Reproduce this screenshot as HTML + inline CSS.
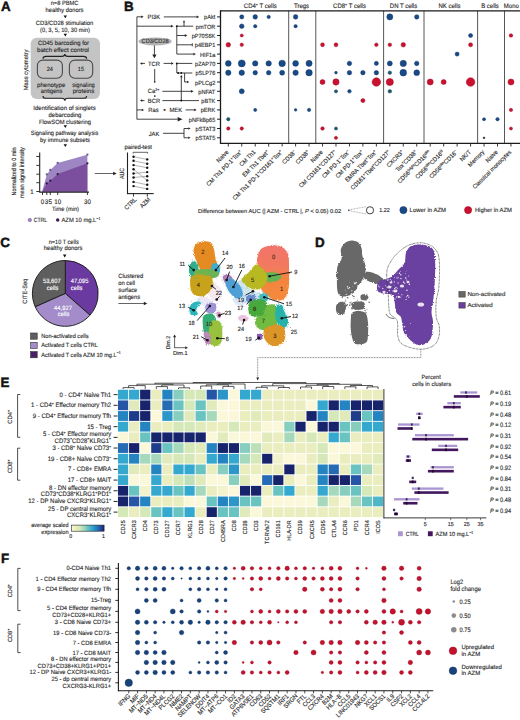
<!DOCTYPE html>
<html><head><meta charset="utf-8"><style>
html,body{margin:0;padding:0;background:#fff;width:520px;height:720px;overflow:hidden}
svg{display:block}
text{font-family:"Liberation Sans", sans-serif;text-rendering:geometricPrecision}
</style></head><body>
<svg width="520" height="720" viewBox="0 0 520 720">
<rect width="520" height="720" fill="#fff"/>
<text x="0.90" y="11.30" font-size="13.40" text-anchor="start" fill="#111" stroke="#111" stroke-width="0.45" font-weight="bold" >A</text>
<text x="64.50" y="5.30" font-size="6.21" text-anchor="middle" fill="#2a2a2a" stroke="#2a2a2a" stroke-width="0.13" textLength="27.70" lengthAdjust="spacingAndGlyphs" >n=8 PBMC</text>
<text x="64.50" y="11.80" font-size="6.21" text-anchor="middle" fill="#2a2a2a" stroke="#2a2a2a" stroke-width="0.13" textLength="38.00" lengthAdjust="spacingAndGlyphs" >healthy donors</text>
<polygon points="63.60,15.60 67.00,15.60 65.30,18.30" fill="#111"/>
<text x="64.50" y="25.00" font-size="6.21" text-anchor="middle" fill="#2a2a2a" stroke="#2a2a2a" stroke-width="0.13" textLength="57.50" lengthAdjust="spacingAndGlyphs" >CD3/CD28 stimulation</text>
<text x="65.00" y="31.60" font-size="6.21" text-anchor="middle" fill="#2a2a2a" stroke="#2a2a2a" stroke-width="0.13" textLength="50.00" lengthAdjust="spacingAndGlyphs" >(0, 3, 5, 10, 30 min)</text>
<polygon points="63.60,33.70 67.00,33.70 65.30,36.40" fill="#111"/>
<rect x="30.70" y="37.70" width="69.30" height="61.30" fill="#c4c4c4" stroke="none" stroke-width="0" rx="6"/>
<text x="63.50" y="44.60" font-size="6.21" text-anchor="middle" fill="#2a2a2a" stroke="#2a2a2a" stroke-width="0.13" textLength="51.00" lengthAdjust="spacingAndGlyphs" >CD45 barcoding for</text>
<text x="63.00" y="51.70" font-size="6.21" text-anchor="middle" fill="#2a2a2a" stroke="#2a2a2a" stroke-width="0.13" textLength="52.00" lengthAdjust="spacingAndGlyphs" >batch effect control</text>
<path d="M43.00,58.70 Q43.00,56.40 46.00,56.40 L61.80,56.40 Q64.80,56.40 64.80,54.10 Q64.80,56.40 67.80,56.40 L83.60,56.40 Q86.60,56.40 86.60,58.70" fill="none" stroke="#222" stroke-width="1.1" />
<rect x="37.40" y="60.10" width="25.00" height="18.20" fill="none" stroke="#4a4a4a" stroke-width="1.1" rx="5.5"/>
<rect x="69.40" y="60.10" width="23.30" height="18.10" fill="none" stroke="#4a4a4a" stroke-width="1.1" rx="5.5"/>
<text x="49.80" y="71.20" font-size="5.99" text-anchor="middle" fill="#2a2a2a" stroke="#2a2a2a" stroke-width="0.13" transform="translate(49.80 71.20) scale(0.9346 1) translate(-49.80 -71.20)" >24</text>
<text x="81.00" y="71.20" font-size="5.99" text-anchor="middle" fill="#2a2a2a" stroke="#2a2a2a" stroke-width="0.13" transform="translate(81.00 71.20) scale(0.9346 1) translate(-81.00 -71.20)" >15</text>
<text x="51.20" y="87.00" font-size="6.21" text-anchor="middle" fill="#2a2a2a" stroke="#2a2a2a" stroke-width="0.13" textLength="28.30" lengthAdjust="spacingAndGlyphs" >phenotype</text>
<text x="51.60" y="92.80" font-size="6.21" text-anchor="middle" fill="#2a2a2a" stroke="#2a2a2a" stroke-width="0.13" textLength="21.60" lengthAdjust="spacingAndGlyphs" >antigens</text>
<text x="83.50" y="87.00" font-size="6.21" text-anchor="middle" fill="#2a2a2a" stroke="#2a2a2a" stroke-width="0.13" textLength="22.50" lengthAdjust="spacingAndGlyphs" >signaling</text>
<text x="83.50" y="92.80" font-size="6.21" text-anchor="middle" fill="#2a2a2a" stroke="#2a2a2a" stroke-width="0.13" textLength="21.60" lengthAdjust="spacingAndGlyphs" >proteins</text>
<path d="M43.00,95.90 Q43.00,98.30 46.00,98.30 L61.80,98.30 Q64.80,98.30 64.80,100.70 Q64.80,98.30 67.80,98.30 L83.60,98.30 Q86.60,98.30 86.60,95.90" fill="none" stroke="#222" stroke-width="1.1" />
<text x="28.40" y="70.00" font-size="6.21" text-anchor="middle" fill="#2a2a2a" stroke="#2a2a2a" stroke-width="0.13" textLength="40.70" lengthAdjust="spacingAndGlyphs" transform="rotate(-90 28.40 70.00)" >Mass cytometry</text>
<text x="64.50" y="109.90" font-size="6.21" text-anchor="middle" fill="#2a2a2a" stroke="#2a2a2a" stroke-width="0.13" textLength="62.30" lengthAdjust="spacingAndGlyphs" >Identification of singlets</text>
<text x="65.00" y="117.30" font-size="6.21" text-anchor="middle" fill="#2a2a2a" stroke="#2a2a2a" stroke-width="0.13" textLength="32.90" lengthAdjust="spacingAndGlyphs" >debarcoding</text>
<text x="65.00" y="124.00" font-size="6.21" text-anchor="middle" fill="#2a2a2a" stroke="#2a2a2a" stroke-width="0.13" textLength="52.00" lengthAdjust="spacingAndGlyphs" >FlowSOM clustering</text>
<polygon points="63.60,125.30 67.00,125.30 65.30,128.00" fill="#111"/>
<text x="64.50" y="134.90" font-size="6.21" text-anchor="middle" fill="#2a2a2a" stroke="#2a2a2a" stroke-width="0.13" textLength="67.50" lengthAdjust="spacingAndGlyphs" >Signaling pathway analysis</text>
<text x="65.00" y="141.80" font-size="6.21" text-anchor="middle" fill="#2a2a2a" stroke="#2a2a2a" stroke-width="0.13" textLength="50.00" lengthAdjust="spacingAndGlyphs" >by immune subsets</text>
<polygon points="63.60,144.30 67.00,144.30 65.30,147.00" fill="#111"/>
<polygon points="42.2,191.5 46.8,174.4 50.3,170.0 57.7,163.0 87.4,154.7 87.4,191.8 42.2,191.8" fill="#9e85c4"/>
<polygon points="42.2,191.5 46.8,183.4 50.3,180.7 57.7,174.1 87.4,163.3 87.4,191.8 42.2,191.8" fill="#7b4f9e"/>
<circle cx="46.80" cy="174.40" r="1.15" fill="#6f5a8e" stroke="none" stroke-width="0"/>
<circle cx="50.30" cy="170.00" r="1.15" fill="#6f5a8e" stroke="none" stroke-width="0"/>
<circle cx="57.70" cy="163.00" r="1.15" fill="#6f5a8e" stroke="none" stroke-width="0"/>
<circle cx="87.40" cy="154.70" r="1.15" fill="#6f5a8e" stroke="none" stroke-width="0"/>
<circle cx="46.80" cy="183.40" r="1.15" fill="#34163f" stroke="none" stroke-width="0"/>
<circle cx="50.30" cy="180.70" r="1.15" fill="#34163f" stroke="none" stroke-width="0"/>
<circle cx="57.70" cy="174.10" r="1.15" fill="#34163f" stroke="none" stroke-width="0"/>
<circle cx="87.40" cy="163.30" r="1.15" fill="#34163f" stroke="none" stroke-width="0"/>
<line x1="39.70" y1="152.40" x2="39.70" y2="192.60" stroke="#222" stroke-width="1.1" />
<line x1="39.50" y1="192.10" x2="89.00" y2="192.10" stroke="#222" stroke-width="1.1" />
<line x1="36.30" y1="156.50" x2="39.70" y2="156.50" stroke="#222" stroke-width="0.9" />
<line x1="36.30" y1="165.40" x2="39.70" y2="165.40" stroke="#222" stroke-width="0.9" />
<line x1="36.30" y1="174.20" x2="39.70" y2="174.20" stroke="#222" stroke-width="0.9" />
<line x1="36.30" y1="182.70" x2="39.70" y2="182.70" stroke="#222" stroke-width="0.9" />
<line x1="36.30" y1="191.50" x2="39.70" y2="191.50" stroke="#222" stroke-width="0.9" />
<line x1="42.50" y1="192.00" x2="42.50" y2="195.00" stroke="#222" stroke-width="0.9" />
<line x1="46.80" y1="192.00" x2="46.80" y2="195.00" stroke="#222" stroke-width="0.9" />
<line x1="50.30" y1="192.00" x2="50.30" y2="195.00" stroke="#222" stroke-width="0.9" />
<line x1="57.70" y1="192.00" x2="57.70" y2="195.00" stroke="#222" stroke-width="0.9" />
<line x1="87.40" y1="192.00" x2="87.40" y2="195.00" stroke="#222" stroke-width="0.9" />
<text x="33.60" y="193.60" font-size="6.42" text-anchor="end" fill="#2a2a2a" stroke="#2a2a2a" stroke-width="0.13" transform="translate(33.60 193.60) scale(0.9346 1) translate(-33.60 -193.60)" >1</text>
<text x="42.50" y="203.90" font-size="6.63" text-anchor="middle" fill="#2a2a2a" stroke="#2a2a2a" stroke-width="0.13" transform="translate(42.50 203.90) scale(0.9346 1) translate(-42.50 -203.90)" >0</text>
<text x="46.50" y="203.90" font-size="6.63" text-anchor="middle" fill="#2a2a2a" stroke="#2a2a2a" stroke-width="0.13" transform="translate(46.50 203.90) scale(0.9346 1) translate(-46.50 -203.90)" >3</text>
<text x="50.30" y="203.90" font-size="6.63" text-anchor="middle" fill="#2a2a2a" stroke="#2a2a2a" stroke-width="0.13" transform="translate(50.30 203.90) scale(0.9346 1) translate(-50.30 -203.90)" >5</text>
<text x="57.70" y="203.90" font-size="6.63" text-anchor="middle" fill="#2a2a2a" stroke="#2a2a2a" stroke-width="0.13" transform="translate(57.70 203.90) scale(0.9346 1) translate(-57.70 -203.90)" >10</text>
<text x="87.40" y="203.90" font-size="6.63" text-anchor="middle" fill="#2a2a2a" stroke="#2a2a2a" stroke-width="0.13" transform="translate(87.40 203.90) scale(0.9346 1) translate(-87.40 -203.90)" >30</text>
<text x="65.50" y="211.30" font-size="6.21" text-anchor="middle" fill="#2a2a2a" stroke="#2a2a2a" stroke-width="0.13" textLength="27.00" lengthAdjust="spacingAndGlyphs" >Time (min)</text>
<text x="15.80" y="171.50" font-size="6.21" text-anchor="middle" fill="#2a2a2a" stroke="#2a2a2a" stroke-width="0.13" textLength="48.00" lengthAdjust="spacingAndGlyphs" transform="rotate(-90 15.80 171.50)" >Normalized to 0 min</text>
<text x="24.20" y="172.60" font-size="6.21" text-anchor="middle" fill="#2a2a2a" stroke="#2a2a2a" stroke-width="0.13" textLength="50.70" lengthAdjust="spacingAndGlyphs" transform="rotate(-90 24.20 172.60)" >mean signal intensity</text>
<circle cx="29.80" cy="220.00" r="1.70" fill="#a48cc8" stroke="#6e5a90" stroke-width="0.6"/>
<text x="33.70" y="222.10" font-size="6.21" text-anchor="start" fill="#2a2a2a" stroke="#2a2a2a" stroke-width="0.13" textLength="13.40" lengthAdjust="spacingAndGlyphs" >CTRL</text>
<circle cx="57.70" cy="220.00" r="1.70" fill="#3a1a4e" stroke="none" stroke-width="0"/>
<text x="61.50" y="222.10" font-size="6.21" text-anchor="start" fill="#2a2a2a" stroke="#2a2a2a" stroke-width="0.13" transform="translate(61.50 222.10) scale(0.9346 1) translate(-61.50 -222.10)" >AZM 10 mg.L<tspan font-size="3.85" dy="-2.35">−1</tspan></text>
<line x1="94.80" y1="173.50" x2="113.30" y2="173.50" stroke="#222" stroke-width="0.7" />
<polygon points="113.10,171.68 116.70,173.50 113.10,175.32" fill="#222"/>
<text x="124.30" y="173.50" font-size="6.21" text-anchor="middle" fill="#2a2a2a" stroke="#2a2a2a" stroke-width="0.13" textLength="11.00" lengthAdjust="spacingAndGlyphs" transform="rotate(-90 124.30 173.50)" >AUC</text>
<text x="138.20" y="148.80" font-size="6.21" text-anchor="middle" fill="#2a2a2a" stroke="#2a2a2a" stroke-width="0.13" textLength="27.60" lengthAdjust="spacingAndGlyphs" >paired-test</text>
<path d="M133.1,153.6 L133.1,152.3 L147.6,152.3 L147.6,153.6" fill="none" stroke="#222" stroke-width="0.7" />
<line x1="127.50" y1="152.50" x2="127.50" y2="194.10" stroke="#222" stroke-width="1.1" />
<line x1="127.00" y1="193.60" x2="153.70" y2="193.60" stroke="#222" stroke-width="1.1" />
<line x1="133.50" y1="193.60" x2="133.50" y2="196.60" stroke="#222" stroke-width="0.9" />
<line x1="147.30" y1="193.60" x2="147.30" y2="196.60" stroke="#222" stroke-width="0.9" />
<line x1="133.55" y1="156.70" x2="147.20" y2="159.40" stroke="#777" stroke-width="0.55" />
<line x1="133.55" y1="160.80" x2="147.20" y2="163.70" stroke="#777" stroke-width="0.55" />
<line x1="133.55" y1="165.10" x2="147.20" y2="167.80" stroke="#777" stroke-width="0.55" />
<line x1="133.55" y1="169.30" x2="147.20" y2="180.40" stroke="#777" stroke-width="0.55" />
<line x1="133.55" y1="173.50" x2="147.20" y2="172.10" stroke="#777" stroke-width="0.55" />
<line x1="133.55" y1="177.50" x2="147.20" y2="176.30" stroke="#777" stroke-width="0.55" />
<line x1="133.55" y1="181.90" x2="147.20" y2="184.80" stroke="#777" stroke-width="0.55" />
<line x1="133.55" y1="186.10" x2="147.20" y2="188.90" stroke="#777" stroke-width="0.55" />
<circle cx="133.55" cy="156.70" r="1.20" fill="#111" stroke="none" stroke-width="0"/>
<circle cx="147.20" cy="159.40" r="1.20" fill="#111" stroke="none" stroke-width="0"/>
<circle cx="133.55" cy="160.80" r="1.20" fill="#111" stroke="none" stroke-width="0"/>
<circle cx="147.20" cy="163.70" r="1.20" fill="#111" stroke="none" stroke-width="0"/>
<circle cx="133.55" cy="165.10" r="1.20" fill="#111" stroke="none" stroke-width="0"/>
<circle cx="147.20" cy="167.80" r="1.20" fill="#111" stroke="none" stroke-width="0"/>
<circle cx="133.55" cy="169.30" r="1.20" fill="#111" stroke="none" stroke-width="0"/>
<circle cx="147.20" cy="172.10" r="1.20" fill="#111" stroke="none" stroke-width="0"/>
<circle cx="133.55" cy="173.50" r="1.20" fill="#111" stroke="none" stroke-width="0"/>
<circle cx="147.20" cy="176.30" r="1.20" fill="#111" stroke="none" stroke-width="0"/>
<circle cx="133.55" cy="177.50" r="1.20" fill="#111" stroke="none" stroke-width="0"/>
<circle cx="147.20" cy="180.40" r="1.20" fill="#111" stroke="none" stroke-width="0"/>
<circle cx="133.55" cy="181.90" r="1.20" fill="#111" stroke="none" stroke-width="0"/>
<circle cx="147.20" cy="184.80" r="1.20" fill="#111" stroke="none" stroke-width="0"/>
<circle cx="133.55" cy="186.10" r="1.20" fill="#111" stroke="none" stroke-width="0"/>
<circle cx="147.20" cy="188.90" r="1.20" fill="#111" stroke="none" stroke-width="0"/>
<text x="137.00" y="200.00" font-size="6.21" text-anchor="end" fill="#2a2a2a" stroke="#2a2a2a" stroke-width="0.13" textLength="14.50" lengthAdjust="spacingAndGlyphs" transform="rotate(-45 137.00 200.00)" >CTRL</text>
<text x="150.80" y="200.00" font-size="6.21" text-anchor="end" fill="#2a2a2a" stroke="#2a2a2a" stroke-width="0.13" textLength="12.00" lengthAdjust="spacingAndGlyphs" transform="rotate(-45 150.80 200.00)" >AZM</text>
<text x="123.90" y="11.30" font-size="13.40" text-anchor="start" fill="#111" stroke="#111" stroke-width="0.45" font-weight="bold" >B</text>
<line x1="217.00" y1="16.90" x2="220.50" y2="16.90" stroke="#222" stroke-width="1.0" />
<text x="215.30" y="19.40" font-size="5.99" text-anchor="end" fill="#2a2a2a" stroke="#2a2a2a" stroke-width="0.13" transform="translate(215.30 19.40) scale(0.9346 1) translate(-215.30 -19.40)" >pAkt</text>
<line x1="217.00" y1="26.20" x2="220.50" y2="26.20" stroke="#222" stroke-width="1.0" />
<text x="215.30" y="28.70" font-size="5.99" text-anchor="end" fill="#2a2a2a" stroke="#2a2a2a" stroke-width="0.13" transform="translate(215.30 28.70) scale(0.9346 1) translate(-215.30 -28.70)" >pmTOR</text>
<line x1="217.00" y1="35.50" x2="220.50" y2="35.50" stroke="#222" stroke-width="1.0" />
<text x="215.30" y="38.00" font-size="5.99" text-anchor="end" fill="#2a2a2a" stroke="#2a2a2a" stroke-width="0.13" transform="translate(215.30 38.00) scale(0.9346 1) translate(-215.30 -38.00)" >pP70S6K</text>
<line x1="217.00" y1="44.80" x2="220.50" y2="44.80" stroke="#222" stroke-width="1.0" />
<text x="215.30" y="47.30" font-size="5.99" text-anchor="end" fill="#2a2a2a" stroke="#2a2a2a" stroke-width="0.13" transform="translate(215.30 47.30) scale(0.9346 1) translate(-215.30 -47.30)" >p4EBP1</text>
<line x1="217.00" y1="54.10" x2="220.50" y2="54.10" stroke="#222" stroke-width="1.0" />
<text x="215.30" y="56.60" font-size="5.99" text-anchor="end" fill="#2a2a2a" stroke="#2a2a2a" stroke-width="0.13" transform="translate(215.30 56.60) scale(0.9346 1) translate(-215.30 -56.60)" >HIF1a</text>
<line x1="217.00" y1="63.40" x2="220.50" y2="63.40" stroke="#222" stroke-width="1.0" />
<text x="215.30" y="65.90" font-size="5.99" text-anchor="end" fill="#2a2a2a" stroke="#2a2a2a" stroke-width="0.13" transform="translate(215.30 65.90) scale(0.9346 1) translate(-215.30 -65.90)" >pZAP70</text>
<line x1="217.00" y1="72.70" x2="220.50" y2="72.70" stroke="#222" stroke-width="1.0" />
<text x="215.30" y="75.20" font-size="5.99" text-anchor="end" fill="#2a2a2a" stroke="#2a2a2a" stroke-width="0.13" transform="translate(215.30 75.20) scale(0.9346 1) translate(-215.30 -75.20)" >pSLP76</text>
<line x1="217.00" y1="82.00" x2="220.50" y2="82.00" stroke="#222" stroke-width="1.0" />
<text x="215.30" y="84.50" font-size="5.99" text-anchor="end" fill="#2a2a2a" stroke="#2a2a2a" stroke-width="0.13" transform="translate(215.30 84.50) scale(0.9346 1) translate(-215.30 -84.50)" >pPLCg2</text>
<line x1="217.00" y1="91.30" x2="220.50" y2="91.30" stroke="#222" stroke-width="1.0" />
<text x="215.30" y="93.80" font-size="5.99" text-anchor="end" fill="#2a2a2a" stroke="#2a2a2a" stroke-width="0.13" transform="translate(215.30 93.80) scale(0.9346 1) translate(-215.30 -93.80)" >pNFAT</text>
<line x1="217.00" y1="100.60" x2="220.50" y2="100.60" stroke="#222" stroke-width="1.0" />
<text x="215.30" y="103.10" font-size="5.99" text-anchor="end" fill="#2a2a2a" stroke="#2a2a2a" stroke-width="0.13" transform="translate(215.30 103.10) scale(0.9346 1) translate(-215.30 -103.10)" >pBTK</text>
<line x1="217.00" y1="109.90" x2="220.50" y2="109.90" stroke="#222" stroke-width="1.0" />
<text x="215.30" y="112.40" font-size="5.99" text-anchor="end" fill="#2a2a2a" stroke="#2a2a2a" stroke-width="0.13" transform="translate(215.30 112.40) scale(0.9346 1) translate(-215.30 -112.40)" >pERK</text>
<line x1="217.00" y1="119.20" x2="220.50" y2="119.20" stroke="#222" stroke-width="1.0" />
<text x="215.30" y="121.70" font-size="5.99" text-anchor="end" fill="#2a2a2a" stroke="#2a2a2a" stroke-width="0.13" transform="translate(215.30 121.70) scale(0.9346 1) translate(-215.30 -121.70)" >pNFkBp65</text>
<line x1="217.00" y1="128.50" x2="220.50" y2="128.50" stroke="#222" stroke-width="1.0" />
<text x="215.30" y="131.00" font-size="5.99" text-anchor="end" fill="#2a2a2a" stroke="#2a2a2a" stroke-width="0.13" transform="translate(215.30 131.00) scale(0.9346 1) translate(-215.30 -131.00)" >pSTAT3</text>
<line x1="217.00" y1="137.80" x2="220.50" y2="137.80" stroke="#222" stroke-width="1.0" />
<text x="215.30" y="140.30" font-size="5.99" text-anchor="end" fill="#2a2a2a" stroke="#2a2a2a" stroke-width="0.13" transform="translate(215.30 140.30) scale(0.9346 1) translate(-215.30 -140.30)" >pSTAT5</text>
<line x1="288.70" y1="10.80" x2="288.70" y2="143.30" stroke="#444" stroke-width="0.9" />
<line x1="315.80" y1="10.80" x2="315.80" y2="143.30" stroke="#444" stroke-width="0.9" />
<line x1="383.60" y1="10.80" x2="383.60" y2="143.30" stroke="#444" stroke-width="0.9" />
<line x1="424.00" y1="10.80" x2="424.00" y2="143.30" stroke="#444" stroke-width="0.9" />
<line x1="477.60" y1="10.80" x2="477.60" y2="143.30" stroke="#444" stroke-width="0.9" />
<line x1="504.50" y1="10.80" x2="504.50" y2="143.30" stroke="#444" stroke-width="0.9" />
<line x1="220.50" y1="10.80" x2="521.00" y2="10.80" stroke="#1a1a1a" stroke-width="1.3" />
<line x1="220.50" y1="10.15" x2="220.50" y2="143.95" stroke="#1a1a1a" stroke-width="1.3" />
<line x1="220.50" y1="143.30" x2="521.00" y2="143.30" stroke="#1a1a1a" stroke-width="1.3" />
<line x1="228.30" y1="143.30" x2="228.30" y2="146.50" stroke="#222" stroke-width="0.9" />
<line x1="241.76" y1="143.30" x2="241.76" y2="146.50" stroke="#222" stroke-width="0.9" />
<line x1="255.22" y1="143.30" x2="255.22" y2="146.50" stroke="#222" stroke-width="0.9" />
<line x1="268.68" y1="143.30" x2="268.68" y2="146.50" stroke="#222" stroke-width="0.9" />
<line x1="282.14" y1="143.30" x2="282.14" y2="146.50" stroke="#222" stroke-width="0.9" />
<line x1="295.60" y1="143.30" x2="295.60" y2="146.50" stroke="#222" stroke-width="0.9" />
<line x1="309.06" y1="143.30" x2="309.06" y2="146.50" stroke="#222" stroke-width="0.9" />
<line x1="322.52" y1="143.30" x2="322.52" y2="146.50" stroke="#222" stroke-width="0.9" />
<line x1="335.98" y1="143.30" x2="335.98" y2="146.50" stroke="#222" stroke-width="0.9" />
<line x1="349.44" y1="143.30" x2="349.44" y2="146.50" stroke="#222" stroke-width="0.9" />
<line x1="362.90" y1="143.30" x2="362.90" y2="146.50" stroke="#222" stroke-width="0.9" />
<line x1="376.36" y1="143.30" x2="376.36" y2="146.50" stroke="#222" stroke-width="0.9" />
<line x1="389.82" y1="143.30" x2="389.82" y2="146.50" stroke="#222" stroke-width="0.9" />
<line x1="403.28" y1="143.30" x2="403.28" y2="146.50" stroke="#222" stroke-width="0.9" />
<line x1="416.74" y1="143.30" x2="416.74" y2="146.50" stroke="#222" stroke-width="0.9" />
<line x1="430.20" y1="143.30" x2="430.20" y2="146.50" stroke="#222" stroke-width="0.9" />
<line x1="443.66" y1="143.30" x2="443.66" y2="146.50" stroke="#222" stroke-width="0.9" />
<line x1="457.12" y1="143.30" x2="457.12" y2="146.50" stroke="#222" stroke-width="0.9" />
<line x1="470.58" y1="143.30" x2="470.58" y2="146.50" stroke="#222" stroke-width="0.9" />
<line x1="484.04" y1="143.30" x2="484.04" y2="146.50" stroke="#222" stroke-width="0.9" />
<line x1="497.50" y1="143.30" x2="497.50" y2="146.50" stroke="#222" stroke-width="0.9" />
<line x1="510.96" y1="143.30" x2="510.96" y2="146.50" stroke="#222" stroke-width="0.9" />
<text x="260.30" y="8.30" font-size="6.42" text-anchor="middle" fill="#2a2a2a" stroke="#2a2a2a" stroke-width="0.13" transform="translate(260.30 8.30) scale(0.9346 1) translate(-260.30 -8.30)" >CD4<tspan font-size="3.85" dy="-2.14">+</tspan><tspan dy="2.14"> T cells</tspan></text>
<text x="301.50" y="8.30" font-size="6.42" text-anchor="middle" fill="#2a2a2a" stroke="#2a2a2a" stroke-width="0.13" transform="translate(301.50 8.30) scale(0.9346 1) translate(-301.50 -8.30)" >Tregs</text>
<text x="349.50" y="8.30" font-size="6.42" text-anchor="middle" fill="#2a2a2a" stroke="#2a2a2a" stroke-width="0.13" transform="translate(349.50 8.30) scale(0.9346 1) translate(-349.50 -8.30)" >CD8<tspan font-size="3.85" dy="-2.14">+</tspan><tspan dy="2.14"> T cells</tspan></text>
<text x="403.50" y="8.30" font-size="6.42" text-anchor="middle" fill="#2a2a2a" stroke="#2a2a2a" stroke-width="0.13" transform="translate(403.50 8.30) scale(0.9346 1) translate(-403.50 -8.30)" >DN T cells</text>
<text x="449.50" y="8.30" font-size="6.42" text-anchor="middle" fill="#2a2a2a" stroke="#2a2a2a" stroke-width="0.13" transform="translate(449.50 8.30) scale(0.9346 1) translate(-449.50 -8.30)" >NK cells</text>
<text x="490.00" y="8.30" font-size="6.42" text-anchor="middle" fill="#2a2a2a" stroke="#2a2a2a" stroke-width="0.13" transform="translate(490.00 8.30) scale(0.9346 1) translate(-490.00 -8.30)" >B cells</text>
<text x="511.35" y="8.30" font-size="6.42" text-anchor="middle" fill="#2a2a2a" stroke="#2a2a2a" stroke-width="0.13" transform="translate(511.35 8.30) scale(0.9346 1) translate(-511.35 -8.30)" >Mono</text>
<circle cx="241.76" cy="16.90" r="2.10" fill="#194a88" stroke="#0d335f" stroke-width="0.45"/>
<circle cx="255.22" cy="16.90" r="2.30" fill="#194a88" stroke="#0d335f" stroke-width="0.45"/>
<circle cx="268.68" cy="16.90" r="1.70" fill="#194a88" stroke="#0d335f" stroke-width="0.45"/>
<circle cx="295.60" cy="16.90" r="2.30" fill="#194a88" stroke="#0d335f" stroke-width="0.45"/>
<circle cx="241.76" cy="26.20" r="2.30" fill="#194a88" stroke="#0d335f" stroke-width="0.45"/>
<circle cx="255.22" cy="26.20" r="1.70" fill="#194a88" stroke="#0d335f" stroke-width="0.45"/>
<circle cx="295.60" cy="26.20" r="1.70" fill="#194a88" stroke="#0d335f" stroke-width="0.45"/>
<circle cx="241.76" cy="35.50" r="1.55" fill="#cc1030" stroke="#980a20" stroke-width="0.45"/>
<circle cx="228.30" cy="44.80" r="2.30" fill="#cc1030" stroke="#980a20" stroke-width="0.45"/>
<circle cx="241.76" cy="44.80" r="1.70" fill="#cc1030" stroke="#980a20" stroke-width="0.45"/>
<circle cx="228.30" cy="63.40" r="2.90" fill="#194a88" stroke="#0d335f" stroke-width="0.45"/>
<circle cx="241.76" cy="63.40" r="3.50" fill="#194a88" stroke="#0d335f" stroke-width="0.45"/>
<circle cx="255.22" cy="63.40" r="2.70" fill="#194a88" stroke="#0d335f" stroke-width="0.45"/>
<circle cx="268.68" cy="63.40" r="2.70" fill="#194a88" stroke="#0d335f" stroke-width="0.45"/>
<circle cx="282.14" cy="63.40" r="3.25" fill="#194a88" stroke="#0d335f" stroke-width="0.45"/>
<circle cx="295.60" cy="63.40" r="2.90" fill="#194a88" stroke="#0d335f" stroke-width="0.45"/>
<circle cx="309.06" cy="63.40" r="3.05" fill="#194a88" stroke="#0d335f" stroke-width="0.45"/>
<circle cx="228.30" cy="72.70" r="2.70" fill="#194a88" stroke="#0d335f" stroke-width="0.45"/>
<circle cx="241.76" cy="72.70" r="2.75" fill="#194a88" stroke="#0d335f" stroke-width="0.45"/>
<circle cx="255.22" cy="72.70" r="2.30" fill="#194a88" stroke="#0d335f" stroke-width="0.45"/>
<circle cx="268.68" cy="72.70" r="2.30" fill="#194a88" stroke="#0d335f" stroke-width="0.45"/>
<circle cx="282.14" cy="72.70" r="2.50" fill="#194a88" stroke="#0d335f" stroke-width="0.45"/>
<circle cx="295.60" cy="72.70" r="2.70" fill="#194a88" stroke="#0d335f" stroke-width="0.45"/>
<circle cx="309.06" cy="72.70" r="3.25" fill="#194a88" stroke="#0d335f" stroke-width="0.45"/>
<circle cx="241.76" cy="91.30" r="2.50" fill="#194a88" stroke="#0d335f" stroke-width="0.45"/>
<circle cx="255.22" cy="109.90" r="1.55" fill="#194a88" stroke="#0d335f" stroke-width="0.45"/>
<circle cx="295.60" cy="109.90" r="1.30" fill="#194a88" stroke="#0d335f" stroke-width="0.45"/>
<circle cx="309.06" cy="109.90" r="1.70" fill="#194a88" stroke="#0d335f" stroke-width="0.45"/>
<circle cx="228.30" cy="119.20" r="1.70" fill="#1d5a72" stroke="#123e50" stroke-width="0.45"/>
<circle cx="228.30" cy="128.50" r="1.70" fill="#cc1030" stroke="#980a20" stroke-width="0.45"/>
<circle cx="241.76" cy="128.50" r="1.70" fill="#cc1030" stroke="#980a20" stroke-width="0.45"/>
<circle cx="389.82" cy="16.90" r="3.05" fill="#194a88" stroke="#0d335f" stroke-width="0.45"/>
<circle cx="416.74" cy="16.90" r="2.25" fill="#194a88" stroke="#0d335f" stroke-width="0.45"/>
<circle cx="322.52" cy="44.80" r="1.95" fill="#cc1030" stroke="#980a20" stroke-width="0.45"/>
<circle cx="335.98" cy="44.80" r="1.95" fill="#cc1030" stroke="#980a20" stroke-width="0.45"/>
<circle cx="376.36" cy="44.80" r="1.80" fill="#cc1030" stroke="#980a20" stroke-width="0.45"/>
<circle cx="389.82" cy="44.80" r="1.80" fill="#cc1030" stroke="#980a20" stroke-width="0.45"/>
<circle cx="403.28" cy="44.80" r="2.25" fill="#cc1030" stroke="#980a20" stroke-width="0.45"/>
<circle cx="349.44" cy="63.40" r="2.25" fill="#194a88" stroke="#0d335f" stroke-width="0.45"/>
<circle cx="376.36" cy="63.40" r="2.05" fill="#194a88" stroke="#0d335f" stroke-width="0.45"/>
<circle cx="389.82" cy="63.40" r="2.50" fill="#194a88" stroke="#0d335f" stroke-width="0.45"/>
<circle cx="403.28" cy="63.40" r="3.15" fill="#194a88" stroke="#0d335f" stroke-width="0.45"/>
<circle cx="416.74" cy="63.40" r="2.25" fill="#194a88" stroke="#0d335f" stroke-width="0.45"/>
<circle cx="335.98" cy="72.70" r="1.35" fill="#194a88" stroke="#0d335f" stroke-width="0.45"/>
<circle cx="349.44" cy="72.70" r="2.25" fill="#194a88" stroke="#0d335f" stroke-width="0.45"/>
<circle cx="362.90" cy="72.70" r="2.25" fill="#194a88" stroke="#0d335f" stroke-width="0.45"/>
<circle cx="376.36" cy="72.70" r="2.25" fill="#194a88" stroke="#0d335f" stroke-width="0.45"/>
<circle cx="389.82" cy="72.70" r="1.80" fill="#1d5a72" stroke="#123e50" stroke-width="0.45"/>
<circle cx="403.28" cy="72.70" r="3.35" fill="#194a88" stroke="#0d335f" stroke-width="0.45"/>
<circle cx="416.74" cy="72.70" r="2.90" fill="#194a88" stroke="#0d335f" stroke-width="0.45"/>
<circle cx="322.52" cy="82.00" r="2.50" fill="#cc1030" stroke="#980a20" stroke-width="0.45"/>
<circle cx="335.98" cy="82.00" r="3.15" fill="#cc1030" stroke="#980a20" stroke-width="0.45"/>
<circle cx="376.36" cy="82.00" r="4.25" fill="#cc1030" stroke="#980a20" stroke-width="0.45"/>
<circle cx="389.82" cy="82.00" r="3.60" fill="#cc1030" stroke="#980a20" stroke-width="0.45"/>
<circle cx="335.98" cy="91.30" r="1.60" fill="#1d5a72" stroke="#123e50" stroke-width="0.45"/>
<circle cx="349.44" cy="91.30" r="1.80" fill="#194a88" stroke="#0d335f" stroke-width="0.45"/>
<circle cx="389.82" cy="91.30" r="1.80" fill="#1d5a72" stroke="#123e50" stroke-width="0.45"/>
<circle cx="362.90" cy="100.60" r="2.05" fill="#cc1030" stroke="#980a20" stroke-width="0.45"/>
<circle cx="322.52" cy="128.50" r="1.80" fill="#cc1030" stroke="#980a20" stroke-width="0.45"/>
<circle cx="335.98" cy="128.50" r="1.60" fill="#1d5a72" stroke="#123e50" stroke-width="0.45"/>
<circle cx="335.98" cy="137.80" r="1.60" fill="#cc1030" stroke="#980a20" stroke-width="0.45"/>
<circle cx="470.58" cy="35.50" r="2.05" fill="#194a88" stroke="#0d335f" stroke-width="0.45"/>
<circle cx="470.58" cy="44.80" r="2.05" fill="#cc1030" stroke="#980a20" stroke-width="0.45"/>
<circle cx="457.12" cy="54.10" r="2.05" fill="#194a88" stroke="#0d335f" stroke-width="0.45"/>
<circle cx="510.96" cy="35.50" r="1.80" fill="#cc1030" stroke="#980a20" stroke-width="0.45"/>
<circle cx="430.20" cy="82.00" r="3.05" fill="#cc1030" stroke="#980a20" stroke-width="0.45"/>
<circle cx="443.66" cy="82.00" r="2.50" fill="#cc1030" stroke="#980a20" stroke-width="0.45"/>
<circle cx="470.58" cy="82.00" r="4.30" fill="#cc1030" stroke="#980a20" stroke-width="0.45"/>
<circle cx="510.96" cy="82.00" r="3.05" fill="#cc1030" stroke="#980a20" stroke-width="0.45"/>
<circle cx="510.96" cy="109.90" r="1.70" fill="#cc1030" stroke="#980a20" stroke-width="0.45"/>
<circle cx="484.04" cy="119.20" r="1.55" fill="#194a88" stroke="#0d335f" stroke-width="0.45"/>
<circle cx="497.50" cy="119.20" r="1.70" fill="#194a88" stroke="#0d335f" stroke-width="0.45"/>
<circle cx="510.96" cy="128.50" r="1.55" fill="#cc1030" stroke="#980a20" stroke-width="0.45"/>
<circle cx="484.04" cy="137.80" r="0.90" fill="#222" stroke="#111" stroke-width="0.45"/>
<line x1="136.90" y1="16.80" x2="136.90" y2="119.30" stroke="#222" stroke-width="0.85" />
<line x1="136.90" y1="16.80" x2="141.40" y2="16.80" stroke="#222" stroke-width="0.85" />
<polygon points="141.20,15.40 143.60,16.80 141.20,18.20" fill="#222"/>
<text x="153.90" y="18.90" font-size="6.21" text-anchor="middle" fill="#2a2a2a" stroke="#2a2a2a" stroke-width="0.13" transform="translate(153.90 18.90) scale(0.9346 1) translate(-153.90 -18.90)" >PI3K</text>
<line x1="163.80" y1="16.90" x2="196.76" y2="16.90" stroke="#222" stroke-width="0.85" />
<polygon points="196.56,15.50 199.20,16.90 196.56,18.30" fill="#222"/>
<line x1="136.90" y1="26.20" x2="171.16" y2="26.20" stroke="#222" stroke-width="0.85" />
<polygon points="170.96,24.80 173.60,26.20 170.96,27.60" fill="#222"/>
<circle cx="176.80" cy="26.20" r="1.00" fill="#111" stroke="none" stroke-width="0"/>
<line x1="176.80" y1="26.20" x2="193.20" y2="26.20" stroke="#222" stroke-width="0.85" />
<line x1="184.00" y1="22.02" x2="184.00" y2="26.20" stroke="#222" stroke-width="0.85" />
<polygon points="182.88,22.22 184.00,20.30 185.12,22.22" fill="#222"/>
<line x1="176.80" y1="26.20" x2="176.80" y2="54.10" stroke="#222" stroke-width="0.85" />
<line x1="176.80" y1="35.50" x2="185.00" y2="35.50" stroke="#222" stroke-width="0.85" />
<polygon points="184.80,34.10 187.20,35.50 184.80,36.90" fill="#222"/>
<line x1="176.80" y1="44.80" x2="192.30" y2="44.80" stroke="#222" stroke-width="0.85" />
<line x1="192.30" y1="43.20" x2="192.30" y2="46.40" stroke="#222" stroke-width="0.8" />
<line x1="176.80" y1="54.10" x2="193.60" y2="54.10" stroke="#222" stroke-width="0.85" />
<polygon points="193.40,52.70 195.80,54.10 193.40,55.50" fill="#222"/>
<ellipse cx="155.1" cy="41.4" rx="16.6" ry="4.0" fill="#b4b4b4"/>
<text x="155.10" y="43.40" font-size="6.21" text-anchor="middle" fill="#333" stroke="#333" stroke-width="0.13" textLength="27.00" lengthAdjust="spacingAndGlyphs" >CD3/CD28</text>
<line x1="154.40" y1="45.40" x2="154.40" y2="54.80" stroke="#222" stroke-width="0.85" />
<polygon points="152.30,54.60 154.40,58.20 156.50,54.60" fill="#222"/>
<text x="154.00" y="66.10" font-size="6.21" text-anchor="middle" fill="#2a2a2a" stroke="#2a2a2a" stroke-width="0.13" transform="translate(154.00 66.10) scale(0.9346 1) translate(-154.00 -66.10)" >TCR</text>
<line x1="141.96" y1="63.40" x2="145.00" y2="63.40" stroke="#222" stroke-width="0.85" />
<polygon points="142.16,62.14 140.00,63.40 142.16,64.66" fill="#222"/>
<line x1="163.60" y1="63.40" x2="171.40" y2="63.40" stroke="#222" stroke-width="0.85" />
<polygon points="171.20,62.00 173.60,63.40 171.20,64.80" fill="#222"/>
<circle cx="176.80" cy="63.40" r="1.00" fill="#111" stroke="none" stroke-width="0"/>
<line x1="176.80" y1="63.40" x2="192.30" y2="63.40" stroke="#222" stroke-width="0.85" />
<line x1="176.80" y1="63.40" x2="176.80" y2="73.00" stroke="#222" stroke-width="0.85" />
<line x1="176.80" y1="73.00" x2="192.30" y2="73.00" stroke="#222" stroke-width="0.85" />
<circle cx="178.20" cy="73.00" r="0.90" fill="#111" stroke="none" stroke-width="0"/>
<circle cx="181.30" cy="73.00" r="0.90" fill="#111" stroke="none" stroke-width="0"/>
<line x1="184.60" y1="73.00" x2="184.60" y2="82.00" stroke="#222" stroke-width="0.85" />
<line x1="184.60" y1="82.00" x2="187.24" y2="82.00" stroke="#222" stroke-width="0.85" />
<polygon points="187.04,80.74 189.20,82.00 187.04,83.26" fill="#222"/>
<line x1="154.70" y1="69.00" x2="154.70" y2="82.00" stroke="#222" stroke-width="0.85" />
<circle cx="154.70" cy="82.00" r="0.80" fill="#111" stroke="none" stroke-width="0"/>
<text x="153.60" y="93.20" font-size="6.21" text-anchor="middle" fill="#2a2a2a" stroke="#2a2a2a" stroke-width="0.13" transform="translate(153.60 93.20) scale(0.9346 1) translate(-153.60 -93.20)" >Ca<tspan font-size="3.85" dy="-2.35">2+</tspan></text>
<line x1="162.40" y1="91.30" x2="191.16" y2="91.30" stroke="#222" stroke-width="0.85" />
<polygon points="190.96,89.90 193.60,91.30 190.96,92.70" fill="#222"/>
<circle cx="154.80" cy="96.00" r="0.85" fill="#111" stroke="none" stroke-width="0"/>
<text x="154.00" y="103.20" font-size="6.21" text-anchor="middle" fill="#2a2a2a" stroke="#2a2a2a" stroke-width="0.13" transform="translate(154.00 103.20) scale(0.9346 1) translate(-154.00 -103.20)" >BCR</text>
<line x1="141.96" y1="100.60" x2="144.50" y2="100.60" stroke="#222" stroke-width="0.85" />
<polygon points="142.16,99.34 140.00,100.60 142.16,101.86" fill="#222"/>
<line x1="162.40" y1="100.60" x2="199.00" y2="100.60" stroke="#222" stroke-width="0.85" />
<circle cx="181.30" cy="100.60" r="1.00" fill="#111" stroke="none" stroke-width="0"/>
<line x1="181.30" y1="77.06" x2="181.30" y2="100.60" stroke="#222" stroke-width="0.85" />
<polygon points="180.04,77.26 181.30,75.10 182.56,77.26" fill="#222"/>
<line x1="136.90" y1="109.90" x2="142.04" y2="109.90" stroke="#222" stroke-width="0.85" />
<polygon points="141.84,108.64 144.00,109.90 141.84,111.16" fill="#222"/>
<text x="153.40" y="112.00" font-size="6.21" text-anchor="middle" fill="#2a2a2a" stroke="#2a2a2a" stroke-width="0.13" transform="translate(153.40 112.00) scale(0.9346 1) translate(-153.40 -112.00)" >Ras</text>
<line x1="164.72" y1="109.90" x2="166.00" y2="109.90" stroke="#222" stroke-width="0.85" />
<polygon points="164.92,108.78 163.00,109.90 164.92,111.02" fill="#222"/>
<text x="175.80" y="112.00" font-size="6.21" text-anchor="middle" fill="#2a2a2a" stroke="#2a2a2a" stroke-width="0.13" transform="translate(175.80 112.00) scale(0.9346 1) translate(-175.80 -112.00)" >MEK</text>
<line x1="185.60" y1="109.90" x2="194.40" y2="109.90" stroke="#222" stroke-width="0.85" />
<polygon points="194.20,108.50 196.60,109.90 194.20,111.30" fill="#222"/>
<line x1="136.90" y1="119.20" x2="177.90" y2="119.20" stroke="#222" stroke-width="0.85" />
<polygon points="177.70,116.96 182.50,119.20 177.70,121.44" fill="#222"/>
<text x="154.00" y="135.60" font-size="6.21" text-anchor="middle" fill="#2a2a2a" stroke="#2a2a2a" stroke-width="0.13" transform="translate(154.00 135.60) scale(0.9346 1) translate(-154.00 -135.60)" >JAK</text>
<line x1="163.00" y1="133.30" x2="184.00" y2="133.30" stroke="#222" stroke-width="0.85" />
<line x1="184.00" y1="128.50" x2="184.00" y2="137.80" stroke="#222" stroke-width="0.85" />
<line x1="184.00" y1="128.50" x2="188.54" y2="128.50" stroke="#222" stroke-width="0.85" />
<polygon points="188.34,127.24 190.50,128.50 188.34,129.76" fill="#222"/>
<line x1="184.00" y1="137.80" x2="188.54" y2="137.80" stroke="#222" stroke-width="0.85" />
<polygon points="188.34,136.54 190.50,137.80 188.34,139.06" fill="#222"/>
<text x="229.10" y="152.60" font-size="6.10" text-anchor="end" fill="#2a2a2a" stroke="#2a2a2a" stroke-width="0.13" transform="rotate(-45 229.10 152.60) translate(229.10 152.60) scale(0.9346 1) translate(-229.10 -152.60)" >Naive</text>
<text x="242.56" y="152.60" font-size="6.10" text-anchor="end" fill="#2a2a2a" stroke="#2a2a2a" stroke-width="0.13" transform="rotate(-45 242.56 152.60) translate(242.56 152.60) scale(0.9346 1) translate(-242.56 -152.60)" >CM Th1 PD-1<tspan font-size="3.85" dy="-2.14">+</tspan><tspan dy="2.14">Tox<tspan font-size="3.85" dy="-2.14">+</tspan><tspan dy="2.14"></tspan></tspan></text>
<text x="256.02" y="152.60" font-size="6.10" text-anchor="end" fill="#2a2a2a" stroke="#2a2a2a" stroke-width="0.13" transform="rotate(-45 256.02 152.60) translate(256.02 152.60) scale(0.9346 1) translate(-256.02 -152.60)" >CM Th1</text>
<text x="269.48" y="152.60" font-size="6.10" text-anchor="end" fill="#2a2a2a" stroke="#2a2a2a" stroke-width="0.13" transform="rotate(-45 269.48 152.60) translate(269.48 152.60) scale(0.9346 1) translate(-269.48 -152.60)" >EM Th1 Tbet<tspan font-size="3.85" dy="-2.14">+</tspan><tspan dy="2.14"></tspan></text>
<text x="282.94" y="152.60" font-size="6.10" text-anchor="end" fill="#2a2a2a" stroke="#2a2a2a" stroke-width="0.13" transform="rotate(-45 282.94 152.60) translate(282.94 152.60) scale(0.9346 1) translate(-282.94 -152.60)" >CM Th1 PD-1<tspan font-size="3.85" dy="-2.14">+</tspan><tspan dy="2.14">CD161<tspan font-size="3.85" dy="-2.14">+</tspan><tspan dy="2.14">Tox<tspan font-size="3.85" dy="-2.14">+</tspan><tspan dy="2.14"></tspan></tspan></tspan></text>
<text x="296.40" y="152.60" font-size="6.10" text-anchor="end" fill="#2a2a2a" stroke="#2a2a2a" stroke-width="0.13" transform="rotate(-45 296.40 152.60) translate(296.40 152.60) scale(0.9346 1) translate(-296.40 -152.60)" >CD38<tspan font-size="3.85" dy="-2.14">−</tspan><tspan dy="2.14"></tspan></text>
<text x="309.86" y="152.60" font-size="6.10" text-anchor="end" fill="#2a2a2a" stroke="#2a2a2a" stroke-width="0.13" transform="rotate(-45 309.86 152.60) translate(309.86 152.60) scale(0.9346 1) translate(-309.86 -152.60)" >CD38<tspan font-size="3.85" dy="-2.14">+</tspan><tspan dy="2.14"></tspan></text>
<text x="323.32" y="152.60" font-size="6.10" text-anchor="end" fill="#2a2a2a" stroke="#2a2a2a" stroke-width="0.13" transform="rotate(-45 323.32 152.60) translate(323.32 152.60) scale(0.9346 1) translate(-323.32 -152.60)" >Naive</text>
<text x="336.78" y="152.60" font-size="6.10" text-anchor="end" fill="#2a2a2a" stroke="#2a2a2a" stroke-width="0.13" transform="rotate(-45 336.78 152.60) translate(336.78 152.60) scale(0.9346 1) translate(-336.78 -152.60)" >CM CD161<tspan font-size="3.85" dy="-2.14">+</tspan><tspan dy="2.14">CD127<tspan font-size="3.85" dy="-2.14">+</tspan><tspan dy="2.14"></tspan></tspan></text>
<text x="350.24" y="152.60" font-size="6.10" text-anchor="end" fill="#2a2a2a" stroke="#2a2a2a" stroke-width="0.13" transform="rotate(-45 350.24 152.60) translate(350.24 152.60) scale(0.9346 1) translate(-350.24 -152.60)" >CM PD-1<tspan font-size="3.85" dy="-2.14">−</tspan><tspan dy="2.14">Tox<tspan font-size="3.85" dy="-2.14">−</tspan><tspan dy="2.14"></tspan></tspan></text>
<text x="363.70" y="152.60" font-size="6.10" text-anchor="end" fill="#2a2a2a" stroke="#2a2a2a" stroke-width="0.13" transform="rotate(-45 363.70 152.60) translate(363.70 152.60) scale(0.9346 1) translate(-363.70 -152.60)" >CM PD-1<tspan font-size="3.85" dy="-2.14">+</tspan><tspan dy="2.14">Tox<tspan font-size="3.85" dy="-2.14">+</tspan><tspan dy="2.14"></tspan></tspan></text>
<text x="377.16" y="152.60" font-size="6.10" text-anchor="end" fill="#2a2a2a" stroke="#2a2a2a" stroke-width="0.13" transform="rotate(-45 377.16 152.60) translate(377.16 152.60) scale(0.9346 1) translate(-377.16 -152.60)" >EMRA Tbet<tspan font-size="3.85" dy="-2.14">+</tspan><tspan dy="2.14">Tox<tspan font-size="3.85" dy="-2.14">+</tspan><tspan dy="2.14"></tspan></tspan></text>
<text x="390.62" y="152.60" font-size="6.10" text-anchor="end" fill="#2a2a2a" stroke="#2a2a2a" stroke-width="0.13" transform="rotate(-45 390.62 152.60) translate(390.62 152.60) scale(0.9346 1) translate(-390.62 -152.60)" >CD161<tspan font-size="3.85" dy="-2.14">+</tspan><tspan dy="2.14">Tbet<tspan font-size="3.85" dy="-2.14">+</tspan><tspan dy="2.14">CD127<tspan font-size="3.85" dy="-2.14">+</tspan><tspan dy="2.14"></tspan></tspan></tspan></text>
<text x="404.08" y="152.60" font-size="6.10" text-anchor="end" fill="#2a2a2a" stroke="#2a2a2a" stroke-width="0.13" transform="rotate(-45 404.08 152.60) translate(404.08 152.60) scale(0.9346 1) translate(-404.08 -152.60)" >CXCR3<tspan font-size="3.85" dy="-2.14">+</tspan><tspan dy="2.14"></tspan></text>
<text x="417.54" y="152.60" font-size="6.10" text-anchor="end" fill="#2a2a2a" stroke="#2a2a2a" stroke-width="0.13" transform="rotate(-45 417.54 152.60) translate(417.54 152.60) scale(0.9346 1) translate(-417.54 -152.60)" >Tox<tspan font-size="3.85" dy="-2.14">+</tspan><tspan dy="2.14">CD38<tspan font-size="3.85" dy="-2.14">+</tspan><tspan dy="2.14"></tspan></tspan></text>
<text x="431.00" y="152.60" font-size="6.10" text-anchor="end" fill="#2a2a2a" stroke="#2a2a2a" stroke-width="0.13" transform="rotate(-45 431.00 152.60) translate(431.00 152.60) scale(0.9346 1) translate(-431.00 -152.60)" >CD56<tspan font-size="3.85" dy="-2.14">bright</tspan><tspan dy="2.14">CD16<tspan font-size="3.85" dy="-2.14">dim</tspan><tspan dy="2.14"></tspan></tspan></text>
<text x="444.46" y="152.60" font-size="6.10" text-anchor="end" fill="#2a2a2a" stroke="#2a2a2a" stroke-width="0.13" transform="rotate(-45 444.46 152.60) translate(444.46 152.60) scale(0.9346 1) translate(-444.46 -152.60)" >CD56<tspan font-size="3.85" dy="-2.14">dim</tspan><tspan dy="2.14">CD16<tspan font-size="3.85" dy="-2.14">hi</tspan><tspan dy="2.14"></tspan></tspan></text>
<text x="457.92" y="152.60" font-size="6.10" text-anchor="end" fill="#2a2a2a" stroke="#2a2a2a" stroke-width="0.13" transform="rotate(-45 457.92 152.60) translate(457.92 152.60) scale(0.9346 1) translate(-457.92 -152.60)" >CD56<tspan font-size="3.85" dy="-2.14">dim</tspan><tspan dy="2.14">CD16<tspan font-size="3.85" dy="-2.14">−</tspan><tspan dy="2.14"></tspan></tspan></text>
<text x="471.38" y="152.60" font-size="6.10" text-anchor="end" fill="#2a2a2a" stroke="#2a2a2a" stroke-width="0.13" transform="rotate(-45 471.38 152.60) translate(471.38 152.60) scale(0.9346 1) translate(-471.38 -152.60)" >NK/T</text>
<text x="484.84" y="152.60" font-size="6.10" text-anchor="end" fill="#2a2a2a" stroke="#2a2a2a" stroke-width="0.13" transform="rotate(-45 484.84 152.60) translate(484.84 152.60) scale(0.9346 1) translate(-484.84 -152.60)" >Memory</text>
<text x="498.30" y="152.60" font-size="6.10" text-anchor="end" fill="#2a2a2a" stroke="#2a2a2a" stroke-width="0.13" transform="rotate(-45 498.30 152.60) translate(498.30 152.60) scale(0.9346 1) translate(-498.30 -152.60)" >Naive</text>
<text x="511.76" y="152.60" font-size="6.10" text-anchor="end" fill="#2a2a2a" stroke="#2a2a2a" stroke-width="0.13" transform="rotate(-45 511.76 152.60) translate(511.76 152.60) scale(0.9346 1) translate(-511.76 -152.60)" >Classical monocytes</text>
<text x="198.00" y="213.00" font-size="5.78" text-anchor="start" fill="#2a2a2a" stroke="#2a2a2a" stroke-width="0.13" textLength="143.20" lengthAdjust="spacingAndGlyphs" >Difference between AUC (| AZM - CTRL |, <tspan font-style="italic">P</tspan> &lt; 0.05) 0.02</text>
<circle cx="348.80" cy="210.30" r="0.70" fill="#222" stroke="none" stroke-width="0"/>
<path d="M349.5,209.8 L366.5,206.6 M349.5,210.8 L366.5,214.0" fill="none" stroke="#444" stroke-width="0.5" stroke-dasharray="0.8,0.8"/>
<circle cx="370.00" cy="210.30" r="3.60" fill="none" stroke="#111" stroke-width="0.8"/>
<text x="379.30" y="212.30" font-size="5.78" text-anchor="start" fill="#2a2a2a" stroke="#2a2a2a" stroke-width="0.13" transform="translate(379.30 212.30) scale(0.9346 1) translate(-379.30 -212.30)" >1.22</text>
<circle cx="403.40" cy="210.10" r="3.60" fill="#194a88" stroke="#0d335f" stroke-width="0.5"/>
<text x="409.60" y="212.30" font-size="5.99" text-anchor="start" fill="#2a2a2a" stroke="#2a2a2a" stroke-width="0.13" textLength="36.40" lengthAdjust="spacingAndGlyphs" >Lower in AZM</text>
<circle cx="468.10" cy="210.10" r="3.60" fill="#cc1030" stroke="#980a20" stroke-width="0.5"/>
<text x="474.90" y="212.30" font-size="5.99" text-anchor="start" fill="#2a2a2a" stroke="#2a2a2a" stroke-width="0.13" textLength="37.10" lengthAdjust="spacingAndGlyphs" >Higher in AZM</text>
<text x="0.30" y="246.70" font-size="13.40" text-anchor="start" fill="#111" stroke="#111" stroke-width="0.45" font-weight="bold" >C</text>
<text x="63.70" y="244.40" font-size="6.21" text-anchor="middle" fill="#2a2a2a" stroke="#2a2a2a" stroke-width="0.13" textLength="30.00" lengthAdjust="spacingAndGlyphs" >n=10 T cells</text>
<text x="63.10" y="250.20" font-size="6.21" text-anchor="middle" fill="#2a2a2a" stroke="#2a2a2a" stroke-width="0.13" textLength="38.80" lengthAdjust="spacingAndGlyphs" >healthy donors</text>
<polygon points="63.00,254.40 66.40,254.40 64.70,257.60" fill="#111"/>
<path d="M65.3,293.4 L65.30,260.50 A32.9,32.9 0 0 1 89.98,315.16 Z" fill="#6b3aa0" stroke="#1e1e1e" stroke-width="0.95"/>
<path d="M65.3,293.4 L89.98,315.16 A32.9,32.9 0 0 1 35.20,306.68 Z" fill="#a48ccb" stroke="#1e1e1e" stroke-width="0.95"/>
<path d="M65.3,293.4 L35.20,306.68 A32.9,32.9 0 0 1 65.30,260.50 Z" fill="#5e5e5e" stroke="#1e1e1e" stroke-width="0.95"/>
<text x="51.80" y="283.40" font-size="6.21" text-anchor="middle" fill="#fff" stroke="#fff" stroke-width="0.13" transform="translate(51.80 283.40) scale(0.9346 1) translate(-51.80 -283.40)" >53,607</text>
<text x="52.60" y="289.60" font-size="6.21" text-anchor="middle" fill="#fff" stroke="#fff" stroke-width="0.13" transform="translate(52.60 289.60) scale(0.9346 1) translate(-52.60 -289.60)" >cells</text>
<text x="79.60" y="283.40" font-size="6.21" text-anchor="middle" fill="#fff" stroke="#fff" stroke-width="0.13" transform="translate(79.60 283.40) scale(0.9346 1) translate(-79.60 -283.40)" >47,095</text>
<text x="76.60" y="289.60" font-size="6.21" text-anchor="middle" fill="#fff" stroke="#fff" stroke-width="0.13" transform="translate(76.60 289.60) scale(0.9346 1) translate(-76.60 -289.60)" >cells</text>
<text x="63.00" y="310.00" font-size="6.21" text-anchor="middle" fill="#fff" stroke="#fff" stroke-width="0.13" transform="translate(63.00 310.00) scale(0.9346 1) translate(-63.00 -310.00)" >44,927</text>
<text x="63.60" y="316.20" font-size="6.21" text-anchor="middle" fill="#fff" stroke="#fff" stroke-width="0.13" transform="translate(63.60 316.20) scale(0.9346 1) translate(-63.60 -316.20)" >cells</text>
<text x="27.10" y="291.20" font-size="6.21" text-anchor="middle" fill="#2a2a2a" stroke="#2a2a2a" stroke-width="0.13" textLength="25.00" lengthAdjust="spacingAndGlyphs" transform="rotate(-90 27.10 291.20)" >CITE-Seq</text>
<rect x="30.60" y="333.00" width="6.60" height="6.20" fill="#5e5e5e" stroke="#333" stroke-width="0.6" rx="0"/>
<text x="41.30" y="338.00" font-size="5.99" text-anchor="start" fill="#2a2a2a" stroke="#2a2a2a" stroke-width="0.13" transform="translate(41.30 338.00) scale(0.9346 1) translate(-41.30 -338.00)" >Non-activated cells</text>
<rect x="30.60" y="342.30" width="6.60" height="6.20" fill="#a48ccb" stroke="#333" stroke-width="0.6" rx="0"/>
<text x="41.30" y="347.30" font-size="5.99" text-anchor="start" fill="#2a2a2a" stroke="#2a2a2a" stroke-width="0.13" transform="translate(41.30 347.30) scale(0.9346 1) translate(-41.30 -347.30)" >Activated T cells CTRL</text>
<rect x="30.60" y="351.60" width="6.60" height="6.20" fill="#4a1f66" stroke="#333" stroke-width="0.6" rx="0"/>
<text x="41.30" y="356.60" font-size="5.99" text-anchor="start" fill="#2a2a2a" stroke="#2a2a2a" stroke-width="0.13" transform="translate(41.30 356.60) scale(0.9346 1) translate(-41.30 -356.60)" >Activated T cells AZM 10 mg.L<tspan font-size="3.85" dy="-2.35">−1</tspan></text>
<text x="118.30" y="278.20" font-size="6.21" text-anchor="start" fill="#2a2a2a" stroke="#2a2a2a" stroke-width="0.13" transform="translate(118.30 278.20) scale(0.9346 1) translate(-118.30 -278.20)" >Clustered</text>
<text x="118.30" y="285.10" font-size="6.21" text-anchor="start" fill="#2a2a2a" stroke="#2a2a2a" stroke-width="0.13" transform="translate(118.30 285.10) scale(0.9346 1) translate(-118.30 -285.10)" >on cell</text>
<text x="118.30" y="292.00" font-size="6.21" text-anchor="start" fill="#2a2a2a" stroke="#2a2a2a" stroke-width="0.13" transform="translate(118.30 292.00) scale(0.9346 1) translate(-118.30 -292.00)" >surface</text>
<text x="118.30" y="298.90" font-size="6.21" text-anchor="start" fill="#2a2a2a" stroke="#2a2a2a" stroke-width="0.13" transform="translate(118.30 298.90) scale(0.9346 1) translate(-118.30 -298.90)" >antigens</text>
<line x1="118.30" y1="303.50" x2="144.04" y2="303.50" stroke="#222" stroke-width="0.7" />
<polygon points="143.84,301.82 147.20,303.50 143.84,305.18" fill="#222"/>
<defs><filter id="fz" x="-10%" y="-10%" width="120%" height="120%"><feTurbulence type="fractalNoise" baseFrequency="0.9" numOctaves="2" seed="4" result="n"/><feDisplacementMap in="SourceGraphic" in2="n" scale="2.6" xChannelSelector="R" yChannelSelector="G"/></filter></defs>
<g filter="url(#fz)">
<path d="M236.00,283.00 C237.00,280.33 241.67,279.00 244.00,280.00 C246.33,281.00 247.83,287.00 250.00,289.00 C252.17,291.00 255.00,290.83 257.00,292.00 C259.00,293.17 261.83,294.67 262.00,296.00 C262.17,297.33 260.00,298.67 258.00,300.00 C256.00,301.33 252.33,303.83 250.00,304.00 C247.67,304.17 246.00,302.33 244.00,301.00 C242.00,299.67 239.33,299.00 238.00,296.00 C236.67,293.00 235.00,285.67 236.00,283.00 Z" fill="#cfe6ee" />
<path d="M238.50,316.50 C239.25,315.75 241.33,314.83 243.00,315.00 C244.67,315.17 247.83,316.50 248.50,317.50 C249.17,318.50 248.08,320.33 247.00,321.00 C245.92,321.67 243.42,321.75 242.00,321.50 C240.58,321.25 239.08,320.33 238.50,319.50 C237.92,318.67 237.75,317.25 238.50,316.50 Z" fill="#e9c3dc" />
<path d="M209.00,283.00 C210.00,281.33 212.17,281.17 214.00,282.00 C215.83,282.83 218.67,285.67 220.00,288.00 C221.33,290.33 222.33,293.83 222.00,296.00 C221.67,298.17 219.67,300.33 218.00,301.00 C216.33,301.67 213.67,301.50 212.00,300.00 C210.33,298.50 208.50,294.83 208.00,292.00 C207.50,289.17 208.00,284.67 209.00,283.00 Z" fill="#f1e4ee" opacity="0.8"/>
<path d="M198.00,297.00 C199.17,295.83 203.67,296.17 206.00,297.00 C208.33,297.83 212.00,300.50 212.00,302.00 C212.00,303.50 208.17,305.67 206.00,306.00 C203.83,306.33 200.33,305.50 199.00,304.00 C197.67,302.50 196.83,298.17 198.00,297.00 Z" fill="#e6e2f2" opacity="0.8"/>
<path d="M232.50,298.00 C233.17,296.83 237.75,296.50 240.00,297.00 C242.25,297.50 245.50,299.67 246.00,301.00 C246.50,302.33 244.67,304.50 243.00,305.00 C241.33,305.50 237.75,305.17 236.00,304.00 C234.25,302.83 231.83,299.17 232.50,298.00 Z" fill="#d8e6f5" opacity="0.9"/>
<defs><linearGradient id="g01" x1="0" x2="0" y1="0" y2="1"><stop offset="0" stop-color="#f2736b"/><stop offset="0.4" stop-color="#f27a5e"/><stop offset="0.6" stop-color="#f3843f"/><stop offset="1" stop-color="#f48a3a"/></linearGradient></defs>
<path d="M193.70,249.00 C194.08,247.08 195.07,245.05 196.50,243.80 C197.93,242.55 200.18,241.80 202.30,241.50 C204.42,241.20 207.47,241.43 209.20,242.00 C210.93,242.57 211.83,243.27 212.70,244.90 C213.57,246.53 213.92,249.48 214.40,251.80 C214.88,254.12 215.12,256.68 215.60,258.80 C216.08,260.92 217.22,262.78 217.30,264.50 C217.38,266.22 217.07,268.02 216.10,269.10 C215.13,270.18 213.80,270.68 211.50,271.00 C209.20,271.32 204.42,271.70 202.30,271.00 C200.18,270.30 199.77,268.45 198.80,266.80 C197.83,265.15 197.27,263.02 196.50,261.10 C195.73,259.18 194.67,257.32 194.20,255.30 C193.73,253.28 193.32,250.92 193.70,249.00 Z" fill="#e68a22" />
<path d="M189.40,266.00 C189.95,264.08 191.32,262.08 192.50,261.50 C193.68,260.92 195.50,261.42 196.50,262.50 C197.50,263.58 198.33,265.75 198.50,268.00 C198.67,270.25 198.67,274.42 197.50,276.00 C196.33,277.58 192.88,278.00 191.50,277.50 C190.12,277.00 189.55,274.92 189.20,273.00 C188.85,271.08 188.85,267.92 189.40,266.00 Z" fill="#2eae8c" />
<path d="M212.00,265.50 C212.83,264.25 214.75,262.83 216.00,263.00 C217.25,263.17 218.87,265.00 219.50,266.50 C220.13,268.00 220.22,270.33 219.80,272.00 C219.38,273.67 218.22,275.83 217.00,276.50 C215.78,277.17 213.50,277.00 212.50,276.00 C211.50,275.00 211.08,272.25 211.00,270.50 C210.92,268.75 211.17,266.75 212.00,265.50 Z" fill="#3aaed2" />
<path d="M195.00,270.50 C196.67,269.08 202.00,269.08 205.00,269.00 C208.00,268.92 210.67,269.33 213.00,270.00 C215.33,270.67 218.50,271.75 219.00,273.00 C219.50,274.25 218.33,276.58 216.00,277.50 C213.67,278.42 208.50,278.50 205.00,278.50 C201.50,278.50 196.67,278.83 195.00,277.50 C193.33,276.17 193.33,271.92 195.00,270.50 Z" fill="#6cb452" />
<path d="M190.80,277.20 C191.85,275.47 194.20,275.28 196.50,274.90 C198.80,274.52 202.10,274.52 204.60,274.90 C207.10,275.28 210.15,275.67 211.50,277.20 C212.85,278.73 212.98,281.78 212.70,284.10 C212.42,286.42 211.15,289.17 209.80,291.10 C208.45,293.03 206.82,294.93 204.60,295.70 C202.38,296.47 198.62,296.28 196.50,295.70 C194.38,295.12 192.95,293.93 191.90,292.20 C190.85,290.47 190.38,287.80 190.20,285.30 C190.02,282.80 189.75,278.93 190.80,277.20 Z" fill="#c9a21c" />
<path d="M223.00,276.00 C223.75,275.08 226.42,274.17 228.00,274.50 C229.58,274.83 232.00,276.58 232.50,278.00 C233.00,279.42 232.08,282.08 231.00,283.00 C229.92,283.92 227.25,284.00 226.00,283.50 C224.75,283.00 224.00,281.25 223.50,280.00 C223.00,278.75 222.25,276.92 223.00,276.00 Z" fill="#b07fb4" />
<path d="M225.50,281.00 C226.08,279.42 228.67,278.33 230.50,278.50 C232.33,278.67 234.67,280.33 236.50,282.00 C238.33,283.67 240.50,286.17 241.50,288.50 C242.50,290.83 243.25,294.33 242.50,296.00 C241.75,297.67 238.92,298.83 237.00,298.50 C235.08,298.17 232.67,295.75 231.00,294.00 C229.33,292.25 227.92,290.17 227.00,288.00 C226.08,285.83 224.92,282.58 225.50,281.00 Z" fill="#4d9fd6" />
<path d="M189.60,307.30 C190.08,305.57 191.57,303.67 193.10,302.70 C194.63,301.73 197.47,301.32 198.80,301.50 C200.13,301.68 201.28,303.03 201.10,303.80 C200.92,304.57 198.47,304.93 197.70,306.10 C196.93,307.27 196.50,309.45 196.50,310.80 C196.50,312.15 198.08,313.43 197.70,314.20 C197.32,314.97 195.45,315.58 194.20,315.40 C192.95,315.22 190.97,314.45 190.20,313.10 C189.43,311.75 189.12,309.03 189.60,307.30 Z" fill="#2cb5bf" />
<path d="M205.80,305.00 C206.55,303.97 208.47,303.05 210.00,302.80 C211.53,302.55 213.95,302.63 215.00,303.50 C216.05,304.37 216.47,306.42 216.30,308.00 C216.13,309.58 215.38,312.17 214.00,313.00 C212.62,313.83 209.42,313.67 208.00,313.00 C206.58,312.33 205.87,310.33 205.50,309.00 C205.13,307.67 205.05,306.03 205.80,305.00 Z" fill="#9f92d6" />
<path d="M203.30,316.50 C204.17,314.47 206.30,314.13 208.00,313.80 C209.70,313.47 212.17,313.47 213.50,314.50 C214.83,315.53 215.67,317.42 216.00,320.00 C216.33,322.58 216.33,327.33 215.50,330.00 C214.67,332.67 212.75,335.17 211.00,336.00 C209.25,336.83 206.37,336.67 205.00,335.00 C203.63,333.33 203.08,329.08 202.80,326.00 C202.52,322.92 202.43,318.53 203.30,316.50 Z" fill="#36ae76" />
<path d="M210.50,323.00 C211.67,320.08 213.83,320.58 215.50,320.50 C217.17,320.42 219.38,320.92 220.50,322.50 C221.62,324.08 221.98,327.08 222.20,330.00 C222.42,332.92 222.50,337.43 221.80,340.00 C221.10,342.57 219.72,344.53 218.00,345.40 C216.28,346.27 213.08,346.43 211.50,345.20 C209.92,343.97 208.67,341.70 208.50,338.00 C208.33,334.30 209.33,325.92 210.50,323.00 Z" fill="#98c23e" />
<path d="M204.00,333.00 C204.50,331.67 206.42,331.50 207.50,332.00 C208.58,332.50 210.02,334.17 210.50,336.00 C210.98,337.83 210.98,341.58 210.40,343.00 C209.82,344.42 207.98,345.00 207.00,344.50 C206.02,344.00 205.00,341.92 204.50,340.00 C204.00,338.08 203.50,334.33 204.00,333.00 Z" fill="#c389bf" />
<path d="M216.30,313.00 C216.55,311.97 218.22,311.42 219.00,311.50 C219.78,311.58 220.75,312.50 221.00,313.50 C221.25,314.50 221.08,316.80 220.50,317.50 C219.92,318.20 218.20,318.45 217.50,317.70 C216.80,316.95 216.05,314.03 216.30,313.00 Z" fill="#d79ac4" />
<path d="M259.30,251.50 C260.37,249.48 261.38,248.52 263.40,247.50 C265.42,246.48 268.52,245.57 271.40,245.40 C274.28,245.23 278.20,245.57 280.70,246.50 C283.20,247.43 285.07,249.20 286.40,251.00 C287.73,252.80 288.27,254.13 288.70,257.30 C289.13,260.47 288.97,265.20 289.00,270.00 C289.03,274.80 289.33,281.87 288.90,286.10 C288.47,290.33 287.58,293.08 286.40,295.40 C285.22,297.72 283.72,299.23 281.80,300.00 C279.88,300.77 277.20,300.58 274.90,300.00 C272.60,299.42 270.12,298.03 268.00,296.50 C265.88,294.97 263.55,292.92 262.20,290.80 C260.85,288.68 260.18,286.60 259.90,283.80 C259.62,281.00 260.77,276.88 260.50,274.00 C260.23,271.12 258.88,268.90 258.30,266.50 C257.72,264.10 256.83,262.10 257.00,259.60 C257.17,257.10 258.23,253.52 259.30,251.50 Z" fill="url(#g01)" />
<path d="M261.50,276.00 C261.67,274.50 264.58,273.03 267.00,272.50 C269.42,271.97 273.58,272.05 276.00,272.80 C278.42,273.55 281.50,275.63 281.50,277.00 C281.50,278.37 278.58,280.25 276.00,281.00 C273.42,281.75 268.42,282.33 266.00,281.50 C263.58,280.67 261.33,277.50 261.50,276.00 Z" fill="#62b455" />
<path d="M241.50,280.00 C241.33,277.33 246.58,274.58 249.00,272.00 C251.42,269.42 253.83,265.08 256.00,264.50 C258.17,263.92 260.17,266.67 262.00,268.50 C263.83,270.33 266.42,272.92 267.00,275.50 C267.58,278.08 266.92,281.72 265.50,284.00 C264.08,286.28 261.08,288.53 258.50,289.20 C255.92,289.87 252.83,289.53 250.00,288.00 C247.17,286.47 241.67,282.67 241.50,280.00 Z" fill="#b8b822" />
<path d="M246.50,296.50 C247.30,295.52 249.53,294.68 251.00,294.60 C252.47,294.52 254.63,294.93 255.30,296.00 C255.97,297.07 255.88,299.88 255.00,301.00 C254.12,302.12 251.47,302.78 250.00,302.70 C248.53,302.62 246.78,301.53 246.20,300.50 C245.62,299.47 245.70,297.48 246.50,296.50 Z" fill="#6a8ccc" />
<path d="M259.90,294.50 C260.65,293.62 262.65,292.95 264.00,293.20 C265.35,293.45 267.42,294.78 268.00,296.00 C268.58,297.22 268.50,299.58 267.50,300.50 C266.50,301.42 263.33,301.83 262.00,301.50 C260.67,301.17 259.85,299.67 259.50,298.50 C259.15,297.33 259.15,295.38 259.90,294.50 Z" fill="#45b9bc" />
<path d="M248.40,305.00 C248.98,302.70 250.88,301.37 253.00,300.40 C255.12,299.43 258.80,298.82 261.10,299.20 C263.40,299.58 266.03,300.38 266.80,302.70 C267.57,305.02 266.65,310.80 265.70,313.10 C264.75,315.40 263.03,315.93 261.10,316.50 C259.17,317.07 256.03,316.88 254.10,316.50 C252.17,316.12 250.45,316.12 249.50,314.20 C248.55,312.28 247.82,307.30 248.40,305.00 Z" fill="#46a83a" />
<path d="M265.70,306.50 C267.23,304.85 270.68,303.98 272.60,304.50 C274.52,305.02 276.43,306.25 277.20,309.60 C277.97,312.95 277.97,321.33 277.20,324.60 C276.43,327.87 274.33,328.23 272.60,329.20 C270.87,330.17 268.92,330.40 266.80,330.40 C264.68,330.40 261.82,330.17 259.90,329.20 C257.98,328.23 255.87,326.52 255.30,324.60 C254.73,322.68 255.15,319.40 256.50,317.70 C257.85,316.00 261.87,316.27 263.40,314.40 C264.93,312.53 264.17,308.15 265.70,306.50 Z" fill="#6fbb43" />
<path d="M276.00,306.10 C276.97,303.80 280.45,304.22 281.80,305.00 C283.15,305.78 283.13,308.68 284.10,310.80 C285.07,312.92 287.02,315.40 287.60,317.70 C288.18,320.00 288.18,322.87 287.60,324.60 C287.02,326.33 285.45,327.90 284.10,328.10 C282.75,328.30 280.85,327.35 279.50,325.80 C278.15,324.25 276.58,322.08 276.00,318.80 C275.42,315.52 275.03,308.40 276.00,306.10 Z" fill="#26b2ab" />
<path d="M265.70,328.10 C267.62,326.57 272.02,324.80 274.90,324.60 C277.78,324.40 281.27,325.37 283.00,326.90 C284.73,328.43 285.12,331.48 285.30,333.80 C285.48,336.12 285.25,338.87 284.10,340.80 C282.95,342.73 280.52,344.63 278.40,345.40 C276.28,346.17 273.52,346.17 271.40,345.40 C269.28,344.63 267.03,342.73 265.70,340.80 C264.37,338.87 263.40,335.92 263.40,333.80 C263.40,331.68 263.78,329.63 265.70,328.10 Z" fill="#dc9526" />
<path d="M257.00,335.00 C257.33,333.95 259.08,333.33 260.00,333.50 C260.92,333.67 262.25,334.98 262.50,336.00 C262.75,337.02 262.25,338.97 261.50,339.60 C260.75,340.23 258.75,340.57 258.00,339.80 C257.25,339.03 256.67,336.05 257.00,335.00 Z" fill="#8b5cb6" />
</g>
<circle cx="217.75" cy="270.19" r="0.48" fill="#e68a22" opacity="0.55"/>
<circle cx="217.89" cy="267.97" r="0.31" fill="#e68a22" opacity="0.55"/>
<circle cx="214.79" cy="271.47" r="0.31" fill="#e68a22" opacity="0.55"/>
<circle cx="217.32" cy="266.22" r="0.49" fill="#e68a22" opacity="0.55"/>
<circle cx="196.03" cy="264.22" r="0.37" fill="#e68a22" opacity="0.55"/>
<circle cx="217.71" cy="268.74" r="0.30" fill="#e68a22" opacity="0.55"/>
<circle cx="195.74" cy="244.33" r="0.26" fill="#e68a22" opacity="0.55"/>
<circle cx="212.13" cy="241.82" r="0.35" fill="#e68a22" opacity="0.55"/>
<circle cx="203.54" cy="272.48" r="0.44" fill="#e68a22" opacity="0.55"/>
<circle cx="217.70" cy="264.81" r="0.45" fill="#e68a22" opacity="0.55"/>
<circle cx="219.42" cy="265.97" r="0.50" fill="#e68a22" opacity="0.55"/>
<circle cx="196.89" cy="266.91" r="0.40" fill="#e68a22" opacity="0.55"/>
<circle cx="192.17" cy="247.50" r="0.37" fill="#e68a22" opacity="0.55"/>
<circle cx="193.62" cy="253.35" r="0.26" fill="#e68a22" opacity="0.55"/>
<circle cx="202.12" cy="271.76" r="0.52" fill="#e68a22" opacity="0.55"/>
<circle cx="218.30" cy="267.50" r="0.38" fill="#e68a22" opacity="0.55"/>
<circle cx="205.70" cy="273.09" r="0.33" fill="#e68a22" opacity="0.55"/>
<circle cx="198.14" cy="242.79" r="0.37" fill="#e68a22" opacity="0.55"/>
<circle cx="196.22" cy="241.88" r="0.25" fill="#e68a22" opacity="0.55"/>
<circle cx="216.82" cy="268.69" r="0.42" fill="#e68a22" opacity="0.55"/>
<circle cx="218.55" cy="268.61" r="0.48" fill="#e68a22" opacity="0.55"/>
<circle cx="217.19" cy="262.74" r="0.38" fill="#e68a22" opacity="0.55"/>
<circle cx="192.18" cy="259.23" r="0.54" fill="#2eae8c" opacity="0.55"/>
<circle cx="196.32" cy="278.70" r="0.31" fill="#2eae8c" opacity="0.55"/>
<circle cx="198.35" cy="277.42" r="0.42" fill="#2eae8c" opacity="0.55"/>
<circle cx="192.35" cy="260.77" r="0.33" fill="#2eae8c" opacity="0.55"/>
<circle cx="187.13" cy="268.48" r="0.37" fill="#2eae8c" opacity="0.55"/>
<circle cx="188.48" cy="264.48" r="0.32" fill="#2eae8c" opacity="0.55"/>
<circle cx="195.68" cy="278.24" r="0.29" fill="#2eae8c" opacity="0.55"/>
<circle cx="194.81" cy="278.33" r="0.51" fill="#2eae8c" opacity="0.55"/>
<circle cx="195.21" cy="261.13" r="0.32" fill="#2eae8c" opacity="0.55"/>
<circle cx="196.24" cy="277.07" r="0.47" fill="#2eae8c" opacity="0.55"/>
<circle cx="197.22" cy="278.61" r="0.51" fill="#2eae8c" opacity="0.55"/>
<circle cx="197.21" cy="276.48" r="0.28" fill="#2eae8c" opacity="0.55"/>
<circle cx="191.54" cy="278.27" r="0.46" fill="#2eae8c" opacity="0.55"/>
<circle cx="198.89" cy="263.00" r="0.40" fill="#2eae8c" opacity="0.55"/>
<circle cx="197.18" cy="278.08" r="0.27" fill="#2eae8c" opacity="0.55"/>
<circle cx="194.62" cy="260.19" r="0.43" fill="#2eae8c" opacity="0.55"/>
<circle cx="188.83" cy="262.80" r="0.31" fill="#2eae8c" opacity="0.55"/>
<circle cx="188.68" cy="264.86" r="0.32" fill="#2eae8c" opacity="0.55"/>
<circle cx="189.17" cy="264.36" r="0.42" fill="#2eae8c" opacity="0.55"/>
<circle cx="192.81" cy="260.98" r="0.39" fill="#2eae8c" opacity="0.55"/>
<circle cx="199.34" cy="265.00" r="0.43" fill="#2eae8c" opacity="0.55"/>
<circle cx="195.29" cy="259.70" r="0.39" fill="#2eae8c" opacity="0.55"/>
<circle cx="222.22" cy="270.56" r="0.26" fill="#3aaed2" opacity="0.55"/>
<circle cx="212.17" cy="275.99" r="0.34" fill="#3aaed2" opacity="0.55"/>
<circle cx="219.86" cy="266.19" r="0.41" fill="#3aaed2" opacity="0.55"/>
<circle cx="211.31" cy="277.94" r="0.47" fill="#3aaed2" opacity="0.55"/>
<circle cx="220.28" cy="263.90" r="0.36" fill="#3aaed2" opacity="0.55"/>
<circle cx="211.44" cy="273.72" r="0.51" fill="#3aaed2" opacity="0.55"/>
<circle cx="209.59" cy="270.46" r="0.25" fill="#3aaed2" opacity="0.55"/>
<circle cx="210.84" cy="275.12" r="0.43" fill="#3aaed2" opacity="0.55"/>
<circle cx="212.06" cy="264.80" r="0.33" fill="#3aaed2" opacity="0.55"/>
<circle cx="218.25" cy="276.37" r="0.47" fill="#3aaed2" opacity="0.55"/>
<circle cx="214.84" cy="277.63" r="0.41" fill="#3aaed2" opacity="0.55"/>
<circle cx="213.52" cy="276.48" r="0.43" fill="#3aaed2" opacity="0.55"/>
<circle cx="221.99" cy="273.19" r="0.28" fill="#3aaed2" opacity="0.55"/>
<circle cx="209.62" cy="266.07" r="0.33" fill="#3aaed2" opacity="0.55"/>
<circle cx="213.26" cy="263.99" r="0.43" fill="#3aaed2" opacity="0.55"/>
<circle cx="216.55" cy="278.78" r="0.45" fill="#3aaed2" opacity="0.55"/>
<circle cx="218.90" cy="274.94" r="0.37" fill="#3aaed2" opacity="0.55"/>
<circle cx="220.68" cy="266.94" r="0.49" fill="#3aaed2" opacity="0.55"/>
<circle cx="219.89" cy="265.22" r="0.42" fill="#3aaed2" opacity="0.55"/>
<circle cx="220.09" cy="267.36" r="0.36" fill="#3aaed2" opacity="0.55"/>
<circle cx="210.59" cy="270.33" r="0.54" fill="#3aaed2" opacity="0.55"/>
<circle cx="209.84" cy="269.55" r="0.33" fill="#3aaed2" opacity="0.55"/>
<circle cx="213.66" cy="282.74" r="0.41" fill="#c9a21c" opacity="0.55"/>
<circle cx="207.14" cy="296.36" r="0.44" fill="#c9a21c" opacity="0.55"/>
<circle cx="209.71" cy="291.67" r="0.51" fill="#c9a21c" opacity="0.55"/>
<circle cx="194.13" cy="274.86" r="0.36" fill="#c9a21c" opacity="0.55"/>
<circle cx="189.60" cy="285.16" r="0.39" fill="#c9a21c" opacity="0.55"/>
<circle cx="194.71" cy="274.65" r="0.48" fill="#c9a21c" opacity="0.55"/>
<circle cx="196.17" cy="274.42" r="0.28" fill="#c9a21c" opacity="0.55"/>
<circle cx="188.71" cy="288.26" r="0.54" fill="#c9a21c" opacity="0.55"/>
<circle cx="212.95" cy="277.88" r="0.30" fill="#c9a21c" opacity="0.55"/>
<circle cx="194.30" cy="274.16" r="0.26" fill="#c9a21c" opacity="0.55"/>
<circle cx="212.80" cy="278.57" r="0.46" fill="#c9a21c" opacity="0.55"/>
<circle cx="188.64" cy="289.70" r="0.30" fill="#c9a21c" opacity="0.55"/>
<circle cx="213.65" cy="276.46" r="0.47" fill="#c9a21c" opacity="0.55"/>
<circle cx="208.17" cy="275.34" r="0.52" fill="#c9a21c" opacity="0.55"/>
<circle cx="191.85" cy="275.16" r="0.51" fill="#c9a21c" opacity="0.55"/>
<circle cx="208.49" cy="294.66" r="0.31" fill="#c9a21c" opacity="0.55"/>
<circle cx="197.61" cy="272.61" r="0.54" fill="#c9a21c" opacity="0.55"/>
<circle cx="213.17" cy="288.46" r="0.35" fill="#c9a21c" opacity="0.55"/>
<circle cx="192.45" cy="276.05" r="0.38" fill="#c9a21c" opacity="0.55"/>
<circle cx="190.34" cy="289.68" r="0.53" fill="#c9a21c" opacity="0.55"/>
<circle cx="212.91" cy="282.71" r="0.49" fill="#c9a21c" opacity="0.55"/>
<circle cx="209.49" cy="274.69" r="0.52" fill="#c9a21c" opacity="0.55"/>
<circle cx="231.15" cy="284.27" r="0.47" fill="#b07fb4" opacity="0.55"/>
<circle cx="220.91" cy="276.21" r="0.40" fill="#b07fb4" opacity="0.55"/>
<circle cx="222.65" cy="279.76" r="0.41" fill="#b07fb4" opacity="0.55"/>
<circle cx="232.52" cy="283.12" r="0.30" fill="#b07fb4" opacity="0.55"/>
<circle cx="222.42" cy="281.14" r="0.34" fill="#b07fb4" opacity="0.55"/>
<circle cx="225.65" cy="285.71" r="0.43" fill="#b07fb4" opacity="0.55"/>
<circle cx="233.20" cy="283.82" r="0.41" fill="#b07fb4" opacity="0.55"/>
<circle cx="223.88" cy="282.64" r="0.28" fill="#b07fb4" opacity="0.55"/>
<circle cx="225.91" cy="274.75" r="0.54" fill="#b07fb4" opacity="0.55"/>
<circle cx="222.22" cy="280.75" r="0.55" fill="#b07fb4" opacity="0.55"/>
<circle cx="224.64" cy="273.56" r="0.27" fill="#b07fb4" opacity="0.55"/>
<circle cx="223.23" cy="283.68" r="0.49" fill="#b07fb4" opacity="0.55"/>
<circle cx="230.35" cy="284.33" r="0.29" fill="#b07fb4" opacity="0.55"/>
<circle cx="226.02" cy="285.86" r="0.53" fill="#b07fb4" opacity="0.55"/>
<circle cx="224.80" cy="283.01" r="0.44" fill="#b07fb4" opacity="0.55"/>
<circle cx="234.39" cy="278.43" r="0.26" fill="#b07fb4" opacity="0.55"/>
<circle cx="228.80" cy="274.73" r="0.34" fill="#b07fb4" opacity="0.55"/>
<circle cx="221.62" cy="278.33" r="0.28" fill="#b07fb4" opacity="0.55"/>
<circle cx="221.08" cy="276.90" r="0.44" fill="#b07fb4" opacity="0.55"/>
<circle cx="221.88" cy="279.23" r="0.38" fill="#b07fb4" opacity="0.55"/>
<circle cx="228.10" cy="285.50" r="0.43" fill="#b07fb4" opacity="0.55"/>
<circle cx="224.69" cy="284.35" r="0.44" fill="#b07fb4" opacity="0.55"/>
<circle cx="243.70" cy="295.94" r="0.51" fill="#4d9fd6" opacity="0.55"/>
<circle cx="243.76" cy="296.48" r="0.35" fill="#4d9fd6" opacity="0.55"/>
<circle cx="238.79" cy="283.32" r="0.53" fill="#4d9fd6" opacity="0.55"/>
<circle cx="242.88" cy="294.78" r="0.28" fill="#4d9fd6" opacity="0.55"/>
<circle cx="242.13" cy="289.57" r="0.37" fill="#4d9fd6" opacity="0.55"/>
<circle cx="226.41" cy="289.15" r="0.49" fill="#4d9fd6" opacity="0.55"/>
<circle cx="238.51" cy="281.88" r="0.49" fill="#4d9fd6" opacity="0.55"/>
<circle cx="231.26" cy="277.39" r="0.52" fill="#4d9fd6" opacity="0.55"/>
<circle cx="236.66" cy="299.40" r="0.48" fill="#4d9fd6" opacity="0.55"/>
<circle cx="243.43" cy="295.36" r="0.26" fill="#4d9fd6" opacity="0.55"/>
<circle cx="226.07" cy="286.84" r="0.31" fill="#4d9fd6" opacity="0.55"/>
<circle cx="243.88" cy="288.48" r="0.28" fill="#4d9fd6" opacity="0.55"/>
<circle cx="224.84" cy="279.35" r="0.27" fill="#4d9fd6" opacity="0.55"/>
<circle cx="232.23" cy="278.29" r="0.40" fill="#4d9fd6" opacity="0.55"/>
<circle cx="229.41" cy="293.62" r="0.44" fill="#4d9fd6" opacity="0.55"/>
<circle cx="229.43" cy="278.23" r="0.39" fill="#4d9fd6" opacity="0.55"/>
<circle cx="234.62" cy="297.42" r="0.30" fill="#4d9fd6" opacity="0.55"/>
<circle cx="226.80" cy="279.81" r="0.50" fill="#4d9fd6" opacity="0.55"/>
<circle cx="228.04" cy="290.88" r="0.43" fill="#4d9fd6" opacity="0.55"/>
<circle cx="231.94" cy="295.74" r="0.52" fill="#4d9fd6" opacity="0.55"/>
<circle cx="241.79" cy="287.11" r="0.52" fill="#4d9fd6" opacity="0.55"/>
<circle cx="231.94" cy="297.06" r="0.37" fill="#4d9fd6" opacity="0.55"/>
<circle cx="199.47" cy="300.70" r="0.39" fill="#2cb5bf" opacity="0.55"/>
<circle cx="191.49" cy="300.94" r="0.52" fill="#2cb5bf" opacity="0.55"/>
<circle cx="188.13" cy="305.28" r="0.45" fill="#2cb5bf" opacity="0.55"/>
<circle cx="197.23" cy="312.68" r="0.30" fill="#2cb5bf" opacity="0.55"/>
<circle cx="195.27" cy="299.63" r="0.44" fill="#2cb5bf" opacity="0.55"/>
<circle cx="198.19" cy="299.34" r="0.26" fill="#2cb5bf" opacity="0.55"/>
<circle cx="197.56" cy="300.96" r="0.37" fill="#2cb5bf" opacity="0.55"/>
<circle cx="191.24" cy="302.33" r="0.25" fill="#2cb5bf" opacity="0.55"/>
<circle cx="199.50" cy="306.16" r="0.42" fill="#2cb5bf" opacity="0.55"/>
<circle cx="188.58" cy="311.28" r="0.50" fill="#2cb5bf" opacity="0.55"/>
<circle cx="197.17" cy="299.82" r="0.27" fill="#2cb5bf" opacity="0.55"/>
<circle cx="188.87" cy="304.22" r="0.37" fill="#2cb5bf" opacity="0.55"/>
<circle cx="201.91" cy="302.43" r="0.43" fill="#2cb5bf" opacity="0.55"/>
<circle cx="194.21" cy="316.59" r="0.41" fill="#2cb5bf" opacity="0.55"/>
<circle cx="198.18" cy="307.56" r="0.45" fill="#2cb5bf" opacity="0.55"/>
<circle cx="187.83" cy="307.52" r="0.47" fill="#2cb5bf" opacity="0.55"/>
<circle cx="188.80" cy="307.08" r="0.26" fill="#2cb5bf" opacity="0.55"/>
<circle cx="200.85" cy="300.93" r="0.27" fill="#2cb5bf" opacity="0.55"/>
<circle cx="197.55" cy="313.73" r="0.55" fill="#2cb5bf" opacity="0.55"/>
<circle cx="197.52" cy="313.24" r="0.38" fill="#2cb5bf" opacity="0.55"/>
<circle cx="192.53" cy="316.75" r="0.26" fill="#2cb5bf" opacity="0.55"/>
<circle cx="199.24" cy="299.78" r="0.39" fill="#2cb5bf" opacity="0.55"/>
<circle cx="203.65" cy="308.12" r="0.27" fill="#9f92d6" opacity="0.55"/>
<circle cx="215.93" cy="310.65" r="0.27" fill="#9f92d6" opacity="0.55"/>
<circle cx="213.55" cy="314.03" r="0.29" fill="#9f92d6" opacity="0.55"/>
<circle cx="216.04" cy="310.71" r="0.42" fill="#9f92d6" opacity="0.55"/>
<circle cx="217.31" cy="310.61" r="0.49" fill="#9f92d6" opacity="0.55"/>
<circle cx="216.14" cy="302.03" r="0.32" fill="#9f92d6" opacity="0.55"/>
<circle cx="207.33" cy="303.07" r="0.40" fill="#9f92d6" opacity="0.55"/>
<circle cx="204.68" cy="307.53" r="0.46" fill="#9f92d6" opacity="0.55"/>
<circle cx="209.69" cy="313.73" r="0.33" fill="#9f92d6" opacity="0.55"/>
<circle cx="211.00" cy="302.06" r="0.54" fill="#9f92d6" opacity="0.55"/>
<circle cx="214.65" cy="303.12" r="0.27" fill="#9f92d6" opacity="0.55"/>
<circle cx="215.64" cy="304.47" r="0.26" fill="#9f92d6" opacity="0.55"/>
<circle cx="212.90" cy="302.75" r="0.28" fill="#9f92d6" opacity="0.55"/>
<circle cx="207.13" cy="313.06" r="0.54" fill="#9f92d6" opacity="0.55"/>
<circle cx="215.88" cy="310.79" r="0.35" fill="#9f92d6" opacity="0.55"/>
<circle cx="206.43" cy="314.41" r="0.49" fill="#9f92d6" opacity="0.55"/>
<circle cx="215.59" cy="313.35" r="0.48" fill="#9f92d6" opacity="0.55"/>
<circle cx="212.87" cy="301.20" r="0.37" fill="#9f92d6" opacity="0.55"/>
<circle cx="212.29" cy="301.31" r="0.55" fill="#9f92d6" opacity="0.55"/>
<circle cx="217.11" cy="303.73" r="0.50" fill="#9f92d6" opacity="0.55"/>
<circle cx="212.49" cy="302.00" r="0.28" fill="#9f92d6" opacity="0.55"/>
<circle cx="215.47" cy="303.53" r="0.42" fill="#9f92d6" opacity="0.55"/>
<circle cx="202.21" cy="317.33" r="0.50" fill="#36ae76" opacity="0.55"/>
<circle cx="203.18" cy="315.66" r="0.45" fill="#36ae76" opacity="0.55"/>
<circle cx="212.17" cy="312.89" r="0.48" fill="#36ae76" opacity="0.55"/>
<circle cx="209.30" cy="336.35" r="0.36" fill="#36ae76" opacity="0.55"/>
<circle cx="208.77" cy="336.20" r="0.46" fill="#36ae76" opacity="0.55"/>
<circle cx="214.46" cy="334.56" r="0.34" fill="#36ae76" opacity="0.55"/>
<circle cx="209.73" cy="338.30" r="0.47" fill="#36ae76" opacity="0.55"/>
<circle cx="217.95" cy="319.89" r="0.26" fill="#36ae76" opacity="0.55"/>
<circle cx="202.22" cy="331.26" r="0.47" fill="#36ae76" opacity="0.55"/>
<circle cx="205.80" cy="336.69" r="0.50" fill="#36ae76" opacity="0.55"/>
<circle cx="214.91" cy="313.67" r="0.51" fill="#36ae76" opacity="0.55"/>
<circle cx="212.02" cy="335.66" r="0.27" fill="#36ae76" opacity="0.55"/>
<circle cx="216.58" cy="315.72" r="0.45" fill="#36ae76" opacity="0.55"/>
<circle cx="204.24" cy="335.85" r="0.49" fill="#36ae76" opacity="0.55"/>
<circle cx="209.88" cy="313.11" r="0.28" fill="#36ae76" opacity="0.55"/>
<circle cx="210.65" cy="337.67" r="0.29" fill="#36ae76" opacity="0.55"/>
<circle cx="204.07" cy="333.50" r="0.48" fill="#36ae76" opacity="0.55"/>
<circle cx="206.10" cy="336.40" r="0.35" fill="#36ae76" opacity="0.55"/>
<circle cx="206.67" cy="336.73" r="0.41" fill="#36ae76" opacity="0.55"/>
<circle cx="212.50" cy="311.97" r="0.37" fill="#36ae76" opacity="0.55"/>
<circle cx="205.23" cy="337.20" r="0.50" fill="#36ae76" opacity="0.55"/>
<circle cx="202.12" cy="315.56" r="0.41" fill="#36ae76" opacity="0.55"/>
<circle cx="214.35" cy="319.74" r="0.38" fill="#98c23e" opacity="0.55"/>
<circle cx="221.24" cy="323.75" r="0.44" fill="#98c23e" opacity="0.55"/>
<circle cx="221.67" cy="323.89" r="0.41" fill="#98c23e" opacity="0.55"/>
<circle cx="218.19" cy="345.67" r="0.34" fill="#98c23e" opacity="0.55"/>
<circle cx="217.07" cy="320.45" r="0.53" fill="#98c23e" opacity="0.55"/>
<circle cx="214.22" cy="320.78" r="0.39" fill="#98c23e" opacity="0.55"/>
<circle cx="211.80" cy="321.51" r="0.36" fill="#98c23e" opacity="0.55"/>
<circle cx="223.20" cy="336.62" r="0.40" fill="#98c23e" opacity="0.55"/>
<circle cx="207.96" cy="335.50" r="0.30" fill="#98c23e" opacity="0.55"/>
<circle cx="220.18" cy="345.73" r="0.42" fill="#98c23e" opacity="0.55"/>
<circle cx="220.42" cy="343.75" r="0.54" fill="#98c23e" opacity="0.55"/>
<circle cx="218.04" cy="320.67" r="0.26" fill="#98c23e" opacity="0.55"/>
<circle cx="222.79" cy="327.78" r="0.41" fill="#98c23e" opacity="0.55"/>
<circle cx="218.91" cy="344.67" r="0.53" fill="#98c23e" opacity="0.55"/>
<circle cx="214.64" cy="318.44" r="0.39" fill="#98c23e" opacity="0.55"/>
<circle cx="223.31" cy="338.10" r="0.30" fill="#98c23e" opacity="0.55"/>
<circle cx="222.30" cy="327.88" r="0.52" fill="#98c23e" opacity="0.55"/>
<circle cx="223.36" cy="325.41" r="0.33" fill="#98c23e" opacity="0.55"/>
<circle cx="210.39" cy="320.74" r="0.25" fill="#98c23e" opacity="0.55"/>
<circle cx="222.29" cy="328.37" r="0.33" fill="#98c23e" opacity="0.55"/>
<circle cx="220.59" cy="320.50" r="0.27" fill="#98c23e" opacity="0.55"/>
<circle cx="222.19" cy="340.67" r="0.31" fill="#98c23e" opacity="0.55"/>
<circle cx="202.45" cy="340.26" r="0.31" fill="#c389bf" opacity="0.55"/>
<circle cx="205.56" cy="344.02" r="0.53" fill="#c389bf" opacity="0.55"/>
<circle cx="211.70" cy="338.26" r="0.42" fill="#c389bf" opacity="0.55"/>
<circle cx="208.19" cy="344.45" r="0.27" fill="#c389bf" opacity="0.55"/>
<circle cx="207.92" cy="331.22" r="0.39" fill="#c389bf" opacity="0.55"/>
<circle cx="206.23" cy="332.02" r="0.36" fill="#c389bf" opacity="0.55"/>
<circle cx="203.38" cy="336.26" r="0.28" fill="#c389bf" opacity="0.55"/>
<circle cx="206.88" cy="329.90" r="0.47" fill="#c389bf" opacity="0.55"/>
<circle cx="206.41" cy="345.55" r="0.53" fill="#c389bf" opacity="0.55"/>
<circle cx="203.28" cy="337.85" r="0.37" fill="#c389bf" opacity="0.55"/>
<circle cx="203.79" cy="339.70" r="0.36" fill="#c389bf" opacity="0.55"/>
<circle cx="204.23" cy="330.37" r="0.42" fill="#c389bf" opacity="0.55"/>
<circle cx="203.15" cy="334.68" r="0.36" fill="#c389bf" opacity="0.55"/>
<circle cx="204.25" cy="332.40" r="0.45" fill="#c389bf" opacity="0.55"/>
<circle cx="203.68" cy="338.91" r="0.26" fill="#c389bf" opacity="0.55"/>
<circle cx="208.48" cy="344.39" r="0.32" fill="#c389bf" opacity="0.55"/>
<circle cx="211.54" cy="335.22" r="0.48" fill="#c389bf" opacity="0.55"/>
<circle cx="211.15" cy="343.49" r="0.40" fill="#c389bf" opacity="0.55"/>
<circle cx="203.77" cy="338.67" r="0.46" fill="#c389bf" opacity="0.55"/>
<circle cx="209.70" cy="344.67" r="0.25" fill="#c389bf" opacity="0.55"/>
<circle cx="208.49" cy="344.94" r="0.49" fill="#c389bf" opacity="0.55"/>
<circle cx="210.39" cy="333.20" r="0.26" fill="#c389bf" opacity="0.55"/>
<circle cx="273.63" cy="300.34" r="0.38" fill="#f2766a" opacity="0.55"/>
<circle cx="261.16" cy="290.27" r="0.34" fill="#f2766a" opacity="0.55"/>
<circle cx="284.48" cy="248.66" r="0.48" fill="#f2766a" opacity="0.55"/>
<circle cx="278.22" cy="301.09" r="0.40" fill="#f2766a" opacity="0.55"/>
<circle cx="288.22" cy="254.05" r="0.53" fill="#f2766a" opacity="0.55"/>
<circle cx="289.27" cy="279.28" r="0.45" fill="#f2766a" opacity="0.55"/>
<circle cx="272.66" cy="244.15" r="0.38" fill="#f2766a" opacity="0.55"/>
<circle cx="272.62" cy="301.28" r="0.36" fill="#f2766a" opacity="0.55"/>
<circle cx="257.28" cy="266.97" r="0.47" fill="#f2766a" opacity="0.55"/>
<circle cx="287.45" cy="295.83" r="0.42" fill="#f2766a" opacity="0.55"/>
<circle cx="286.57" cy="297.96" r="0.52" fill="#f2766a" opacity="0.55"/>
<circle cx="270.70" cy="298.48" r="0.50" fill="#f2766a" opacity="0.55"/>
<circle cx="277.25" cy="301.12" r="0.48" fill="#f2766a" opacity="0.55"/>
<circle cx="262.87" cy="292.42" r="0.41" fill="#f2766a" opacity="0.55"/>
<circle cx="275.76" cy="244.68" r="0.48" fill="#f2766a" opacity="0.55"/>
<circle cx="288.22" cy="251.47" r="0.47" fill="#f2766a" opacity="0.55"/>
<circle cx="259.66" cy="287.87" r="0.48" fill="#f2766a" opacity="0.55"/>
<circle cx="289.86" cy="259.01" r="0.29" fill="#f2766a" opacity="0.55"/>
<circle cx="261.29" cy="291.03" r="0.35" fill="#f2766a" opacity="0.55"/>
<circle cx="287.96" cy="251.37" r="0.35" fill="#f2766a" opacity="0.55"/>
<circle cx="268.88" cy="243.89" r="0.37" fill="#f2766a" opacity="0.55"/>
<circle cx="256.35" cy="261.63" r="0.37" fill="#f2766a" opacity="0.55"/>
<circle cx="251.60" cy="289.62" r="0.55" fill="#b8b822" opacity="0.55"/>
<circle cx="251.25" cy="288.73" r="0.28" fill="#b8b822" opacity="0.55"/>
<circle cx="262.51" cy="287.83" r="0.52" fill="#b8b822" opacity="0.55"/>
<circle cx="259.40" cy="289.66" r="0.43" fill="#b8b822" opacity="0.55"/>
<circle cx="251.70" cy="289.89" r="0.48" fill="#b8b822" opacity="0.55"/>
<circle cx="267.70" cy="284.13" r="0.32" fill="#b8b822" opacity="0.55"/>
<circle cx="246.32" cy="287.70" r="0.54" fill="#b8b822" opacity="0.55"/>
<circle cx="242.69" cy="282.99" r="0.32" fill="#b8b822" opacity="0.55"/>
<circle cx="268.34" cy="281.88" r="0.51" fill="#b8b822" opacity="0.55"/>
<circle cx="259.80" cy="289.72" r="0.49" fill="#b8b822" opacity="0.55"/>
<circle cx="266.38" cy="272.47" r="0.29" fill="#b8b822" opacity="0.55"/>
<circle cx="248.18" cy="269.77" r="0.29" fill="#b8b822" opacity="0.55"/>
<circle cx="249.55" cy="288.73" r="0.34" fill="#b8b822" opacity="0.55"/>
<circle cx="265.28" cy="285.77" r="0.39" fill="#b8b822" opacity="0.55"/>
<circle cx="257.48" cy="290.91" r="0.32" fill="#b8b822" opacity="0.55"/>
<circle cx="269.28" cy="275.34" r="0.34" fill="#b8b822" opacity="0.55"/>
<circle cx="247.47" cy="288.48" r="0.48" fill="#b8b822" opacity="0.55"/>
<circle cx="264.51" cy="268.21" r="0.46" fill="#b8b822" opacity="0.55"/>
<circle cx="240.74" cy="278.56" r="0.36" fill="#b8b822" opacity="0.55"/>
<circle cx="248.93" cy="289.37" r="0.46" fill="#b8b822" opacity="0.55"/>
<circle cx="265.37" cy="271.77" r="0.53" fill="#b8b822" opacity="0.55"/>
<circle cx="245.41" cy="274.51" r="0.50" fill="#b8b822" opacity="0.55"/>
<circle cx="256.83" cy="301.09" r="0.29" fill="#6a8ccc" opacity="0.55"/>
<circle cx="244.58" cy="295.82" r="0.37" fill="#6a8ccc" opacity="0.55"/>
<circle cx="252.30" cy="293.96" r="0.46" fill="#6a8ccc" opacity="0.55"/>
<circle cx="252.91" cy="293.17" r="0.40" fill="#6a8ccc" opacity="0.55"/>
<circle cx="256.16" cy="300.30" r="0.45" fill="#6a8ccc" opacity="0.55"/>
<circle cx="248.80" cy="294.63" r="0.34" fill="#6a8ccc" opacity="0.55"/>
<circle cx="254.55" cy="294.89" r="0.44" fill="#6a8ccc" opacity="0.55"/>
<circle cx="248.31" cy="295.23" r="0.53" fill="#6a8ccc" opacity="0.55"/>
<circle cx="248.69" cy="295.14" r="0.43" fill="#6a8ccc" opacity="0.55"/>
<circle cx="256.41" cy="298.73" r="0.42" fill="#6a8ccc" opacity="0.55"/>
<circle cx="253.05" cy="293.13" r="0.32" fill="#6a8ccc" opacity="0.55"/>
<circle cx="255.43" cy="299.76" r="0.49" fill="#6a8ccc" opacity="0.55"/>
<circle cx="255.58" cy="295.80" r="0.39" fill="#6a8ccc" opacity="0.55"/>
<circle cx="247.22" cy="303.90" r="0.40" fill="#6a8ccc" opacity="0.55"/>
<circle cx="251.60" cy="292.63" r="0.52" fill="#6a8ccc" opacity="0.55"/>
<circle cx="257.17" cy="299.64" r="0.41" fill="#6a8ccc" opacity="0.55"/>
<circle cx="245.36" cy="301.80" r="0.55" fill="#6a8ccc" opacity="0.55"/>
<circle cx="245.85" cy="296.41" r="0.48" fill="#6a8ccc" opacity="0.55"/>
<circle cx="251.76" cy="293.48" r="0.45" fill="#6a8ccc" opacity="0.55"/>
<circle cx="245.32" cy="302.18" r="0.49" fill="#6a8ccc" opacity="0.55"/>
<circle cx="252.70" cy="293.53" r="0.51" fill="#6a8ccc" opacity="0.55"/>
<circle cx="247.86" cy="301.89" r="0.43" fill="#6a8ccc" opacity="0.55"/>
<circle cx="258.22" cy="298.59" r="0.51" fill="#45b9bc" opacity="0.55"/>
<circle cx="268.26" cy="296.63" r="0.40" fill="#45b9bc" opacity="0.55"/>
<circle cx="265.37" cy="302.86" r="0.51" fill="#45b9bc" opacity="0.55"/>
<circle cx="258.42" cy="292.81" r="0.42" fill="#45b9bc" opacity="0.55"/>
<circle cx="259.03" cy="301.00" r="0.44" fill="#45b9bc" opacity="0.55"/>
<circle cx="260.95" cy="293.77" r="0.34" fill="#45b9bc" opacity="0.55"/>
<circle cx="258.34" cy="300.33" r="0.48" fill="#45b9bc" opacity="0.55"/>
<circle cx="268.63" cy="302.06" r="0.30" fill="#45b9bc" opacity="0.55"/>
<circle cx="269.32" cy="297.03" r="0.45" fill="#45b9bc" opacity="0.55"/>
<circle cx="259.64" cy="299.34" r="0.37" fill="#45b9bc" opacity="0.55"/>
<circle cx="269.42" cy="299.90" r="0.54" fill="#45b9bc" opacity="0.55"/>
<circle cx="267.32" cy="293.03" r="0.55" fill="#45b9bc" opacity="0.55"/>
<circle cx="268.27" cy="294.52" r="0.55" fill="#45b9bc" opacity="0.55"/>
<circle cx="259.40" cy="292.37" r="0.29" fill="#45b9bc" opacity="0.55"/>
<circle cx="264.79" cy="302.40" r="0.53" fill="#45b9bc" opacity="0.55"/>
<circle cx="262.28" cy="291.71" r="0.54" fill="#45b9bc" opacity="0.55"/>
<circle cx="260.97" cy="301.57" r="0.42" fill="#45b9bc" opacity="0.55"/>
<circle cx="265.97" cy="293.97" r="0.32" fill="#45b9bc" opacity="0.55"/>
<circle cx="270.39" cy="297.60" r="0.43" fill="#45b9bc" opacity="0.55"/>
<circle cx="259.42" cy="293.10" r="0.55" fill="#45b9bc" opacity="0.55"/>
<circle cx="257.74" cy="297.01" r="0.51" fill="#45b9bc" opacity="0.55"/>
<circle cx="259.02" cy="298.97" r="0.51" fill="#45b9bc" opacity="0.55"/>
<circle cx="268.44" cy="306.25" r="0.31" fill="#46a83a" opacity="0.55"/>
<circle cx="259.87" cy="318.57" r="0.49" fill="#46a83a" opacity="0.55"/>
<circle cx="248.56" cy="312.67" r="0.39" fill="#46a83a" opacity="0.55"/>
<circle cx="264.52" cy="315.73" r="0.44" fill="#46a83a" opacity="0.55"/>
<circle cx="266.64" cy="301.77" r="0.36" fill="#46a83a" opacity="0.55"/>
<circle cx="252.96" cy="299.51" r="0.53" fill="#46a83a" opacity="0.55"/>
<circle cx="249.28" cy="301.29" r="0.40" fill="#46a83a" opacity="0.55"/>
<circle cx="267.58" cy="305.14" r="0.30" fill="#46a83a" opacity="0.55"/>
<circle cx="260.41" cy="317.31" r="0.50" fill="#46a83a" opacity="0.55"/>
<circle cx="252.68" cy="299.46" r="0.37" fill="#46a83a" opacity="0.55"/>
<circle cx="260.23" cy="298.24" r="0.33" fill="#46a83a" opacity="0.55"/>
<circle cx="248.35" cy="302.70" r="0.40" fill="#46a83a" opacity="0.55"/>
<circle cx="268.15" cy="303.58" r="0.26" fill="#46a83a" opacity="0.55"/>
<circle cx="264.83" cy="315.46" r="0.46" fill="#46a83a" opacity="0.55"/>
<circle cx="265.28" cy="315.03" r="0.36" fill="#46a83a" opacity="0.55"/>
<circle cx="267.33" cy="311.88" r="0.38" fill="#46a83a" opacity="0.55"/>
<circle cx="264.67" cy="298.71" r="0.32" fill="#46a83a" opacity="0.55"/>
<circle cx="265.26" cy="315.50" r="0.29" fill="#46a83a" opacity="0.55"/>
<circle cx="250.94" cy="300.47" r="0.25" fill="#46a83a" opacity="0.55"/>
<circle cx="262.94" cy="315.71" r="0.51" fill="#46a83a" opacity="0.55"/>
<circle cx="256.12" cy="318.98" r="0.51" fill="#46a83a" opacity="0.55"/>
<circle cx="266.80" cy="311.09" r="0.49" fill="#46a83a" opacity="0.55"/>
<circle cx="274.63" cy="306.13" r="0.37" fill="#6fbb43" opacity="0.55"/>
<circle cx="264.51" cy="331.95" r="0.32" fill="#6fbb43" opacity="0.55"/>
<circle cx="257.64" cy="329.85" r="0.36" fill="#6fbb43" opacity="0.55"/>
<circle cx="276.24" cy="328.40" r="0.52" fill="#6fbb43" opacity="0.55"/>
<circle cx="278.07" cy="316.58" r="0.51" fill="#6fbb43" opacity="0.55"/>
<circle cx="268.60" cy="330.39" r="0.37" fill="#6fbb43" opacity="0.55"/>
<circle cx="259.28" cy="331.36" r="0.33" fill="#6fbb43" opacity="0.55"/>
<circle cx="256.37" cy="328.00" r="0.39" fill="#6fbb43" opacity="0.55"/>
<circle cx="260.45" cy="329.74" r="0.26" fill="#6fbb43" opacity="0.55"/>
<circle cx="259.83" cy="330.71" r="0.33" fill="#6fbb43" opacity="0.55"/>
<circle cx="278.38" cy="319.25" r="0.35" fill="#6fbb43" opacity="0.55"/>
<circle cx="266.56" cy="332.29" r="0.31" fill="#6fbb43" opacity="0.55"/>
<circle cx="276.54" cy="306.33" r="0.37" fill="#6fbb43" opacity="0.55"/>
<circle cx="259.34" cy="329.28" r="0.39" fill="#6fbb43" opacity="0.55"/>
<circle cx="253.45" cy="322.58" r="0.26" fill="#6fbb43" opacity="0.55"/>
<circle cx="278.13" cy="319.92" r="0.40" fill="#6fbb43" opacity="0.55"/>
<circle cx="255.83" cy="317.78" r="0.31" fill="#6fbb43" opacity="0.55"/>
<circle cx="276.67" cy="326.26" r="0.41" fill="#6fbb43" opacity="0.55"/>
<circle cx="263.08" cy="314.22" r="0.41" fill="#6fbb43" opacity="0.55"/>
<circle cx="254.88" cy="317.07" r="0.52" fill="#6fbb43" opacity="0.55"/>
<circle cx="264.89" cy="330.62" r="0.26" fill="#6fbb43" opacity="0.55"/>
<circle cx="275.20" cy="329.24" r="0.54" fill="#6fbb43" opacity="0.55"/>
<circle cx="285.42" cy="310.35" r="0.40" fill="#26b2ab" opacity="0.55"/>
<circle cx="286.72" cy="326.76" r="0.47" fill="#26b2ab" opacity="0.55"/>
<circle cx="275.15" cy="315.60" r="0.35" fill="#26b2ab" opacity="0.55"/>
<circle cx="289.31" cy="317.14" r="0.51" fill="#26b2ab" opacity="0.55"/>
<circle cx="284.17" cy="307.46" r="0.34" fill="#26b2ab" opacity="0.55"/>
<circle cx="274.54" cy="311.14" r="0.26" fill="#26b2ab" opacity="0.55"/>
<circle cx="276.07" cy="319.89" r="0.33" fill="#26b2ab" opacity="0.55"/>
<circle cx="277.82" cy="325.60" r="0.36" fill="#26b2ab" opacity="0.55"/>
<circle cx="283.50" cy="329.93" r="0.31" fill="#26b2ab" opacity="0.55"/>
<circle cx="287.17" cy="314.06" r="0.46" fill="#26b2ab" opacity="0.55"/>
<circle cx="284.95" cy="327.97" r="0.36" fill="#26b2ab" opacity="0.55"/>
<circle cx="287.15" cy="326.04" r="0.25" fill="#26b2ab" opacity="0.55"/>
<circle cx="285.55" cy="311.88" r="0.33" fill="#26b2ab" opacity="0.55"/>
<circle cx="277.12" cy="324.65" r="0.29" fill="#26b2ab" opacity="0.55"/>
<circle cx="287.14" cy="315.55" r="0.26" fill="#26b2ab" opacity="0.55"/>
<circle cx="287.03" cy="327.23" r="0.49" fill="#26b2ab" opacity="0.55"/>
<circle cx="278.16" cy="323.80" r="0.41" fill="#26b2ab" opacity="0.55"/>
<circle cx="275.55" cy="316.59" r="0.38" fill="#26b2ab" opacity="0.55"/>
<circle cx="287.79" cy="327.08" r="0.37" fill="#26b2ab" opacity="0.55"/>
<circle cx="288.72" cy="317.67" r="0.46" fill="#26b2ab" opacity="0.55"/>
<circle cx="284.96" cy="328.02" r="0.30" fill="#26b2ab" opacity="0.55"/>
<circle cx="283.34" cy="305.88" r="0.51" fill="#26b2ab" opacity="0.55"/>
<circle cx="270.31" cy="345.81" r="0.26" fill="#dc9526" opacity="0.55"/>
<circle cx="284.61" cy="328.06" r="0.35" fill="#dc9526" opacity="0.55"/>
<circle cx="279.25" cy="324.66" r="0.33" fill="#dc9526" opacity="0.55"/>
<circle cx="266.88" cy="327.34" r="0.48" fill="#dc9526" opacity="0.55"/>
<circle cx="274.96" cy="323.54" r="0.29" fill="#dc9526" opacity="0.55"/>
<circle cx="285.19" cy="341.34" r="0.26" fill="#dc9526" opacity="0.55"/>
<circle cx="272.52" cy="346.59" r="0.27" fill="#dc9526" opacity="0.55"/>
<circle cx="262.87" cy="329.25" r="0.33" fill="#dc9526" opacity="0.55"/>
<circle cx="286.21" cy="341.41" r="0.55" fill="#dc9526" opacity="0.55"/>
<circle cx="261.94" cy="337.11" r="0.26" fill="#dc9526" opacity="0.55"/>
<circle cx="274.35" cy="323.25" r="0.45" fill="#dc9526" opacity="0.55"/>
<circle cx="283.54" cy="343.84" r="0.34" fill="#dc9526" opacity="0.55"/>
<circle cx="262.32" cy="330.22" r="0.27" fill="#dc9526" opacity="0.55"/>
<circle cx="278.85" cy="346.82" r="0.49" fill="#dc9526" opacity="0.55"/>
<circle cx="262.70" cy="338.53" r="0.50" fill="#dc9526" opacity="0.55"/>
<circle cx="283.42" cy="325.70" r="0.50" fill="#dc9526" opacity="0.55"/>
<circle cx="268.84" cy="346.36" r="0.26" fill="#dc9526" opacity="0.55"/>
<circle cx="284.46" cy="327.73" r="0.36" fill="#dc9526" opacity="0.55"/>
<circle cx="280.02" cy="345.53" r="0.44" fill="#dc9526" opacity="0.55"/>
<circle cx="276.29" cy="345.85" r="0.45" fill="#dc9526" opacity="0.55"/>
<circle cx="277.22" cy="324.44" r="0.30" fill="#dc9526" opacity="0.55"/>
<circle cx="272.22" cy="323.98" r="0.45" fill="#dc9526" opacity="0.55"/>
<line x1="188.40" y1="265.50" x2="193.70" y2="270.10" stroke="#111" stroke-width="0.9" />
<circle cx="193.70" cy="270.10" r="1.30" fill="#111" stroke="none" stroke-width="0"/>
<line x1="225.00" y1="258.00" x2="215.90" y2="270.10" stroke="#111" stroke-width="0.9" />
<circle cx="215.90" cy="270.10" r="1.30" fill="#111" stroke="none" stroke-width="0"/>
<line x1="229.60" y1="271.60" x2="226.60" y2="280.00" stroke="#111" stroke-width="0.9" />
<circle cx="226.60" cy="280.00" r="1.30" fill="#111" stroke="none" stroke-width="0"/>
<line x1="241.80" y1="270.00" x2="233.40" y2="287.00" stroke="#111" stroke-width="0.9" />
<circle cx="233.40" cy="287.00" r="1.30" fill="#111" stroke="none" stroke-width="0"/>
<line x1="215.90" y1="289.20" x2="212.00" y2="286.10" stroke="#111" stroke-width="0.9" />
<circle cx="212.00" cy="286.10" r="1.30" fill="#111" stroke="none" stroke-width="0"/>
<line x1="219.60" y1="296.30" x2="216.70" y2="299.50" stroke="#111" stroke-width="0.9" />
<circle cx="216.70" cy="299.50" r="1.30" fill="#111" stroke="none" stroke-width="0"/>
<line x1="188.30" y1="307.30" x2="193.70" y2="310.20" stroke="#111" stroke-width="0.9" />
<circle cx="193.70" cy="310.20" r="1.30" fill="#111" stroke="none" stroke-width="0"/>
<line x1="197.10" y1="320.60" x2="209.80" y2="306.10" stroke="#111" stroke-width="0.9" />
<circle cx="209.80" cy="306.10" r="1.30" fill="#111" stroke="none" stroke-width="0"/>
<line x1="224.80" y1="313.10" x2="219.40" y2="315.40" stroke="#111" stroke-width="0.9" />
<circle cx="219.40" cy="315.40" r="1.30" fill="#111" stroke="none" stroke-width="0"/>
<line x1="201.10" y1="336.70" x2="207.50" y2="340.20" stroke="#111" stroke-width="0.9" />
<circle cx="207.50" cy="340.20" r="1.30" fill="#111" stroke="none" stroke-width="0"/>
<line x1="224.80" y1="338.70" x2="217.30" y2="338.20" stroke="#111" stroke-width="0.9" />
<circle cx="217.30" cy="338.20" r="1.30" fill="#111" stroke="none" stroke-width="0"/>
<line x1="242.60" y1="324.60" x2="244.10" y2="320.00" stroke="#111" stroke-width="0.9" />
<circle cx="244.10" cy="320.00" r="1.30" fill="#111" stroke="none" stroke-width="0"/>
<line x1="292.00" y1="272.00" x2="269.60" y2="276.20" stroke="#111" stroke-width="0.9" />
<circle cx="269.60" cy="276.20" r="1.30" fill="#111" stroke="none" stroke-width="0"/>
<line x1="284.10" y1="303.80" x2="264.30" y2="297.20" stroke="#111" stroke-width="0.9" />
<circle cx="264.30" cy="297.20" r="1.30" fill="#111" stroke="none" stroke-width="0"/>
<line x1="291.00" y1="316.50" x2="281.80" y2="318.30" stroke="#111" stroke-width="0.9" />
<circle cx="281.80" cy="318.30" r="1.30" fill="#111" stroke="none" stroke-width="0"/>
<line x1="255.30" y1="340.20" x2="258.80" y2="337.90" stroke="#111" stroke-width="0.9" />
<circle cx="258.80" cy="337.90" r="1.30" fill="#111" stroke="none" stroke-width="0"/>
<line x1="246.60" y1="304.40" x2="250.70" y2="299.80" stroke="#111" stroke-width="0.9" />
<circle cx="250.70" cy="299.80" r="1.30" fill="#111" stroke="none" stroke-width="0"/>
<line x1="245.50" y1="295.20" x2="253.00" y2="291.20" stroke="#111" stroke-width="0.9" />
<circle cx="253.00" cy="291.20" r="1.30" fill="#111" stroke="none" stroke-width="0"/>
<circle cx="290.50" cy="327.50" r="0.50" fill="#d070a0" stroke="none" stroke-width="0"/>
<text x="225.20" y="254.80" font-size="5.99" text-anchor="middle" fill="#222" stroke="#222" stroke-width="0.13" transform="translate(225.20 254.80) scale(0.9346 1) translate(-225.20 -254.80)" >14</text>
<text x="182.30" y="265.50" font-size="5.99" text-anchor="middle" fill="#222" stroke="#222" stroke-width="0.13" transform="translate(182.30 265.50) scale(0.9346 1) translate(-182.30 -265.50)" >11</text>
<text x="229.60" y="269.40" font-size="5.99" text-anchor="middle" fill="#222" stroke="#222" stroke-width="0.13" transform="translate(229.60 269.40) scale(0.9346 1) translate(-229.60 -269.40)" >20</text>
<text x="241.80" y="267.80" font-size="5.99" text-anchor="middle" fill="#222" stroke="#222" stroke-width="0.13" transform="translate(241.80 267.80) scale(0.9346 1) translate(-241.80 -267.80)" >16</text>
<text x="218.80" y="294.60" font-size="5.99" text-anchor="middle" fill="#222" stroke="#222" stroke-width="0.13" transform="translate(218.80 294.60) scale(0.9346 1) translate(-218.80 -294.60)" >22</text>
<text x="181.90" y="308.30" font-size="5.99" text-anchor="middle" fill="#222" stroke="#222" stroke-width="0.13" transform="translate(181.90 308.30) scale(0.9346 1) translate(-181.90 -308.30)" >13</text>
<text x="191.60" y="324.60" font-size="5.99" text-anchor="middle" fill="#222" stroke="#222" stroke-width="0.13" transform="translate(191.60 324.60) scale(0.9346 1) translate(-191.60 -324.60)" >18</text>
<text x="228.00" y="315.00" font-size="5.99" text-anchor="middle" fill="#222" stroke="#222" stroke-width="0.13" transform="translate(228.00 315.00) scale(0.9346 1) translate(-228.00 -315.00)" >23</text>
<text x="195.90" y="338.60" font-size="5.99" text-anchor="middle" fill="#222" stroke="#222" stroke-width="0.13" transform="translate(195.90 338.60) scale(0.9346 1) translate(-195.90 -338.60)" >21</text>
<text x="227.40" y="340.80" font-size="5.99" text-anchor="middle" fill="#222" stroke="#222" stroke-width="0.13" transform="translate(227.40 340.80) scale(0.9346 1) translate(-227.40 -340.80)" >6</text>
<text x="240.90" y="331.00" font-size="5.99" text-anchor="middle" fill="#222" stroke="#222" stroke-width="0.13" transform="translate(240.90 331.00) scale(0.9346 1) translate(-240.90 -331.00)" >24</text>
<text x="240.90" y="301.50" font-size="5.99" text-anchor="middle" fill="#222" stroke="#222" stroke-width="0.13" transform="translate(240.90 301.50) scale(0.9346 1) translate(-240.90 -301.50)" >19</text>
<text x="240.30" y="309.60" font-size="5.99" text-anchor="middle" fill="#222" stroke="#222" stroke-width="0.13" transform="translate(240.30 309.60) scale(0.9346 1) translate(-240.30 -309.60)" >17</text>
<text x="248.40" y="341.40" font-size="5.99" text-anchor="middle" fill="#222" stroke="#222" stroke-width="0.13" transform="translate(248.40 341.40) scale(0.9346 1) translate(-248.40 -341.40)" >19</text>
<text x="295.70" y="273.50" font-size="5.99" text-anchor="middle" fill="#222" stroke="#222" stroke-width="0.13" transform="translate(295.70 273.50) scale(0.9346 1) translate(-295.70 -273.50)" >9</text>
<text x="289.00" y="306.10" font-size="5.99" text-anchor="middle" fill="#222" stroke="#222" stroke-width="0.13" transform="translate(289.00 306.10) scale(0.9346 1) translate(-289.00 -306.10)" >15</text>
<text x="295.10" y="318.20" font-size="5.99" text-anchor="middle" fill="#222" stroke="#222" stroke-width="0.13" transform="translate(295.10 318.20) scale(0.9346 1) translate(-295.10 -318.20)" >12</text>
<text x="293.90" y="333.80" font-size="5.99" text-anchor="middle" fill="#222" stroke="#222" stroke-width="0.13" transform="translate(293.90 333.80) scale(0.9346 1) translate(-293.90 -333.80)" >25</text>
<text x="202.90" y="253.80" font-size="6.21" text-anchor="middle" fill="#3a2a10" stroke="#3a2a10" stroke-width="0.13" transform="translate(202.90 253.80) scale(0.9346 1) translate(-202.90 -253.80)" >2</text>
<text x="198.30" y="287.00" font-size="6.21" text-anchor="middle" fill="#3a2a10" stroke="#3a2a10" stroke-width="0.13" transform="translate(198.30 287.00) scale(0.9346 1) translate(-198.30 -287.00)" >4</text>
<text x="209.00" y="325.80" font-size="6.21" text-anchor="middle" fill="#3a2a10" stroke="#3a2a10" stroke-width="0.13" transform="translate(209.00 325.80) scale(0.9346 1) translate(-209.00 -325.80)" >10</text>
<text x="273.50" y="259.30" font-size="6.21" text-anchor="middle" fill="#3a2a10" stroke="#3a2a10" stroke-width="0.13" transform="translate(273.50 259.30) scale(0.9346 1) translate(-273.50 -259.30)" >0</text>
<text x="281.50" y="290.80" font-size="6.21" text-anchor="middle" fill="#3a2a10" stroke="#3a2a10" stroke-width="0.13" transform="translate(281.50 290.80) scale(0.9346 1) translate(-281.50 -290.80)" >1</text>
<text x="252.70" y="281.60" font-size="6.21" text-anchor="middle" fill="#3a2a10" stroke="#3a2a10" stroke-width="0.13" transform="translate(252.70 281.60) scale(0.9346 1) translate(-252.70 -281.60)" >5</text>
<text x="254.70" y="311.00" font-size="6.21" text-anchor="middle" fill="#3a2a10" stroke="#3a2a10" stroke-width="0.13" transform="translate(254.70 311.00) scale(0.9346 1) translate(-254.70 -311.00)" >8</text>
<text x="263.40" y="323.10" font-size="6.21" text-anchor="middle" fill="#3a2a10" stroke="#3a2a10" stroke-width="0.13" transform="translate(263.40 323.10) scale(0.9346 1) translate(-263.40 -323.10)" >7</text>
<text x="274.90" y="338.10" font-size="6.21" text-anchor="middle" fill="#3a2a10" stroke="#3a2a10" stroke-width="0.13" transform="translate(274.90 338.10) scale(0.9346 1) translate(-274.90 -338.10)" >3</text>
<line x1="174.60" y1="337.04" x2="174.60" y2="347.90" stroke="#222" stroke-width="0.7" />
<polygon points="173.06,337.24 174.60,334.60 176.14,337.24" fill="#222"/>
<line x1="174.30" y1="347.70" x2="185.46" y2="347.70" stroke="#222" stroke-width="0.7" />
<polygon points="185.26,346.16 187.90,347.70 185.26,349.24" fill="#222"/>
<text x="170.00" y="342.60" font-size="5.56" text-anchor="middle" fill="#2a2a2a" stroke="#2a2a2a" stroke-width="0.13" textLength="13.20" lengthAdjust="spacingAndGlyphs" transform="rotate(-90 170.00 342.60)" >Dim.2</text>
<text x="180.40" y="355.40" font-size="5.56" text-anchor="middle" fill="#2a2a2a" stroke="#2a2a2a" stroke-width="0.13" textLength="14.70" lengthAdjust="spacingAndGlyphs" >Dim.1</text>
<text x="315.00" y="246.70" font-size="13.40" text-anchor="start" fill="#111" stroke="#111" stroke-width="0.45" font-weight="bold" >D</text>
<g filter="url(#fz)">
<path d="M341.00,248.70 C341.67,246.97 343.18,244.25 345.00,242.90 C346.82,241.55 349.60,240.60 351.90,240.60 C354.20,240.60 357.17,241.55 358.80,242.90 C360.43,244.25 361.12,246.58 361.70,248.70 C362.28,250.82 361.82,253.30 362.30,255.60 C362.78,257.90 364.02,260.38 364.60,262.50 C365.18,264.62 365.80,266.37 365.80,268.30 C365.80,270.23 365.18,272.15 364.60,274.10 C364.02,276.05 363.40,278.02 362.30,280.00 C361.20,281.98 359.30,284.00 358.00,286.00 C356.70,288.00 356.17,290.37 354.50,292.00 C352.83,293.63 350.42,295.17 348.00,295.80 C345.58,296.43 341.78,296.77 340.00,295.80 C338.22,294.83 337.82,292.63 337.30,290.00 C336.78,287.37 336.97,283.23 336.90,280.00 C336.83,276.77 336.70,273.13 336.90,270.60 C337.10,268.07 337.33,266.72 338.10,264.80 C338.87,262.88 341.02,261.02 341.50,259.10 C341.98,257.18 341.08,255.03 341.00,253.30 C340.92,251.57 340.33,250.43 341.00,248.70 Z" fill="#676767" />
<path d="M336.50,305.00 C337.17,303.67 338.58,302.42 340.00,302.00 C341.42,301.58 344.03,301.33 345.00,302.50 C345.97,303.67 346.13,307.00 345.80,309.00 C345.47,311.00 344.30,313.58 343.00,314.50 C341.70,315.42 339.17,315.25 338.00,314.50 C336.83,313.75 336.25,311.58 336.00,310.00 C335.75,308.42 335.83,306.33 336.50,305.00 Z" fill="#676767" />
<path d="M351.90,313.00 C353.23,311.40 356.48,310.92 358.80,311.00 C361.12,311.08 364.27,311.52 365.80,313.50 C367.33,315.48 367.63,319.42 368.00,322.90 C368.37,326.38 368.18,331.32 368.00,334.40 C367.82,337.48 367.85,339.82 366.90,341.40 C365.95,342.98 364.22,343.48 362.30,343.90 C360.38,344.32 357.03,344.70 355.40,343.90 C353.77,343.10 353.27,341.45 352.50,339.10 C351.73,336.75 351.08,332.88 350.80,329.80 C350.52,326.72 350.62,323.40 350.80,320.60 C350.98,317.80 350.57,314.60 351.90,313.00 Z" fill="#676767" />
<path d="M352.00,303.00 C352.83,301.83 355.97,301.58 358.00,301.50 C360.03,301.42 363.20,301.33 364.20,302.50 C365.20,303.67 365.03,307.28 364.00,308.50 C362.97,309.72 359.83,309.80 358.00,309.80 C356.17,309.80 354.00,309.63 353.00,308.50 C352.00,307.37 351.17,304.17 352.00,303.00 Z" fill="#676767" />
<path d="M362.00,272.50 C362.83,271.33 367.33,271.58 370.00,272.00 C372.67,272.42 375.67,273.67 378.00,275.00 C380.33,276.33 383.50,278.50 384.00,280.00 C384.50,281.50 382.83,283.50 381.00,284.00 C379.17,284.50 375.67,283.83 373.00,283.00 C370.33,282.17 366.83,280.75 365.00,279.00 C363.17,277.25 361.17,273.67 362.00,272.50 Z" fill="#676767" />
<path d="M361.00,295.00 C361.83,294.17 364.75,294.08 366.00,294.50 C367.25,294.92 368.50,296.58 368.50,297.50 C368.50,298.42 367.25,299.67 366.00,300.00 C364.75,300.33 361.83,300.33 361.00,299.50 C360.17,298.67 360.17,295.83 361.00,295.00 Z" fill="#676767" />
<path d="M406.90,250.80 C407.80,249.35 408.98,247.17 411.00,246.10 C413.02,245.03 416.08,244.40 419.00,244.40 C421.92,244.40 426.03,245.03 428.50,246.10 C430.97,247.17 432.68,248.45 433.80,250.80 C434.92,253.15 435.00,255.93 435.20,260.20 C435.40,264.47 435.15,271.43 435.00,276.40 C434.85,281.37 434.63,285.83 434.30,290.00 C433.97,294.17 433.47,297.70 433.00,301.40 C432.53,305.10 431.50,308.87 431.50,312.20 C431.50,315.53 432.87,318.07 433.00,321.40 C433.13,324.73 432.80,329.13 432.30,332.20 C431.80,335.27 431.42,337.75 430.00,339.80 C428.58,341.85 426.10,343.72 423.80,344.50 C421.50,345.28 418.75,345.53 416.20,344.50 C413.65,343.47 410.57,340.35 408.50,338.30 C406.43,336.25 404.83,334.50 403.80,332.20 C402.77,329.90 402.80,327.07 402.30,324.50 C401.80,321.93 401.82,318.85 400.80,316.80 C399.78,314.75 397.23,314.77 396.20,312.20 C395.17,309.63 395.13,304.23 394.60,301.40 C394.07,298.57 394.53,296.48 393.00,295.20 C391.47,293.92 387.82,294.23 385.40,293.70 C382.98,293.17 379.90,293.28 378.50,292.00 C377.10,290.72 376.75,287.93 377.00,286.00 C377.25,284.07 378.38,281.55 380.00,280.40 C381.62,279.25 384.45,280.00 386.70,279.10 C388.95,278.20 391.37,276.77 393.50,275.00 C395.63,273.23 397.65,270.52 399.50,268.50 C401.35,266.48 403.58,265.18 404.60,262.90 C405.62,260.62 405.22,256.82 405.60,254.80 C405.98,252.78 406.00,252.25 406.90,250.80 Z" fill="#6a3fa0" />
</g>
<ellipse cx="420.8" cy="304.5" rx="3.3" ry="2.0" fill="#fff" opacity="0.85"/>
<ellipse cx="389" cy="287" rx="2.5" ry="1.6" fill="#fff" opacity="0.85"/>
<ellipse cx="395.5" cy="291" rx="2.0" ry="1.4" fill="#fff" opacity="0.85"/>
<ellipse cx="402" cy="286" rx="2.2" ry="1.5" fill="#fff" opacity="0.85"/>
<ellipse cx="384" cy="292" rx="1.6" ry="1.2" fill="#fff" opacity="0.85"/>
<ellipse cx="408" cy="282" rx="1.5" ry="1.2" fill="#fff" opacity="0.85"/>
<ellipse cx="406" cy="335" rx="1.2" ry="1.0" fill="#fff" opacity="0.85"/>
<ellipse cx="399" cy="297" rx="1.4" ry="1.0" fill="#fff" opacity="0.85"/>
<ellipse cx="391" cy="282.5" rx="1.5" ry="1.0" fill="#fff" opacity="0.85"/>
<circle cx="385.61" cy="285.42" r="0.47" fill="#fff" stroke="none" stroke-width="0"/>
<circle cx="397.33" cy="288.02" r="0.33" fill="#fff" stroke="none" stroke-width="0"/>
<circle cx="378.42" cy="294.80" r="0.42" fill="#fff" stroke="none" stroke-width="0"/>
<circle cx="385.50" cy="299.86" r="0.51" fill="#fff" stroke="none" stroke-width="0"/>
<circle cx="404.77" cy="283.24" r="0.59" fill="#fff" stroke="none" stroke-width="0"/>
<circle cx="382.82" cy="288.32" r="0.69" fill="#fff" stroke="none" stroke-width="0"/>
<circle cx="394.74" cy="291.72" r="0.60" fill="#fff" stroke="none" stroke-width="0"/>
<circle cx="380.05" cy="292.26" r="0.57" fill="#fff" stroke="none" stroke-width="0"/>
<circle cx="387.64" cy="268.99" r="0.69" fill="#fff" stroke="none" stroke-width="0"/>
<circle cx="393.13" cy="291.00" r="0.70" fill="#fff" stroke="none" stroke-width="0"/>
<circle cx="400.85" cy="297.48" r="0.48" fill="#fff" stroke="none" stroke-width="0"/>
<circle cx="403.63" cy="282.23" r="0.72" fill="#fff" stroke="none" stroke-width="0"/>
<circle cx="406.12" cy="271.12" r="0.36" fill="#fff" stroke="none" stroke-width="0"/>
<circle cx="384.94" cy="298.90" r="0.50" fill="#fff" stroke="none" stroke-width="0"/>
<circle cx="398.05" cy="277.63" r="0.53" fill="#fff" stroke="none" stroke-width="0"/>
<circle cx="390.35" cy="279.23" r="0.56" fill="#fff" stroke="none" stroke-width="0"/>
<circle cx="396.70" cy="296.93" r="0.61" fill="#fff" stroke="none" stroke-width="0"/>
<circle cx="407.73" cy="295.40" r="0.75" fill="#fff" stroke="none" stroke-width="0"/>
<circle cx="399.48" cy="273.22" r="0.69" fill="#fff" stroke="none" stroke-width="0"/>
<circle cx="408.87" cy="296.95" r="0.56" fill="#fff" stroke="none" stroke-width="0"/>
<circle cx="400.84" cy="274.76" r="0.67" fill="#fff" stroke="none" stroke-width="0"/>
<circle cx="396.35" cy="277.12" r="0.33" fill="#fff" stroke="none" stroke-width="0"/>
<circle cx="405.33" cy="299.67" r="0.34" fill="#fff" stroke="none" stroke-width="0"/>
<circle cx="403.62" cy="281.13" r="0.37" fill="#fff" stroke="none" stroke-width="0"/>
<circle cx="387.40" cy="292.60" r="0.69" fill="#fff" stroke="none" stroke-width="0"/>
<circle cx="379.41" cy="287.67" r="0.32" fill="#fff" stroke="none" stroke-width="0"/>
<circle cx="400.99" cy="278.59" r="0.70" fill="#fff" stroke="none" stroke-width="0"/>
<circle cx="409.38" cy="284.17" r="0.75" fill="#fff" stroke="none" stroke-width="0"/>
<circle cx="387.91" cy="270.46" r="0.57" fill="#fff" stroke="none" stroke-width="0"/>
<circle cx="379.00" cy="274.32" r="0.48" fill="#fff" stroke="none" stroke-width="0"/>
<circle cx="397.53" cy="273.00" r="0.32" fill="#fff" stroke="none" stroke-width="0"/>
<circle cx="405.77" cy="278.04" r="0.73" fill="#fff" stroke="none" stroke-width="0"/>
<circle cx="406.69" cy="280.09" r="0.51" fill="#fff" stroke="none" stroke-width="0"/>
<circle cx="394.64" cy="288.60" r="0.57" fill="#fff" stroke="none" stroke-width="0"/>
<circle cx="395.90" cy="287.84" r="0.72" fill="#fff" stroke="none" stroke-width="0"/>
<circle cx="394.22" cy="281.80" r="0.62" fill="#fff" stroke="none" stroke-width="0"/>
<circle cx="385.60" cy="277.63" r="0.74" fill="#fff" stroke="none" stroke-width="0"/>
<circle cx="394.68" cy="285.55" r="0.31" fill="#fff" stroke="none" stroke-width="0"/>
<circle cx="391.29" cy="286.56" r="0.31" fill="#fff" stroke="none" stroke-width="0"/>
<circle cx="397.71" cy="288.23" r="0.33" fill="#fff" stroke="none" stroke-width="0"/>
<circle cx="398.07" cy="282.92" r="0.61" fill="#fff" stroke="none" stroke-width="0"/>
<circle cx="389.28" cy="290.62" r="0.63" fill="#fff" stroke="none" stroke-width="0"/>
<circle cx="378.71" cy="269.94" r="0.60" fill="#fff" stroke="none" stroke-width="0"/>
<circle cx="408.83" cy="276.04" r="0.51" fill="#fff" stroke="none" stroke-width="0"/>
<circle cx="396.97" cy="278.24" r="0.46" fill="#fff" stroke="none" stroke-width="0"/>
<circle cx="388.01" cy="279.81" r="0.57" fill="#fff" stroke="none" stroke-width="0"/>
<circle cx="387.61" cy="280.07" r="0.65" fill="#fff" stroke="none" stroke-width="0"/>
<circle cx="378.86" cy="286.22" r="0.63" fill="#fff" stroke="none" stroke-width="0"/>
<circle cx="387.92" cy="275.12" r="0.66" fill="#fff" stroke="none" stroke-width="0"/>
<circle cx="385.64" cy="274.00" r="0.50" fill="#fff" stroke="none" stroke-width="0"/>
<circle cx="400.34" cy="271.26" r="0.44" fill="#fff" stroke="none" stroke-width="0"/>
<circle cx="388.68" cy="294.67" r="0.50" fill="#fff" stroke="none" stroke-width="0"/>
<circle cx="405.38" cy="273.42" r="0.45" fill="#fff" stroke="none" stroke-width="0"/>
<circle cx="398.81" cy="296.32" r="0.50" fill="#fff" stroke="none" stroke-width="0"/>
<circle cx="385.20" cy="271.87" r="0.54" fill="#fff" stroke="none" stroke-width="0"/>
<circle cx="384.11" cy="293.82" r="0.68" fill="#fff" stroke="none" stroke-width="0"/>
<circle cx="383.87" cy="276.91" r="0.66" fill="#fff" stroke="none" stroke-width="0"/>
<circle cx="398.54" cy="293.80" r="0.46" fill="#fff" stroke="none" stroke-width="0"/>
<circle cx="382.15" cy="277.34" r="0.66" fill="#fff" stroke="none" stroke-width="0"/>
<circle cx="386.68" cy="279.08" r="0.49" fill="#fff" stroke="none" stroke-width="0"/>
<circle cx="391.43" cy="281.10" r="0.71" fill="#fff" stroke="none" stroke-width="0"/>
<circle cx="382.99" cy="268.15" r="0.72" fill="#fff" stroke="none" stroke-width="0"/>
<circle cx="406.16" cy="299.58" r="0.50" fill="#fff" stroke="none" stroke-width="0"/>
<circle cx="408.41" cy="297.68" r="0.40" fill="#fff" stroke="none" stroke-width="0"/>
<circle cx="401.86" cy="294.77" r="0.60" fill="#fff" stroke="none" stroke-width="0"/>
<circle cx="394.61" cy="277.25" r="0.45" fill="#fff" stroke="none" stroke-width="0"/>
<circle cx="385.28" cy="270.18" r="0.56" fill="#fff" stroke="none" stroke-width="0"/>
<circle cx="387.18" cy="293.93" r="0.32" fill="#fff" stroke="none" stroke-width="0"/>
<circle cx="406.92" cy="290.20" r="0.72" fill="#fff" stroke="none" stroke-width="0"/>
<circle cx="406.69" cy="296.79" r="0.56" fill="#fff" stroke="none" stroke-width="0"/>
<circle cx="401.14" cy="335.42" r="0.35" fill="#fff" stroke="none" stroke-width="0"/>
<circle cx="404.30" cy="333.93" r="0.46" fill="#fff" stroke="none" stroke-width="0"/>
<circle cx="405.55" cy="338.90" r="0.48" fill="#fff" stroke="none" stroke-width="0"/>
<circle cx="404.75" cy="326.54" r="0.56" fill="#fff" stroke="none" stroke-width="0"/>
<circle cx="406.25" cy="336.08" r="0.41" fill="#fff" stroke="none" stroke-width="0"/>
<circle cx="403.17" cy="331.62" r="0.55" fill="#fff" stroke="none" stroke-width="0"/>
<circle cx="402.88" cy="336.25" r="0.58" fill="#fff" stroke="none" stroke-width="0"/>
<circle cx="409.87" cy="336.82" r="0.30" fill="#fff" stroke="none" stroke-width="0"/>
<circle cx="407.91" cy="337.53" r="0.31" fill="#fff" stroke="none" stroke-width="0"/>
<circle cx="403.99" cy="326.83" r="0.46" fill="#fff" stroke="none" stroke-width="0"/>
<circle cx="405.65" cy="330.51" r="0.53" fill="#fff" stroke="none" stroke-width="0"/>
<circle cx="401.02" cy="322.99" r="0.34" fill="#fff" stroke="none" stroke-width="0"/>
<circle cx="402.37" cy="323.23" r="0.59" fill="#fff" stroke="none" stroke-width="0"/>
<circle cx="410.40" cy="323.55" r="0.45" fill="#fff" stroke="none" stroke-width="0"/>
<circle cx="404.47" cy="327.66" r="0.41" fill="#fff" stroke="none" stroke-width="0"/>
<circle cx="359.41" cy="305.73" r="0.55" fill="#676767" stroke="none" stroke-width="0"/>
<circle cx="345.73" cy="300.58" r="0.42" fill="#676767" stroke="none" stroke-width="0"/>
<circle cx="356.67" cy="308.32" r="0.56" fill="#676767" stroke="none" stroke-width="0"/>
<circle cx="342.40" cy="297.57" r="0.56" fill="#676767" stroke="none" stroke-width="0"/>
<circle cx="358.13" cy="309.65" r="0.56" fill="#676767" stroke="none" stroke-width="0"/>
<circle cx="364.03" cy="306.46" r="0.59" fill="#676767" stroke="none" stroke-width="0"/>
<circle cx="351.17" cy="303.92" r="0.74" fill="#676767" stroke="none" stroke-width="0"/>
<circle cx="352.62" cy="307.88" r="0.60" fill="#676767" stroke="none" stroke-width="0"/>
<circle cx="347.35" cy="304.72" r="0.73" fill="#676767" stroke="none" stroke-width="0"/>
<circle cx="342.15" cy="302.50" r="0.58" fill="#676767" stroke="none" stroke-width="0"/>
<circle cx="366.39" cy="312.73" r="0.56" fill="#676767" stroke="none" stroke-width="0"/>
<circle cx="366.94" cy="309.82" r="0.49" fill="#676767" stroke="none" stroke-width="0"/>
<circle cx="353.92" cy="296.46" r="0.80" fill="#676767" stroke="none" stroke-width="0"/>
<circle cx="359.87" cy="311.75" r="0.79" fill="#676767" stroke="none" stroke-width="0"/>
<circle cx="360.03" cy="308.67" r="0.66" fill="#676767" stroke="none" stroke-width="0"/>
<circle cx="343.09" cy="305.76" r="0.35" fill="#676767" stroke="none" stroke-width="0"/>
<circle cx="344.31" cy="309.49" r="0.37" fill="#676767" stroke="none" stroke-width="0"/>
<circle cx="342.75" cy="295.99" r="0.83" fill="#676767" stroke="none" stroke-width="0"/>
<circle cx="345.37" cy="294.47" r="0.81" fill="#676767" stroke="none" stroke-width="0"/>
<circle cx="343.64" cy="310.88" r="0.72" fill="#676767" stroke="none" stroke-width="0"/>
<circle cx="365.09" cy="313.05" r="0.67" fill="#676767" stroke="none" stroke-width="0"/>
<circle cx="363.96" cy="294.73" r="0.77" fill="#676767" stroke="none" stroke-width="0"/>
<circle cx="355.34" cy="308.30" r="0.41" fill="#676767" stroke="none" stroke-width="0"/>
<circle cx="362.47" cy="312.69" r="0.38" fill="#676767" stroke="none" stroke-width="0"/>
<circle cx="349.73" cy="305.28" r="0.81" fill="#676767" stroke="none" stroke-width="0"/>
<circle cx="347.26" cy="297.60" r="0.49" fill="#676767" stroke="none" stroke-width="0"/>
<circle cx="358.48" cy="309.07" r="0.57" fill="#676767" stroke="none" stroke-width="0"/>
<circle cx="351.02" cy="301.93" r="0.54" fill="#676767" stroke="none" stroke-width="0"/>
<circle cx="352.55" cy="295.67" r="0.63" fill="#676767" stroke="none" stroke-width="0"/>
<circle cx="369.19" cy="302.26" r="0.76" fill="#676767" stroke="none" stroke-width="0"/>
<circle cx="344.82" cy="307.82" r="0.77" fill="#676767" stroke="none" stroke-width="0"/>
<circle cx="360.22" cy="304.34" r="0.62" fill="#676767" stroke="none" stroke-width="0"/>
<circle cx="359.29" cy="311.95" r="0.43" fill="#676767" stroke="none" stroke-width="0"/>
<circle cx="342.88" cy="308.96" r="0.85" fill="#676767" stroke="none" stroke-width="0"/>
<circle cx="355.52" cy="302.86" r="0.75" fill="#676767" stroke="none" stroke-width="0"/>
<circle cx="345.58" cy="299.35" r="0.46" fill="#676767" stroke="none" stroke-width="0"/>
<circle cx="357.57" cy="300.30" r="0.48" fill="#676767" stroke="none" stroke-width="0"/>
<circle cx="360.73" cy="313.07" r="0.51" fill="#676767" stroke="none" stroke-width="0"/>
<circle cx="361.16" cy="302.26" r="0.82" fill="#676767" stroke="none" stroke-width="0"/>
<circle cx="357.54" cy="299.34" r="0.47" fill="#676767" stroke="none" stroke-width="0"/>
<circle cx="340.69" cy="303.59" r="0.56" fill="#676767" stroke="none" stroke-width="0"/>
<circle cx="345.17" cy="301.21" r="0.53" fill="#676767" stroke="none" stroke-width="0"/>
<circle cx="363.23" cy="296.87" r="0.90" fill="#676767" stroke="none" stroke-width="0"/>
<circle cx="354.39" cy="305.98" r="0.61" fill="#676767" stroke="none" stroke-width="0"/>
<circle cx="365.04" cy="310.43" r="0.66" fill="#676767" stroke="none" stroke-width="0"/>
<circle cx="354.44" cy="308.41" r="0.82" fill="#676767" stroke="none" stroke-width="0"/>
<circle cx="352.01" cy="308.67" r="0.88" fill="#676767" stroke="none" stroke-width="0"/>
<circle cx="354.02" cy="298.59" r="0.48" fill="#676767" stroke="none" stroke-width="0"/>
<circle cx="361.53" cy="307.51" r="0.88" fill="#676767" stroke="none" stroke-width="0"/>
<circle cx="365.62" cy="298.84" r="0.45" fill="#676767" stroke="none" stroke-width="0"/>
<circle cx="347.76" cy="297.74" r="0.74" fill="#676767" stroke="none" stroke-width="0"/>
<circle cx="365.76" cy="312.00" r="0.49" fill="#676767" stroke="none" stroke-width="0"/>
<circle cx="365.95" cy="300.27" r="0.58" fill="#676767" stroke="none" stroke-width="0"/>
<circle cx="361.87" cy="295.72" r="0.40" fill="#676767" stroke="none" stroke-width="0"/>
<circle cx="365.02" cy="299.84" r="0.55" fill="#676767" stroke="none" stroke-width="0"/>
<circle cx="357.41" cy="307.51" r="0.35" fill="#676767" stroke="none" stroke-width="0"/>
<circle cx="350.04" cy="302.72" r="0.62" fill="#676767" stroke="none" stroke-width="0"/>
<circle cx="346.30" cy="305.70" r="0.88" fill="#676767" stroke="none" stroke-width="0"/>
<circle cx="351.73" cy="304.89" r="0.42" fill="#676767" stroke="none" stroke-width="0"/>
<circle cx="348.24" cy="307.31" r="0.41" fill="#676767" stroke="none" stroke-width="0"/>
<circle cx="360.08" cy="298.18" r="0.34" fill="#fff" stroke="none" stroke-width="0"/>
<circle cx="361.00" cy="287.48" r="0.61" fill="#fff" stroke="none" stroke-width="0"/>
<circle cx="357.87" cy="285.91" r="0.57" fill="#fff" stroke="none" stroke-width="0"/>
<circle cx="356.12" cy="296.12" r="0.41" fill="#fff" stroke="none" stroke-width="0"/>
<circle cx="357.82" cy="299.23" r="0.57" fill="#fff" stroke="none" stroke-width="0"/>
<circle cx="354.11" cy="282.27" r="0.50" fill="#fff" stroke="none" stroke-width="0"/>
<circle cx="350.99" cy="294.36" r="0.57" fill="#fff" stroke="none" stroke-width="0"/>
<circle cx="354.63" cy="283.64" r="0.56" fill="#fff" stroke="none" stroke-width="0"/>
<circle cx="355.73" cy="283.58" r="0.66" fill="#fff" stroke="none" stroke-width="0"/>
<circle cx="356.14" cy="282.46" r="0.67" fill="#fff" stroke="none" stroke-width="0"/>
<circle cx="347.40" cy="286.63" r="0.59" fill="#fff" stroke="none" stroke-width="0"/>
<circle cx="355.16" cy="291.10" r="0.56" fill="#fff" stroke="none" stroke-width="0"/>
<circle cx="352.78" cy="286.25" r="0.37" fill="#fff" stroke="none" stroke-width="0"/>
<circle cx="346.17" cy="294.32" r="0.60" fill="#fff" stroke="none" stroke-width="0"/>
<circle cx="354.23" cy="294.79" r="0.44" fill="#fff" stroke="none" stroke-width="0"/>
<circle cx="349.52" cy="287.67" r="0.65" fill="#fff" stroke="none" stroke-width="0"/>
<circle cx="345.72" cy="290.09" r="0.40" fill="#fff" stroke="none" stroke-width="0"/>
<circle cx="358.07" cy="287.08" r="0.43" fill="#fff" stroke="none" stroke-width="0"/>
<circle cx="351.86" cy="290.83" r="0.61" fill="#fff" stroke="none" stroke-width="0"/>
<circle cx="351.00" cy="296.94" r="0.34" fill="#fff" stroke="none" stroke-width="0"/>
<circle cx="349.60" cy="281.99" r="0.35" fill="#fff" stroke="none" stroke-width="0"/>
<circle cx="358.24" cy="294.55" r="0.37" fill="#fff" stroke="none" stroke-width="0"/>
<circle cx="348.22" cy="288.33" r="0.60" fill="#fff" stroke="none" stroke-width="0"/>
<circle cx="358.87" cy="294.97" r="0.54" fill="#fff" stroke="none" stroke-width="0"/>
<circle cx="347.49" cy="287.97" r="0.38" fill="#fff" stroke="none" stroke-width="0"/>
<path d="M386.70,275.00 C386.78,272.00 386.87,269.92 388.00,267.00 C389.13,264.08 391.47,260.20 393.50,257.50 C395.53,254.80 397.95,252.72 400.20,250.80 C402.45,248.88 404.53,247.27 407.00,246.00 C409.47,244.73 412.10,243.67 415.00,243.20 C417.90,242.73 421.48,242.63 424.40,243.20 C427.32,243.77 430.25,244.88 432.50,246.60 C434.75,248.32 436.75,250.78 437.90,253.50 C439.05,256.22 439.15,259.08 439.40,262.90 C439.65,266.72 439.55,271.88 439.40,276.40 C439.25,280.92 439.03,285.83 438.50,290.00 C437.97,294.17 436.58,296.93 436.20,301.40 C435.82,305.87 435.70,312.70 436.20,316.80 C436.70,320.90 438.70,322.93 439.20,326.00 C439.70,329.07 439.70,332.37 439.20,335.20 C438.70,338.03 437.73,340.95 436.20,343.00 C434.67,345.05 432.57,346.47 430.00,347.50 C427.43,348.53 424.13,349.20 420.80,349.20 C417.47,349.20 413.33,348.53 410.00,347.50 C406.67,346.47 402.85,345.05 400.80,343.00 C398.75,340.95 398.22,338.28 397.70,335.20 C397.18,332.12 397.95,327.20 397.70,324.50 C397.45,321.80 397.48,320.80 396.20,319.00 C394.92,317.20 391.28,316.63 390.00,313.70 C388.72,310.77 388.78,304.73 388.50,301.40 C388.22,298.07 388.47,296.43 388.30,293.70 C388.13,290.97 387.77,288.12 387.50,285.00 C387.23,281.88 386.62,278.00 386.70,275.00 Z" fill="none" stroke="#333" stroke-width="0.75" stroke-dasharray="0.8,0.6"/>
<path d="M386,314 Q388,318.5 394.5,318.6" fill="none" stroke="#777" stroke-width="1.0" />
<path d="M420.8,349.2 L420.8,357.6 L257.7,357.6 L257.7,378.2" fill="none" stroke="#333" stroke-width="0.6" stroke-dasharray="0.9,0.7"/>
<polygon points="256.3,377.4 259.1,377.4 257.7,380.4" fill="#222"/>
<rect x="458.90" y="291.50" width="6.30" height="5.60" fill="#676767" stroke="#333" stroke-width="0.5" rx="0"/>
<text x="467.40" y="296.30" font-size="5.78" text-anchor="start" fill="#2a2a2a" stroke="#2a2a2a" stroke-width="0.13" textLength="38.10" lengthAdjust="spacingAndGlyphs" >Non-activated</text>
<rect x="458.90" y="302.50" width="6.30" height="5.60" fill="#6a3fa0" stroke="#333" stroke-width="0.5" rx="0"/>
<text x="467.40" y="307.30" font-size="5.78" text-anchor="start" fill="#2a2a2a" stroke="#2a2a2a" stroke-width="0.13" textLength="25.40" lengthAdjust="spacingAndGlyphs" >Activated</text>
<text x="0.50" y="386.80" font-size="13.40" text-anchor="start" fill="#111" stroke="#111" stroke-width="0.45" font-weight="bold" >E</text>
<rect x="117.95" y="389.75" width="10.19" height="9.78" fill="#35a8cf" stroke="none" stroke-width="0" rx="0"/>
<rect x="129.04" y="389.75" width="10.19" height="9.78" fill="#35a8cf" stroke="none" stroke-width="0" rx="0"/>
<rect x="140.13" y="389.75" width="10.19" height="9.78" fill="#17236b" stroke="none" stroke-width="0" rx="0"/>
<rect x="151.22" y="389.75" width="10.19" height="9.78" fill="#eaedbe" stroke="none" stroke-width="0" rx="0"/>
<rect x="162.31" y="389.75" width="10.19" height="9.78" fill="#2484c1" stroke="none" stroke-width="0" rx="0"/>
<rect x="173.40" y="389.75" width="10.19" height="9.78" fill="#88cebe" stroke="none" stroke-width="0" rx="0"/>
<rect x="184.49" y="389.75" width="10.19" height="9.78" fill="#d5e8b7" stroke="none" stroke-width="0" rx="0"/>
<rect x="195.58" y="389.75" width="10.19" height="9.78" fill="#d5e8b7" stroke="none" stroke-width="0" rx="0"/>
<rect x="206.67" y="389.75" width="10.19" height="9.78" fill="#2654a7" stroke="none" stroke-width="0" rx="0"/>
<rect x="217.76" y="389.75" width="10.19" height="9.78" fill="#2c96c8" stroke="none" stroke-width="0" rx="0"/>
<rect x="228.85" y="389.75" width="10.19" height="9.78" fill="#fbf8da" stroke="none" stroke-width="0" rx="0"/>
<rect x="239.94" y="389.75" width="10.19" height="9.78" fill="#35a8cf" stroke="none" stroke-width="0" rx="0"/>
<rect x="251.03" y="389.75" width="10.19" height="9.78" fill="#35a8cf" stroke="none" stroke-width="0" rx="0"/>
<rect x="262.12" y="389.75" width="10.19" height="9.78" fill="#eaedbe" stroke="none" stroke-width="0" rx="0"/>
<rect x="273.21" y="389.75" width="10.19" height="9.78" fill="#eaedbe" stroke="none" stroke-width="0" rx="0"/>
<rect x="284.30" y="389.75" width="10.19" height="9.78" fill="#eaedbe" stroke="none" stroke-width="0" rx="0"/>
<rect x="295.39" y="389.75" width="10.19" height="9.78" fill="#eaedbe" stroke="none" stroke-width="0" rx="0"/>
<rect x="306.48" y="389.75" width="10.19" height="9.78" fill="#eaedbe" stroke="none" stroke-width="0" rx="0"/>
<rect x="317.57" y="389.75" width="10.19" height="9.78" fill="#eaedbe" stroke="none" stroke-width="0" rx="0"/>
<rect x="328.66" y="389.75" width="10.19" height="9.78" fill="#eaedbe" stroke="none" stroke-width="0" rx="0"/>
<rect x="339.75" y="389.75" width="10.19" height="9.78" fill="#eaedbe" stroke="none" stroke-width="0" rx="0"/>
<rect x="350.84" y="389.75" width="10.19" height="9.78" fill="#eaedbe" stroke="none" stroke-width="0" rx="0"/>
<rect x="361.93" y="389.75" width="10.19" height="9.78" fill="#eaedbe" stroke="none" stroke-width="0" rx="0"/>
<rect x="373.02" y="389.75" width="10.19" height="9.78" fill="#eaedbe" stroke="none" stroke-width="0" rx="0"/>
<rect x="117.95" y="400.43" width="10.19" height="9.78" fill="#2654a7" stroke="none" stroke-width="0" rx="0"/>
<rect x="129.04" y="400.43" width="10.19" height="9.78" fill="#e0eaba" stroke="none" stroke-width="0" rx="0"/>
<rect x="140.13" y="400.43" width="10.19" height="9.78" fill="#17236b" stroke="none" stroke-width="0" rx="0"/>
<rect x="151.22" y="400.43" width="10.19" height="9.78" fill="#eaedbe" stroke="none" stroke-width="0" rx="0"/>
<rect x="162.31" y="400.43" width="10.19" height="9.78" fill="#256cb4" stroke="none" stroke-width="0" rx="0"/>
<rect x="173.40" y="400.43" width="10.19" height="9.78" fill="#69c3c1" stroke="none" stroke-width="0" rx="0"/>
<rect x="184.49" y="400.43" width="10.19" height="9.78" fill="#d5e8b7" stroke="none" stroke-width="0" rx="0"/>
<rect x="195.58" y="400.43" width="10.19" height="9.78" fill="#69c3c1" stroke="none" stroke-width="0" rx="0"/>
<rect x="206.67" y="400.43" width="10.19" height="9.78" fill="#e0eaba" stroke="none" stroke-width="0" rx="0"/>
<rect x="217.76" y="400.43" width="10.19" height="9.78" fill="#fbf8da" stroke="none" stroke-width="0" rx="0"/>
<rect x="228.85" y="400.43" width="10.19" height="9.78" fill="#fbf8da" stroke="none" stroke-width="0" rx="0"/>
<rect x="239.94" y="400.43" width="10.19" height="9.78" fill="#eaedbe" stroke="none" stroke-width="0" rx="0"/>
<rect x="251.03" y="400.43" width="10.19" height="9.78" fill="#eaedbe" stroke="none" stroke-width="0" rx="0"/>
<rect x="262.12" y="400.43" width="10.19" height="9.78" fill="#eaedbe" stroke="none" stroke-width="0" rx="0"/>
<rect x="273.21" y="400.43" width="10.19" height="9.78" fill="#eaedbe" stroke="none" stroke-width="0" rx="0"/>
<rect x="284.30" y="400.43" width="10.19" height="9.78" fill="#eaedbe" stroke="none" stroke-width="0" rx="0"/>
<rect x="295.39" y="400.43" width="10.19" height="9.78" fill="#eaedbe" stroke="none" stroke-width="0" rx="0"/>
<rect x="306.48" y="400.43" width="10.19" height="9.78" fill="#fbf8da" stroke="none" stroke-width="0" rx="0"/>
<rect x="317.57" y="400.43" width="10.19" height="9.78" fill="#35a8cf" stroke="none" stroke-width="0" rx="0"/>
<rect x="328.66" y="400.43" width="10.19" height="9.78" fill="#17236b" stroke="none" stroke-width="0" rx="0"/>
<rect x="339.75" y="400.43" width="10.19" height="9.78" fill="#2484c1" stroke="none" stroke-width="0" rx="0"/>
<rect x="350.84" y="400.43" width="10.19" height="9.78" fill="#17236b" stroke="none" stroke-width="0" rx="0"/>
<rect x="361.93" y="400.43" width="10.19" height="9.78" fill="#17236b" stroke="none" stroke-width="0" rx="0"/>
<rect x="373.02" y="400.43" width="10.19" height="9.78" fill="#17236b" stroke="none" stroke-width="0" rx="0"/>
<rect x="117.95" y="411.11" width="10.19" height="9.78" fill="#2484c1" stroke="none" stroke-width="0" rx="0"/>
<rect x="129.04" y="411.11" width="10.19" height="9.78" fill="#1e3c89" stroke="none" stroke-width="0" rx="0"/>
<rect x="140.13" y="411.11" width="10.19" height="9.78" fill="#17236b" stroke="none" stroke-width="0" rx="0"/>
<rect x="151.22" y="411.11" width="10.19" height="9.78" fill="#fbf8da" stroke="none" stroke-width="0" rx="0"/>
<rect x="162.31" y="411.11" width="10.19" height="9.78" fill="#2c96c8" stroke="none" stroke-width="0" rx="0"/>
<rect x="173.40" y="411.11" width="10.19" height="9.78" fill="#88cebe" stroke="none" stroke-width="0" rx="0"/>
<rect x="184.49" y="411.11" width="10.19" height="9.78" fill="#e0eaba" stroke="none" stroke-width="0" rx="0"/>
<rect x="195.58" y="411.11" width="10.19" height="9.78" fill="#69c3c1" stroke="none" stroke-width="0" rx="0"/>
<rect x="206.67" y="411.11" width="10.19" height="9.78" fill="#a6d9bb" stroke="none" stroke-width="0" rx="0"/>
<rect x="217.76" y="411.11" width="10.19" height="9.78" fill="#fbf8da" stroke="none" stroke-width="0" rx="0"/>
<rect x="228.85" y="411.11" width="10.19" height="9.78" fill="#fbf8da" stroke="none" stroke-width="0" rx="0"/>
<rect x="239.94" y="411.11" width="10.19" height="9.78" fill="#eaedbe" stroke="none" stroke-width="0" rx="0"/>
<rect x="251.03" y="411.11" width="10.19" height="9.78" fill="#e0eaba" stroke="none" stroke-width="0" rx="0"/>
<rect x="262.12" y="411.11" width="10.19" height="9.78" fill="#eaedbe" stroke="none" stroke-width="0" rx="0"/>
<rect x="273.21" y="411.11" width="10.19" height="9.78" fill="#eaedbe" stroke="none" stroke-width="0" rx="0"/>
<rect x="284.30" y="411.11" width="10.19" height="9.78" fill="#eaedbe" stroke="none" stroke-width="0" rx="0"/>
<rect x="295.39" y="411.11" width="10.19" height="9.78" fill="#eaedbe" stroke="none" stroke-width="0" rx="0"/>
<rect x="306.48" y="411.11" width="10.19" height="9.78" fill="#17236b" stroke="none" stroke-width="0" rx="0"/>
<rect x="317.57" y="411.11" width="10.19" height="9.78" fill="#2484c1" stroke="none" stroke-width="0" rx="0"/>
<rect x="328.66" y="411.11" width="10.19" height="9.78" fill="#d5e8b7" stroke="none" stroke-width="0" rx="0"/>
<rect x="339.75" y="411.11" width="10.19" height="9.78" fill="#e0eaba" stroke="none" stroke-width="0" rx="0"/>
<rect x="350.84" y="411.11" width="10.19" height="9.78" fill="#1e3c89" stroke="none" stroke-width="0" rx="0"/>
<rect x="361.93" y="411.11" width="10.19" height="9.78" fill="#69c3c1" stroke="none" stroke-width="0" rx="0"/>
<rect x="373.02" y="411.11" width="10.19" height="9.78" fill="#2484c1" stroke="none" stroke-width="0" rx="0"/>
<rect x="117.95" y="421.79" width="10.19" height="9.78" fill="#35a8cf" stroke="none" stroke-width="0" rx="0"/>
<rect x="129.04" y="421.79" width="10.19" height="9.78" fill="#eaedbe" stroke="none" stroke-width="0" rx="0"/>
<rect x="140.13" y="421.79" width="10.19" height="9.78" fill="#2484c1" stroke="none" stroke-width="0" rx="0"/>
<rect x="151.22" y="421.79" width="10.19" height="9.78" fill="#eaedbe" stroke="none" stroke-width="0" rx="0"/>
<rect x="162.31" y="421.79" width="10.19" height="9.78" fill="#eaedbe" stroke="none" stroke-width="0" rx="0"/>
<rect x="173.40" y="421.79" width="10.19" height="9.78" fill="#d5e8b7" stroke="none" stroke-width="0" rx="0"/>
<rect x="184.49" y="421.79" width="10.19" height="9.78" fill="#d5e8b7" stroke="none" stroke-width="0" rx="0"/>
<rect x="195.58" y="421.79" width="10.19" height="9.78" fill="#e0eaba" stroke="none" stroke-width="0" rx="0"/>
<rect x="206.67" y="421.79" width="10.19" height="9.78" fill="#eaedbe" stroke="none" stroke-width="0" rx="0"/>
<rect x="217.76" y="421.79" width="10.19" height="9.78" fill="#eaedbe" stroke="none" stroke-width="0" rx="0"/>
<rect x="228.85" y="421.79" width="10.19" height="9.78" fill="#d5e8b7" stroke="none" stroke-width="0" rx="0"/>
<rect x="239.94" y="421.79" width="10.19" height="9.78" fill="#eaedbe" stroke="none" stroke-width="0" rx="0"/>
<rect x="251.03" y="421.79" width="10.19" height="9.78" fill="#eaedbe" stroke="none" stroke-width="0" rx="0"/>
<rect x="262.12" y="421.79" width="10.19" height="9.78" fill="#fbf8da" stroke="none" stroke-width="0" rx="0"/>
<rect x="273.21" y="421.79" width="10.19" height="9.78" fill="#fbf8da" stroke="none" stroke-width="0" rx="0"/>
<rect x="284.30" y="421.79" width="10.19" height="9.78" fill="#88cebe" stroke="none" stroke-width="0" rx="0"/>
<rect x="295.39" y="421.79" width="10.19" height="9.78" fill="#17236b" stroke="none" stroke-width="0" rx="0"/>
<rect x="306.48" y="421.79" width="10.19" height="9.78" fill="#fbf8da" stroke="none" stroke-width="0" rx="0"/>
<rect x="317.57" y="421.79" width="10.19" height="9.78" fill="#17236b" stroke="none" stroke-width="0" rx="0"/>
<rect x="328.66" y="421.79" width="10.19" height="9.78" fill="#17236b" stroke="none" stroke-width="0" rx="0"/>
<rect x="339.75" y="421.79" width="10.19" height="9.78" fill="#69c3c1" stroke="none" stroke-width="0" rx="0"/>
<rect x="350.84" y="421.79" width="10.19" height="9.78" fill="#88cebe" stroke="none" stroke-width="0" rx="0"/>
<rect x="361.93" y="421.79" width="10.19" height="9.78" fill="#35a8cf" stroke="none" stroke-width="0" rx="0"/>
<rect x="373.02" y="421.79" width="10.19" height="9.78" fill="#35a8cf" stroke="none" stroke-width="0" rx="0"/>
<rect x="117.95" y="432.47" width="10.19" height="9.78" fill="#fbf8da" stroke="none" stroke-width="0" rx="0"/>
<rect x="129.04" y="432.47" width="10.19" height="9.78" fill="#eaedbe" stroke="none" stroke-width="0" rx="0"/>
<rect x="140.13" y="432.47" width="10.19" height="9.78" fill="#69c3c1" stroke="none" stroke-width="0" rx="0"/>
<rect x="151.22" y="432.47" width="10.19" height="9.78" fill="#17236b" stroke="none" stroke-width="0" rx="0"/>
<rect x="162.31" y="432.47" width="10.19" height="9.78" fill="#17236b" stroke="none" stroke-width="0" rx="0"/>
<rect x="173.40" y="432.47" width="10.19" height="9.78" fill="#17236b" stroke="none" stroke-width="0" rx="0"/>
<rect x="184.49" y="432.47" width="10.19" height="9.78" fill="#17236b" stroke="none" stroke-width="0" rx="0"/>
<rect x="195.58" y="432.47" width="10.19" height="9.78" fill="#17236b" stroke="none" stroke-width="0" rx="0"/>
<rect x="206.67" y="432.47" width="10.19" height="9.78" fill="#fbf8da" stroke="none" stroke-width="0" rx="0"/>
<rect x="217.76" y="432.47" width="10.19" height="9.78" fill="#e0eaba" stroke="none" stroke-width="0" rx="0"/>
<rect x="228.85" y="432.47" width="10.19" height="9.78" fill="#fbf8da" stroke="none" stroke-width="0" rx="0"/>
<rect x="239.94" y="432.47" width="10.19" height="9.78" fill="#fbf8da" stroke="none" stroke-width="0" rx="0"/>
<rect x="251.03" y="432.47" width="10.19" height="9.78" fill="#fbf8da" stroke="none" stroke-width="0" rx="0"/>
<rect x="262.12" y="432.47" width="10.19" height="9.78" fill="#e0eaba" stroke="none" stroke-width="0" rx="0"/>
<rect x="273.21" y="432.47" width="10.19" height="9.78" fill="#eaedbe" stroke="none" stroke-width="0" rx="0"/>
<rect x="284.30" y="432.47" width="10.19" height="9.78" fill="#a6d9bb" stroke="none" stroke-width="0" rx="0"/>
<rect x="295.39" y="432.47" width="10.19" height="9.78" fill="#eaedbe" stroke="none" stroke-width="0" rx="0"/>
<rect x="306.48" y="432.47" width="10.19" height="9.78" fill="#d5e8b7" stroke="none" stroke-width="0" rx="0"/>
<rect x="317.57" y="432.47" width="10.19" height="9.78" fill="#eaedbe" stroke="none" stroke-width="0" rx="0"/>
<rect x="328.66" y="432.47" width="10.19" height="9.78" fill="#35a8cf" stroke="none" stroke-width="0" rx="0"/>
<rect x="339.75" y="432.47" width="10.19" height="9.78" fill="#69c3c1" stroke="none" stroke-width="0" rx="0"/>
<rect x="350.84" y="432.47" width="10.19" height="9.78" fill="#eaedbe" stroke="none" stroke-width="0" rx="0"/>
<rect x="361.93" y="432.47" width="10.19" height="9.78" fill="#eaedbe" stroke="none" stroke-width="0" rx="0"/>
<rect x="373.02" y="432.47" width="10.19" height="9.78" fill="#eaedbe" stroke="none" stroke-width="0" rx="0"/>
<rect x="117.95" y="443.15" width="10.19" height="9.78" fill="#256cb4" stroke="none" stroke-width="0" rx="0"/>
<rect x="129.04" y="443.15" width="10.19" height="9.78" fill="#17236b" stroke="none" stroke-width="0" rx="0"/>
<rect x="140.13" y="443.15" width="10.19" height="9.78" fill="#fbf8da" stroke="none" stroke-width="0" rx="0"/>
<rect x="151.22" y="443.15" width="10.19" height="9.78" fill="#1e3c89" stroke="none" stroke-width="0" rx="0"/>
<rect x="162.31" y="443.15" width="10.19" height="9.78" fill="#69c3c1" stroke="none" stroke-width="0" rx="0"/>
<rect x="173.40" y="443.15" width="10.19" height="9.78" fill="#a6d9bb" stroke="none" stroke-width="0" rx="0"/>
<rect x="184.49" y="443.15" width="10.19" height="9.78" fill="#d5e8b7" stroke="none" stroke-width="0" rx="0"/>
<rect x="195.58" y="443.15" width="10.19" height="9.78" fill="#e0eaba" stroke="none" stroke-width="0" rx="0"/>
<rect x="206.67" y="443.15" width="10.19" height="9.78" fill="#2484c1" stroke="none" stroke-width="0" rx="0"/>
<rect x="217.76" y="443.15" width="10.19" height="9.78" fill="#17236b" stroke="none" stroke-width="0" rx="0"/>
<rect x="228.85" y="443.15" width="10.19" height="9.78" fill="#17236b" stroke="none" stroke-width="0" rx="0"/>
<rect x="239.94" y="443.15" width="10.19" height="9.78" fill="#88cebe" stroke="none" stroke-width="0" rx="0"/>
<rect x="251.03" y="443.15" width="10.19" height="9.78" fill="#bee0b9" stroke="none" stroke-width="0" rx="0"/>
<rect x="262.12" y="443.15" width="10.19" height="9.78" fill="#eaedbe" stroke="none" stroke-width="0" rx="0"/>
<rect x="273.21" y="443.15" width="10.19" height="9.78" fill="#eaedbe" stroke="none" stroke-width="0" rx="0"/>
<rect x="284.30" y="443.15" width="10.19" height="9.78" fill="#eaedbe" stroke="none" stroke-width="0" rx="0"/>
<rect x="295.39" y="443.15" width="10.19" height="9.78" fill="#eaedbe" stroke="none" stroke-width="0" rx="0"/>
<rect x="306.48" y="443.15" width="10.19" height="9.78" fill="#eaedbe" stroke="none" stroke-width="0" rx="0"/>
<rect x="317.57" y="443.15" width="10.19" height="9.78" fill="#d5e8b7" stroke="none" stroke-width="0" rx="0"/>
<rect x="328.66" y="443.15" width="10.19" height="9.78" fill="#fbf8da" stroke="none" stroke-width="0" rx="0"/>
<rect x="339.75" y="443.15" width="10.19" height="9.78" fill="#fbf8da" stroke="none" stroke-width="0" rx="0"/>
<rect x="350.84" y="443.15" width="10.19" height="9.78" fill="#fbf8da" stroke="none" stroke-width="0" rx="0"/>
<rect x="361.93" y="443.15" width="10.19" height="9.78" fill="#eaedbe" stroke="none" stroke-width="0" rx="0"/>
<rect x="373.02" y="443.15" width="10.19" height="9.78" fill="#eaedbe" stroke="none" stroke-width="0" rx="0"/>
<rect x="117.95" y="453.83" width="10.19" height="9.78" fill="#35a8cf" stroke="none" stroke-width="0" rx="0"/>
<rect x="129.04" y="453.83" width="10.19" height="9.78" fill="#2484c1" stroke="none" stroke-width="0" rx="0"/>
<rect x="140.13" y="453.83" width="10.19" height="9.78" fill="#a6d9bb" stroke="none" stroke-width="0" rx="0"/>
<rect x="151.22" y="453.83" width="10.19" height="9.78" fill="#a6d9bb" stroke="none" stroke-width="0" rx="0"/>
<rect x="162.31" y="453.83" width="10.19" height="9.78" fill="#e0eaba" stroke="none" stroke-width="0" rx="0"/>
<rect x="173.40" y="453.83" width="10.19" height="9.78" fill="#d5e8b7" stroke="none" stroke-width="0" rx="0"/>
<rect x="184.49" y="453.83" width="10.19" height="9.78" fill="#d5e8b7" stroke="none" stroke-width="0" rx="0"/>
<rect x="195.58" y="453.83" width="10.19" height="9.78" fill="#eaedbe" stroke="none" stroke-width="0" rx="0"/>
<rect x="206.67" y="453.83" width="10.19" height="9.78" fill="#35a8cf" stroke="none" stroke-width="0" rx="0"/>
<rect x="217.76" y="453.83" width="10.19" height="9.78" fill="#2484c1" stroke="none" stroke-width="0" rx="0"/>
<rect x="228.85" y="453.83" width="10.19" height="9.78" fill="#35a8cf" stroke="none" stroke-width="0" rx="0"/>
<rect x="239.94" y="453.83" width="10.19" height="9.78" fill="#a6d9bb" stroke="none" stroke-width="0" rx="0"/>
<rect x="251.03" y="453.83" width="10.19" height="9.78" fill="#d5e8b7" stroke="none" stroke-width="0" rx="0"/>
<rect x="262.12" y="453.83" width="10.19" height="9.78" fill="#17236b" stroke="none" stroke-width="0" rx="0"/>
<rect x="273.21" y="453.83" width="10.19" height="9.78" fill="#f2f2cc" stroke="none" stroke-width="0" rx="0"/>
<rect x="284.30" y="453.83" width="10.19" height="9.78" fill="#fbf8da" stroke="none" stroke-width="0" rx="0"/>
<rect x="295.39" y="453.83" width="10.19" height="9.78" fill="#fbf8da" stroke="none" stroke-width="0" rx="0"/>
<rect x="306.48" y="453.83" width="10.19" height="9.78" fill="#eaedbe" stroke="none" stroke-width="0" rx="0"/>
<rect x="317.57" y="453.83" width="10.19" height="9.78" fill="#d5e8b7" stroke="none" stroke-width="0" rx="0"/>
<rect x="328.66" y="453.83" width="10.19" height="9.78" fill="#fbf8da" stroke="none" stroke-width="0" rx="0"/>
<rect x="339.75" y="453.83" width="10.19" height="9.78" fill="#eaedbe" stroke="none" stroke-width="0" rx="0"/>
<rect x="350.84" y="453.83" width="10.19" height="9.78" fill="#eaedbe" stroke="none" stroke-width="0" rx="0"/>
<rect x="361.93" y="453.83" width="10.19" height="9.78" fill="#eaedbe" stroke="none" stroke-width="0" rx="0"/>
<rect x="373.02" y="453.83" width="10.19" height="9.78" fill="#e0eaba" stroke="none" stroke-width="0" rx="0"/>
<rect x="117.95" y="464.51" width="10.19" height="9.78" fill="#35a8cf" stroke="none" stroke-width="0" rx="0"/>
<rect x="129.04" y="464.51" width="10.19" height="9.78" fill="#e0eaba" stroke="none" stroke-width="0" rx="0"/>
<rect x="140.13" y="464.51" width="10.19" height="9.78" fill="#eaedbe" stroke="none" stroke-width="0" rx="0"/>
<rect x="151.22" y="464.51" width="10.19" height="9.78" fill="#2484c1" stroke="none" stroke-width="0" rx="0"/>
<rect x="162.31" y="464.51" width="10.19" height="9.78" fill="#eaedbe" stroke="none" stroke-width="0" rx="0"/>
<rect x="173.40" y="464.51" width="10.19" height="9.78" fill="#35a8cf" stroke="none" stroke-width="0" rx="0"/>
<rect x="184.49" y="464.51" width="10.19" height="9.78" fill="#35a8cf" stroke="none" stroke-width="0" rx="0"/>
<rect x="195.58" y="464.51" width="10.19" height="9.78" fill="#69c3c1" stroke="none" stroke-width="0" rx="0"/>
<rect x="206.67" y="464.51" width="10.19" height="9.78" fill="#eaedbe" stroke="none" stroke-width="0" rx="0"/>
<rect x="217.76" y="464.51" width="10.19" height="9.78" fill="#88cebe" stroke="none" stroke-width="0" rx="0"/>
<rect x="228.85" y="464.51" width="10.19" height="9.78" fill="#2c96c8" stroke="none" stroke-width="0" rx="0"/>
<rect x="239.94" y="464.51" width="10.19" height="9.78" fill="#eaedbe" stroke="none" stroke-width="0" rx="0"/>
<rect x="251.03" y="464.51" width="10.19" height="9.78" fill="#eaedbe" stroke="none" stroke-width="0" rx="0"/>
<rect x="262.12" y="464.51" width="10.19" height="9.78" fill="#eaedbe" stroke="none" stroke-width="0" rx="0"/>
<rect x="273.21" y="464.51" width="10.19" height="9.78" fill="#eaedbe" stroke="none" stroke-width="0" rx="0"/>
<rect x="284.30" y="464.51" width="10.19" height="9.78" fill="#17236b" stroke="none" stroke-width="0" rx="0"/>
<rect x="295.39" y="464.51" width="10.19" height="9.78" fill="#eaedbe" stroke="none" stroke-width="0" rx="0"/>
<rect x="306.48" y="464.51" width="10.19" height="9.78" fill="#eaedbe" stroke="none" stroke-width="0" rx="0"/>
<rect x="317.57" y="464.51" width="10.19" height="9.78" fill="#2484c1" stroke="none" stroke-width="0" rx="0"/>
<rect x="328.66" y="464.51" width="10.19" height="9.78" fill="#256cb4" stroke="none" stroke-width="0" rx="0"/>
<rect x="339.75" y="464.51" width="10.19" height="9.78" fill="#eaedbe" stroke="none" stroke-width="0" rx="0"/>
<rect x="350.84" y="464.51" width="10.19" height="9.78" fill="#69c3c1" stroke="none" stroke-width="0" rx="0"/>
<rect x="361.93" y="464.51" width="10.19" height="9.78" fill="#a6d9bb" stroke="none" stroke-width="0" rx="0"/>
<rect x="373.02" y="464.51" width="10.19" height="9.78" fill="#eaedbe" stroke="none" stroke-width="0" rx="0"/>
<rect x="117.95" y="475.19" width="10.19" height="9.78" fill="#35a8cf" stroke="none" stroke-width="0" rx="0"/>
<rect x="129.04" y="475.19" width="10.19" height="9.78" fill="#fbf8da" stroke="none" stroke-width="0" rx="0"/>
<rect x="140.13" y="475.19" width="10.19" height="9.78" fill="#fbf8da" stroke="none" stroke-width="0" rx="0"/>
<rect x="151.22" y="475.19" width="10.19" height="9.78" fill="#35a8cf" stroke="none" stroke-width="0" rx="0"/>
<rect x="162.31" y="475.19" width="10.19" height="9.78" fill="#eaedbe" stroke="none" stroke-width="0" rx="0"/>
<rect x="173.40" y="475.19" width="10.19" height="9.78" fill="#d5e8b7" stroke="none" stroke-width="0" rx="0"/>
<rect x="184.49" y="475.19" width="10.19" height="9.78" fill="#bee0b9" stroke="none" stroke-width="0" rx="0"/>
<rect x="195.58" y="475.19" width="10.19" height="9.78" fill="#e0eaba" stroke="none" stroke-width="0" rx="0"/>
<rect x="206.67" y="475.19" width="10.19" height="9.78" fill="#fbf8da" stroke="none" stroke-width="0" rx="0"/>
<rect x="217.76" y="475.19" width="10.19" height="9.78" fill="#fbf8da" stroke="none" stroke-width="0" rx="0"/>
<rect x="228.85" y="475.19" width="10.19" height="9.78" fill="#88cebe" stroke="none" stroke-width="0" rx="0"/>
<rect x="239.94" y="475.19" width="10.19" height="9.78" fill="#e0eaba" stroke="none" stroke-width="0" rx="0"/>
<rect x="251.03" y="475.19" width="10.19" height="9.78" fill="#fbf8da" stroke="none" stroke-width="0" rx="0"/>
<rect x="262.12" y="475.19" width="10.19" height="9.78" fill="#256cb4" stroke="none" stroke-width="0" rx="0"/>
<rect x="273.21" y="475.19" width="10.19" height="9.78" fill="#17236b" stroke="none" stroke-width="0" rx="0"/>
<rect x="284.30" y="475.19" width="10.19" height="9.78" fill="#eaedbe" stroke="none" stroke-width="0" rx="0"/>
<rect x="295.39" y="475.19" width="10.19" height="9.78" fill="#fbf8da" stroke="none" stroke-width="0" rx="0"/>
<rect x="306.48" y="475.19" width="10.19" height="9.78" fill="#eaedbe" stroke="none" stroke-width="0" rx="0"/>
<rect x="317.57" y="475.19" width="10.19" height="9.78" fill="#2484c1" stroke="none" stroke-width="0" rx="0"/>
<rect x="328.66" y="475.19" width="10.19" height="9.78" fill="#17236b" stroke="none" stroke-width="0" rx="0"/>
<rect x="339.75" y="475.19" width="10.19" height="9.78" fill="#17236b" stroke="none" stroke-width="0" rx="0"/>
<rect x="350.84" y="475.19" width="10.19" height="9.78" fill="#2654a7" stroke="none" stroke-width="0" rx="0"/>
<rect x="361.93" y="475.19" width="10.19" height="9.78" fill="#eaedbe" stroke="none" stroke-width="0" rx="0"/>
<rect x="373.02" y="475.19" width="10.19" height="9.78" fill="#eaedbe" stroke="none" stroke-width="0" rx="0"/>
<rect x="117.95" y="485.87" width="10.19" height="9.78" fill="#17236b" stroke="none" stroke-width="0" rx="0"/>
<rect x="129.04" y="485.87" width="10.19" height="9.78" fill="#69c3c1" stroke="none" stroke-width="0" rx="0"/>
<rect x="140.13" y="485.87" width="10.19" height="9.78" fill="#f2f2cc" stroke="none" stroke-width="0" rx="0"/>
<rect x="151.22" y="485.87" width="10.19" height="9.78" fill="#35a8cf" stroke="none" stroke-width="0" rx="0"/>
<rect x="162.31" y="485.87" width="10.19" height="9.78" fill="#35a8cf" stroke="none" stroke-width="0" rx="0"/>
<rect x="173.40" y="485.87" width="10.19" height="9.78" fill="#69c3c1" stroke="none" stroke-width="0" rx="0"/>
<rect x="184.49" y="485.87" width="10.19" height="9.78" fill="#35a8cf" stroke="none" stroke-width="0" rx="0"/>
<rect x="195.58" y="485.87" width="10.19" height="9.78" fill="#a6d9bb" stroke="none" stroke-width="0" rx="0"/>
<rect x="206.67" y="485.87" width="10.19" height="9.78" fill="#eaedbe" stroke="none" stroke-width="0" rx="0"/>
<rect x="217.76" y="485.87" width="10.19" height="9.78" fill="#f2f2cc" stroke="none" stroke-width="0" rx="0"/>
<rect x="228.85" y="485.87" width="10.19" height="9.78" fill="#fbf8da" stroke="none" stroke-width="0" rx="0"/>
<rect x="239.94" y="485.87" width="10.19" height="9.78" fill="#17236b" stroke="none" stroke-width="0" rx="0"/>
<rect x="251.03" y="485.87" width="10.19" height="9.78" fill="#17236b" stroke="none" stroke-width="0" rx="0"/>
<rect x="262.12" y="485.87" width="10.19" height="9.78" fill="#eaedbe" stroke="none" stroke-width="0" rx="0"/>
<rect x="273.21" y="485.87" width="10.19" height="9.78" fill="#69c3c1" stroke="none" stroke-width="0" rx="0"/>
<rect x="284.30" y="485.87" width="10.19" height="9.78" fill="#35a8cf" stroke="none" stroke-width="0" rx="0"/>
<rect x="295.39" y="485.87" width="10.19" height="9.78" fill="#eaedbe" stroke="none" stroke-width="0" rx="0"/>
<rect x="306.48" y="485.87" width="10.19" height="9.78" fill="#eaedbe" stroke="none" stroke-width="0" rx="0"/>
<rect x="317.57" y="485.87" width="10.19" height="9.78" fill="#35a8cf" stroke="none" stroke-width="0" rx="0"/>
<rect x="328.66" y="485.87" width="10.19" height="9.78" fill="#a6d9bb" stroke="none" stroke-width="0" rx="0"/>
<rect x="339.75" y="485.87" width="10.19" height="9.78" fill="#88cebe" stroke="none" stroke-width="0" rx="0"/>
<rect x="350.84" y="485.87" width="10.19" height="9.78" fill="#69c3c1" stroke="none" stroke-width="0" rx="0"/>
<rect x="361.93" y="485.87" width="10.19" height="9.78" fill="#d5e8b7" stroke="none" stroke-width="0" rx="0"/>
<rect x="373.02" y="485.87" width="10.19" height="9.78" fill="#eaedbe" stroke="none" stroke-width="0" rx="0"/>
<rect x="117.95" y="496.55" width="10.19" height="9.78" fill="#17236b" stroke="none" stroke-width="0" rx="0"/>
<rect x="129.04" y="496.55" width="10.19" height="9.78" fill="#2654a7" stroke="none" stroke-width="0" rx="0"/>
<rect x="140.13" y="496.55" width="10.19" height="9.78" fill="#2484c1" stroke="none" stroke-width="0" rx="0"/>
<rect x="151.22" y="496.55" width="10.19" height="9.78" fill="#eaedbe" stroke="none" stroke-width="0" rx="0"/>
<rect x="162.31" y="496.55" width="10.19" height="9.78" fill="#eaedbe" stroke="none" stroke-width="0" rx="0"/>
<rect x="173.40" y="496.55" width="10.19" height="9.78" fill="#eaedbe" stroke="none" stroke-width="0" rx="0"/>
<rect x="184.49" y="496.55" width="10.19" height="9.78" fill="#fbf8da" stroke="none" stroke-width="0" rx="0"/>
<rect x="195.58" y="496.55" width="10.19" height="9.78" fill="#fbf8da" stroke="none" stroke-width="0" rx="0"/>
<rect x="206.67" y="496.55" width="10.19" height="9.78" fill="#69c3c1" stroke="none" stroke-width="0" rx="0"/>
<rect x="217.76" y="496.55" width="10.19" height="9.78" fill="#2484c1" stroke="none" stroke-width="0" rx="0"/>
<rect x="228.85" y="496.55" width="10.19" height="9.78" fill="#2c96c8" stroke="none" stroke-width="0" rx="0"/>
<rect x="239.94" y="496.55" width="10.19" height="9.78" fill="#69c3c1" stroke="none" stroke-width="0" rx="0"/>
<rect x="251.03" y="496.55" width="10.19" height="9.78" fill="#69c3c1" stroke="none" stroke-width="0" rx="0"/>
<rect x="262.12" y="496.55" width="10.19" height="9.78" fill="#fbf8da" stroke="none" stroke-width="0" rx="0"/>
<rect x="273.21" y="496.55" width="10.19" height="9.78" fill="#fbf8da" stroke="none" stroke-width="0" rx="0"/>
<rect x="284.30" y="496.55" width="10.19" height="9.78" fill="#fbf8da" stroke="none" stroke-width="0" rx="0"/>
<rect x="295.39" y="496.55" width="10.19" height="9.78" fill="#fbf8da" stroke="none" stroke-width="0" rx="0"/>
<rect x="306.48" y="496.55" width="10.19" height="9.78" fill="#fbf8da" stroke="none" stroke-width="0" rx="0"/>
<rect x="317.57" y="496.55" width="10.19" height="9.78" fill="#a6d9bb" stroke="none" stroke-width="0" rx="0"/>
<rect x="328.66" y="496.55" width="10.19" height="9.78" fill="#eaedbe" stroke="none" stroke-width="0" rx="0"/>
<rect x="339.75" y="496.55" width="10.19" height="9.78" fill="#fbf8da" stroke="none" stroke-width="0" rx="0"/>
<rect x="350.84" y="496.55" width="10.19" height="9.78" fill="#a6d9bb" stroke="none" stroke-width="0" rx="0"/>
<rect x="361.93" y="496.55" width="10.19" height="9.78" fill="#69c3c1" stroke="none" stroke-width="0" rx="0"/>
<rect x="373.02" y="496.55" width="10.19" height="9.78" fill="#4fb6c8" stroke="none" stroke-width="0" rx="0"/>
<rect x="117.95" y="507.23" width="10.19" height="9.78" fill="#d5e8b7" stroke="none" stroke-width="0" rx="0"/>
<rect x="129.04" y="507.23" width="10.19" height="9.78" fill="#eaedbe" stroke="none" stroke-width="0" rx="0"/>
<rect x="140.13" y="507.23" width="10.19" height="9.78" fill="#d5e8b7" stroke="none" stroke-width="0" rx="0"/>
<rect x="151.22" y="507.23" width="10.19" height="9.78" fill="#69c3c1" stroke="none" stroke-width="0" rx="0"/>
<rect x="162.31" y="507.23" width="10.19" height="9.78" fill="#35a8cf" stroke="none" stroke-width="0" rx="0"/>
<rect x="173.40" y="507.23" width="10.19" height="9.78" fill="#69c3c1" stroke="none" stroke-width="0" rx="0"/>
<rect x="184.49" y="507.23" width="10.19" height="9.78" fill="#35a8cf" stroke="none" stroke-width="0" rx="0"/>
<rect x="195.58" y="507.23" width="10.19" height="9.78" fill="#eaedbe" stroke="none" stroke-width="0" rx="0"/>
<rect x="206.67" y="507.23" width="10.19" height="9.78" fill="#17236b" stroke="none" stroke-width="0" rx="0"/>
<rect x="217.76" y="507.23" width="10.19" height="9.78" fill="#69c3c1" stroke="none" stroke-width="0" rx="0"/>
<rect x="228.85" y="507.23" width="10.19" height="9.78" fill="#69c3c1" stroke="none" stroke-width="0" rx="0"/>
<rect x="239.94" y="507.23" width="10.19" height="9.78" fill="#e0eaba" stroke="none" stroke-width="0" rx="0"/>
<rect x="251.03" y="507.23" width="10.19" height="9.78" fill="#fbf8da" stroke="none" stroke-width="0" rx="0"/>
<rect x="262.12" y="507.23" width="10.19" height="9.78" fill="#eaedbe" stroke="none" stroke-width="0" rx="0"/>
<rect x="273.21" y="507.23" width="10.19" height="9.78" fill="#eaedbe" stroke="none" stroke-width="0" rx="0"/>
<rect x="284.30" y="507.23" width="10.19" height="9.78" fill="#eaedbe" stroke="none" stroke-width="0" rx="0"/>
<rect x="295.39" y="507.23" width="10.19" height="9.78" fill="#eaedbe" stroke="none" stroke-width="0" rx="0"/>
<rect x="306.48" y="507.23" width="10.19" height="9.78" fill="#eaedbe" stroke="none" stroke-width="0" rx="0"/>
<rect x="317.57" y="507.23" width="10.19" height="9.78" fill="#eaedbe" stroke="none" stroke-width="0" rx="0"/>
<rect x="328.66" y="507.23" width="10.19" height="9.78" fill="#eaedbe" stroke="none" stroke-width="0" rx="0"/>
<rect x="339.75" y="507.23" width="10.19" height="9.78" fill="#eaedbe" stroke="none" stroke-width="0" rx="0"/>
<rect x="350.84" y="507.23" width="10.19" height="9.78" fill="#eaedbe" stroke="none" stroke-width="0" rx="0"/>
<rect x="361.93" y="507.23" width="10.19" height="9.78" fill="#eaedbe" stroke="none" stroke-width="0" rx="0"/>
<rect x="373.02" y="507.23" width="10.19" height="9.78" fill="#eaedbe" stroke="none" stroke-width="0" rx="0"/>
<line x1="113.60" y1="394.64" x2="117.50" y2="394.64" stroke="#1a1a1a" stroke-width="0.95" />
<text x="111.20" y="396.64" font-size="6.42" text-anchor="end" fill="#2a2a2a" stroke="#2a2a2a" stroke-width="0.13" transform="translate(111.20 396.64) scale(0.9346 1) translate(-111.20 -396.64)" >0 - CD4<tspan font-size="3.85" dy="-2.14">+</tspan><tspan dy="2.14"> Naive Th1</tspan></text>
<line x1="113.60" y1="405.32" x2="117.50" y2="405.32" stroke="#1a1a1a" stroke-width="0.95" />
<text x="111.20" y="407.32" font-size="6.42" text-anchor="end" fill="#2a2a2a" stroke="#2a2a2a" stroke-width="0.13" transform="translate(111.20 407.32) scale(0.9346 1) translate(-111.20 -407.32)" >1 - CD4<tspan font-size="3.85" dy="-2.14">+</tspan><tspan dy="2.14"> Effector memory Th2</tspan></text>
<line x1="113.60" y1="416.00" x2="117.50" y2="416.00" stroke="#1a1a1a" stroke-width="0.95" />
<text x="111.20" y="418.00" font-size="6.42" text-anchor="end" fill="#2a2a2a" stroke="#2a2a2a" stroke-width="0.13" transform="translate(111.20 418.00) scale(0.9346 1) translate(-111.20 -418.00)" >9 - CD4<tspan font-size="3.85" dy="-2.14">+</tspan><tspan dy="2.14"> Effector memory Tfh</tspan></text>
<line x1="113.60" y1="426.68" x2="117.50" y2="426.68" stroke="#1a1a1a" stroke-width="0.95" />
<text x="111.20" y="428.68" font-size="6.42" text-anchor="end" fill="#2a2a2a" stroke="#2a2a2a" stroke-width="0.13" transform="translate(111.20 428.68) scale(0.9346 1) translate(-111.20 -428.68)" >15 - Treg</text>
<line x1="113.60" y1="437.36" x2="117.50" y2="437.36" stroke="#1a1a1a" stroke-width="0.95" />
<text x="111.20" y="436.16" font-size="6.42" text-anchor="end" fill="#2a2a2a" stroke="#2a2a2a" stroke-width="0.13" transform="translate(111.20 436.16) scale(0.9346 1) translate(-111.20 -436.16)" >5 - CD4<tspan font-size="3.85" dy="-2.14">+</tspan><tspan dy="2.14"> Effector memory</tspan></text>
<text x="111.20" y="442.56" font-size="6.42" text-anchor="end" fill="#2a2a2a" stroke="#2a2a2a" stroke-width="0.13" transform="translate(111.20 442.56) scale(0.9346 1) translate(-111.20 -442.56)" >CD73<tspan font-size="3.85" dy="-2.14">+</tspan><tspan dy="2.14">CD28</tspan><tspan font-size="3.85" dy="-2.14">+</tspan><tspan dy="2.14">KLRG1</tspan><tspan font-size="3.85" dy="-2.14">+</tspan></text>
<line x1="113.60" y1="448.04" x2="117.50" y2="448.04" stroke="#1a1a1a" stroke-width="0.95" />
<text x="111.20" y="450.04" font-size="6.42" text-anchor="end" fill="#2a2a2a" stroke="#2a2a2a" stroke-width="0.13" transform="translate(111.20 450.04) scale(0.9346 1) translate(-111.20 -450.04)" >3 - CD8<tspan font-size="3.85" dy="-2.14">+</tspan><tspan dy="2.14"> Naive CD73</tspan><tspan font-size="3.85" dy="-2.14">+</tspan></text>
<line x1="113.60" y1="458.72" x2="117.50" y2="458.72" stroke="#1a1a1a" stroke-width="0.95" />
<text x="111.20" y="460.72" font-size="6.42" text-anchor="end" fill="#2a2a2a" stroke="#2a2a2a" stroke-width="0.13" transform="translate(111.20 460.72) scale(0.9346 1) translate(-111.20 -460.72)" >19 - CD8+ Naive CD73<tspan font-size="3.85" dy="-2.14">−</tspan></text>
<line x1="113.60" y1="469.40" x2="117.50" y2="469.40" stroke="#1a1a1a" stroke-width="0.95" />
<text x="111.20" y="471.40" font-size="6.42" text-anchor="end" fill="#2a2a2a" stroke="#2a2a2a" stroke-width="0.13" transform="translate(111.20 471.40) scale(0.9346 1) translate(-111.20 -471.40)" >7 - CD8+ EMRA</text>
<line x1="113.60" y1="480.08" x2="117.50" y2="480.08" stroke="#1a1a1a" stroke-width="0.95" />
<text x="111.20" y="482.08" font-size="6.42" text-anchor="end" fill="#2a2a2a" stroke="#2a2a2a" stroke-width="0.13" transform="translate(111.20 482.08) scale(0.9346 1) translate(-111.20 -482.08)" >17 - CD8+ MAIT</text>
<line x1="113.60" y1="490.76" x2="117.50" y2="490.76" stroke="#1a1a1a" stroke-width="0.95" />
<text x="111.20" y="489.56" font-size="6.42" text-anchor="end" fill="#2a2a2a" stroke="#2a2a2a" stroke-width="0.13" transform="translate(111.20 489.56) scale(0.9346 1) translate(-111.20 -489.56)" >8 - DN effector memory</text>
<text x="111.20" y="495.96" font-size="6.42" text-anchor="end" fill="#2a2a2a" stroke="#2a2a2a" stroke-width="0.13" transform="translate(111.20 495.96) scale(0.9346 1) translate(-111.20 -495.96)" >CD73<tspan font-size="3.85" dy="-2.14">+</tspan><tspan dy="2.14">CD38</tspan><tspan font-size="3.85" dy="-2.14">+</tspan><tspan dy="2.14">KLRG1</tspan><tspan font-size="3.85" dy="-2.14">+</tspan><tspan dy="2.14">PD1</tspan><tspan font-size="3.85" dy="-2.14">+</tspan></text>
<line x1="113.60" y1="501.44" x2="117.50" y2="501.44" stroke="#1a1a1a" stroke-width="0.95" />
<text x="111.20" y="503.44" font-size="6.42" text-anchor="end" fill="#2a2a2a" stroke="#2a2a2a" stroke-width="0.13" transform="translate(111.20 503.44) scale(0.9346 1) translate(-111.20 -503.44)" >12 - DP Naive CXCR3<tspan font-size="3.85" dy="-2.14">+</tspan><tspan dy="2.14">KLRG1</tspan><tspan font-size="3.85" dy="-2.14">+</tspan></text>
<line x1="113.60" y1="512.12" x2="117.50" y2="512.12" stroke="#1a1a1a" stroke-width="0.95" />
<text x="111.20" y="510.92" font-size="6.42" text-anchor="end" fill="#2a2a2a" stroke="#2a2a2a" stroke-width="0.13" transform="translate(111.20 510.92) scale(0.9346 1) translate(-111.20 -510.92)" >25 - DP central memory</text>
<text x="111.20" y="517.32" font-size="6.42" text-anchor="end" fill="#2a2a2a" stroke="#2a2a2a" stroke-width="0.13" transform="translate(111.20 517.32) scale(0.9346 1) translate(-111.20 -517.32)" >CXCR3<tspan font-size="3.85" dy="-2.14">−</tspan><tspan dy="2.14">KLRG1</tspan><tspan font-size="3.85" dy="-2.14">+</tspan></text>
<text x="125.05" y="520.30" font-size="5.89" text-anchor="end" fill="#2a2a2a" stroke="#2a2a2a" stroke-width="0.13" transform="rotate(-90 125.05 520.30) translate(125.05 520.30) scale(0.9346 1) translate(-125.05 -520.30)" >CD25</text>
<text x="136.13" y="520.30" font-size="5.89" text-anchor="end" fill="#2a2a2a" stroke="#2a2a2a" stroke-width="0.13" transform="rotate(-90 136.13 520.30) translate(136.13 520.30) scale(0.9346 1) translate(-136.13 -520.30)" >CXCR3</text>
<text x="147.22" y="520.30" font-size="5.89" text-anchor="end" fill="#2a2a2a" stroke="#2a2a2a" stroke-width="0.13" transform="rotate(-90 147.22 520.30) translate(147.22 520.30) scale(0.9346 1) translate(-147.22 -520.30)" >CD4</text>
<text x="158.31" y="520.30" font-size="5.89" text-anchor="end" fill="#2a2a2a" stroke="#2a2a2a" stroke-width="0.13" transform="rotate(-90 158.31 520.30) translate(158.31 520.30) scale(0.9346 1) translate(-158.31 -520.30)" >CD73</text>
<text x="169.41" y="520.30" font-size="5.89" text-anchor="end" fill="#2a2a2a" stroke="#2a2a2a" stroke-width="0.13" transform="rotate(-90 169.41 520.30) translate(169.41 520.30) scale(0.9346 1) translate(-169.41 -520.30)" >CD127</text>
<text x="180.50" y="520.30" font-size="5.89" text-anchor="end" fill="#2a2a2a" stroke="#2a2a2a" stroke-width="0.13" transform="rotate(-90 180.50 520.30) translate(180.50 520.30) scale(0.9346 1) translate(-180.50 -520.30)" >CCR7</text>
<text x="191.58" y="520.30" font-size="5.89" text-anchor="end" fill="#2a2a2a" stroke="#2a2a2a" stroke-width="0.13" transform="rotate(-90 191.58 520.30) translate(191.58 520.30) scale(0.9346 1) translate(-191.58 -520.30)" >KLRG1</text>
<text x="202.68" y="520.30" font-size="5.89" text-anchor="end" fill="#2a2a2a" stroke="#2a2a2a" stroke-width="0.13" transform="rotate(-90 202.68 520.30) translate(202.68 520.30) scale(0.9346 1) translate(-202.68 -520.30)" >CD28</text>
<text x="213.76" y="520.30" font-size="5.89" text-anchor="end" fill="#2a2a2a" stroke="#2a2a2a" stroke-width="0.13" transform="rotate(-90 213.76 520.30) translate(213.76 520.30) scale(0.9346 1) translate(-213.76 -520.30)" >CD27</text>
<text x="224.86" y="520.30" font-size="5.89" text-anchor="end" fill="#2a2a2a" stroke="#2a2a2a" stroke-width="0.13" transform="rotate(-90 224.86 520.30) translate(224.86 520.30) scale(0.9346 1) translate(-224.86 -520.30)" >CD45RA</text>
<text x="235.94" y="520.30" font-size="5.89" text-anchor="end" fill="#2a2a2a" stroke="#2a2a2a" stroke-width="0.13" transform="rotate(-90 235.94 520.30) translate(235.94 520.30) scale(0.9346 1) translate(-235.94 -520.30)" >CD8</text>
<text x="247.03" y="520.30" font-size="5.89" text-anchor="end" fill="#2a2a2a" stroke="#2a2a2a" stroke-width="0.13" transform="rotate(-90 247.03 520.30) translate(247.03 520.30) scale(0.9346 1) translate(-247.03 -520.30)" >CD38</text>
<text x="258.12" y="520.30" font-size="5.89" text-anchor="end" fill="#2a2a2a" stroke="#2a2a2a" stroke-width="0.13" transform="rotate(-90 258.12 520.30) translate(258.12 520.30) scale(0.9346 1) translate(-258.12 -520.30)" >CD3</text>
<text x="269.22" y="520.30" font-size="5.89" text-anchor="end" fill="#2a2a2a" stroke="#2a2a2a" stroke-width="0.13" transform="rotate(-90 269.22 520.30) translate(269.22 520.30) scale(0.9346 1) translate(-269.22 -520.30)" >TCRVa72</text>
<text x="280.31" y="520.30" font-size="5.89" text-anchor="end" fill="#2a2a2a" stroke="#2a2a2a" stroke-width="0.13" transform="rotate(-90 280.31 520.30) translate(280.31 520.30) scale(0.9346 1) translate(-280.31 -520.30)" >CD161</text>
<text x="291.39" y="520.30" font-size="5.89" text-anchor="end" fill="#2a2a2a" stroke="#2a2a2a" stroke-width="0.13" transform="rotate(-90 291.39 520.30) translate(291.39 520.30) scale(0.9346 1) translate(-291.39 -520.30)" >HLA-DR</text>
<text x="302.49" y="520.30" font-size="5.89" text-anchor="end" fill="#2a2a2a" stroke="#2a2a2a" stroke-width="0.13" transform="rotate(-90 302.49 520.30) translate(302.49 520.30) scale(0.9346 1) translate(-302.49 -520.30)" >CD39</text>
<text x="313.57" y="520.30" font-size="5.89" text-anchor="end" fill="#2a2a2a" stroke="#2a2a2a" stroke-width="0.13" transform="rotate(-90 313.57 520.30) translate(313.57 520.30) scale(0.9346 1) translate(-313.57 -520.30)" >CXCR5</text>
<text x="324.66" y="520.30" font-size="5.89" text-anchor="end" fill="#2a2a2a" stroke="#2a2a2a" stroke-width="0.13" transform="rotate(-90 324.66 520.30) translate(324.66 520.30) scale(0.9346 1) translate(-324.66 -520.30)" >CD95</text>
<text x="335.75" y="520.30" font-size="5.89" text-anchor="end" fill="#2a2a2a" stroke="#2a2a2a" stroke-width="0.13" transform="rotate(-90 335.75 520.30) translate(335.75 520.30) scale(0.9346 1) translate(-335.75 -520.30)" >CTLA4</text>
<text x="346.85" y="520.30" font-size="5.89" text-anchor="end" fill="#2a2a2a" stroke="#2a2a2a" stroke-width="0.13" transform="rotate(-90 346.85 520.30) translate(346.85 520.30) scale(0.9346 1) translate(-346.85 -520.30)" >CCR6</text>
<text x="357.94" y="520.30" font-size="5.89" text-anchor="end" fill="#2a2a2a" stroke="#2a2a2a" stroke-width="0.13" transform="rotate(-90 357.94 520.30) translate(357.94 520.30) scale(0.9346 1) translate(-357.94 -520.30)" >PD1</text>
<text x="369.02" y="520.30" font-size="5.89" text-anchor="end" fill="#2a2a2a" stroke="#2a2a2a" stroke-width="0.13" transform="rotate(-90 369.02 520.30) translate(369.02 520.30) scale(0.9346 1) translate(-369.02 -520.30)" >CCR4</text>
<text x="380.12" y="520.30" font-size="5.89" text-anchor="end" fill="#2a2a2a" stroke="#2a2a2a" stroke-width="0.13" transform="rotate(-90 380.12 520.30) translate(380.12 520.30) scale(0.9346 1) translate(-380.12 -520.30)" >ICOS</text>
<path d="M20.3,394.5 L17.6,394.5 L17.6,437.3 L20.3,437.3" fill="none" stroke="#222" stroke-width="0.8" />
<path d="M20.3,448.2 L17.6,448.2 L17.6,480.2 L20.3,480.2" fill="none" stroke="#222" stroke-width="0.8" />
<text x="12.30" y="416.80" font-size="6.21" text-anchor="middle" fill="#2a2a2a" stroke="#2a2a2a" stroke-width="0.13" transform="rotate(-90 12.30 416.80) translate(12.30 416.80) scale(0.9346 1) translate(-12.30 -416.80)" >CD4<tspan font-size="3.85" dy="-2.14">+</tspan></text>
<text x="12.30" y="466.20" font-size="6.21" text-anchor="middle" fill="#2a2a2a" stroke="#2a2a2a" stroke-width="0.13" transform="rotate(-90 12.30 466.20) translate(12.30 466.20) scale(0.9346 1) translate(-12.30 -466.20)" >CD8<tspan font-size="3.85" dy="-2.14">+</tspan></text>
<text x="68.60" y="527.40" font-size="5.99" text-anchor="end" fill="#2a2a2a" stroke="#2a2a2a" stroke-width="0.13" textLength="37.30" lengthAdjust="spacingAndGlyphs" >average scaled</text>
<text x="68.60" y="534.20" font-size="5.99" text-anchor="end" fill="#2a2a2a" stroke="#2a2a2a" stroke-width="0.13" textLength="27.30" lengthAdjust="spacingAndGlyphs" >expression</text>
<defs><linearGradient id="ygb" x1="0" x2="1" y1="0" y2="0"><stop offset="0.000" stop-color="#fbf8da"/><stop offset="0.125" stop-color="#eaedbe"/><stop offset="0.250" stop-color="#d5e8b7"/><stop offset="0.375" stop-color="#a6d9bb"/><stop offset="0.500" stop-color="#69c3c1"/><stop offset="0.625" stop-color="#35a8cf"/><stop offset="0.750" stop-color="#2484c1"/><stop offset="0.875" stop-color="#2654a7"/><stop offset="1.000" stop-color="#17236b"/></linearGradient></defs>
<rect x="71.50" y="525.10" width="32.60" height="6.10" fill="url(#ygb)" stroke="#222" stroke-width="0.6" rx="0"/>
<text x="70.60" y="538.00" font-size="5.56" text-anchor="middle" fill="#2a2a2a" stroke="#2a2a2a" stroke-width="0.13" transform="translate(70.60 538.00) scale(0.9346 1) translate(-70.60 -538.00)" >0</text>
<text x="103.40" y="538.00" font-size="5.56" text-anchor="middle" fill="#2a2a2a" stroke="#2a2a2a" stroke-width="0.13" transform="translate(103.40 538.00) scale(0.9346 1) translate(-103.40 -538.00)" >1</text>
<path d="M123.05,389.10 L123.05,387.60 L134.13,387.60 L134.13,389.10" fill="none" stroke="#111" stroke-width="0.7" />
<path d="M156.31,389.10 L156.31,386.60 L167.41,386.60 L167.41,389.10" fill="none" stroke="#111" stroke-width="0.7" />
<path d="M178.50,389.10 L178.50,387.80 L189.58,387.80 L189.58,389.10" fill="none" stroke="#111" stroke-width="0.7" />
<path d="M200.68,389.10 L200.68,386.00 L211.76,386.00 L211.76,389.10" fill="none" stroke="#111" stroke-width="0.7" />
<path d="M222.86,389.10 L222.86,386.40 L233.94,386.40 L233.94,389.10" fill="none" stroke="#111" stroke-width="0.7" />
<path d="M256.12,389.10 L256.12,387.30 L267.22,387.30 L267.22,389.10" fill="none" stroke="#111" stroke-width="0.7" />
<path d="M278.31,389.10 L278.31,387.50 L289.39,387.50 L289.39,389.10" fill="none" stroke="#111" stroke-width="0.7" />
<path d="M300.49,389.10 L300.49,387.00 L311.57,387.00 L311.57,389.10" fill="none" stroke="#111" stroke-width="0.7" />
<path d="M322.66,389.10 L322.66,386.50 L333.75,386.50 L333.75,389.10" fill="none" stroke="#111" stroke-width="0.7" />
<path d="M344.85,389.10 L344.85,386.80 L355.94,386.80 L355.94,389.10" fill="none" stroke="#111" stroke-width="0.7" />
<path d="M367.02,389.10 L367.02,386.90 L378.12,386.90 L378.12,389.10" fill="none" stroke="#111" stroke-width="0.7" />
<path d="M128.59,387.60 L128.59,385.60 L145.22,385.60 L145.22,389.10" fill="none" stroke="#111" stroke-width="0.7" />
<path d="M161.86,386.60 L161.86,385.00 L184.04,385.00 L184.04,387.80" fill="none" stroke="#111" stroke-width="0.7" />
<path d="M206.22,386.00 L206.22,384.80 L228.40,384.80 L228.40,386.40" fill="none" stroke="#111" stroke-width="0.7" />
<path d="M261.67,387.30 L261.67,385.80 L283.85,385.80 L283.85,387.50" fill="none" stroke="#111" stroke-width="0.7" />
<path d="M306.03,387.00 L306.03,385.30 L328.21,385.30 L328.21,386.50" fill="none" stroke="#111" stroke-width="0.7" />
<path d="M350.39,386.80 L350.39,385.50 L372.57,385.50 L372.57,386.90" fill="none" stroke="#111" stroke-width="0.7" />
<path d="M136.91,385.60 L136.91,384.20 L172.95,384.20 L172.95,385.00" fill="none" stroke="#111" stroke-width="0.7" />
<path d="M217.31,384.80 L217.31,384.00 L245.03,384.00 L245.03,389.10" fill="none" stroke="#111" stroke-width="0.7" />
<path d="M317.12,385.30 L317.12,384.30 L361.48,384.30 L361.48,385.50" fill="none" stroke="#111" stroke-width="0.7" />
<path d="M272.76,385.80 L272.76,383.60 L339.30,383.60 L339.30,384.30" fill="none" stroke="#111" stroke-width="0.7" />
<path d="M154.93,384.20 L154.93,383.20 L231.17,383.20 L231.17,384.00" fill="none" stroke="#111" stroke-width="0.7" />
<path d="M193.05,383.20 L193.05,382.50 L306.03,382.50 L306.03,383.60" fill="none" stroke="#111" stroke-width="0.7" />
<text x="431.10" y="379.00" font-size="5.99" text-anchor="middle" fill="#2a2a2a" stroke="#2a2a2a" stroke-width="0.13" textLength="19.40" lengthAdjust="spacingAndGlyphs" >Percent</text>
<text x="431.70" y="385.90" font-size="5.99" text-anchor="middle" fill="#2a2a2a" stroke="#2a2a2a" stroke-width="0.13" textLength="38.90" lengthAdjust="spacingAndGlyphs" >cells in clusters</text>
<rect x="460.30" y="391.34" width="16.90" height="2.30" fill="#ab96d3" stroke="none" stroke-width="0" rx="0"/>
<rect x="453.80" y="395.14" width="26.00" height="2.60" fill="#43165e" stroke="none" stroke-width="0" rx="0"/>
<rect x="465.10" y="391.34" width="1.80" height="2.30" fill="#3a2a50" stroke="none" stroke-width="0" rx="0"/>
<rect x="465.90" y="395.14" width="1.80" height="2.60" fill="#1a0a24" stroke="none" stroke-width="0" rx="0"/>
<text x="489.90" y="395.24" font-size="6.31" text-anchor="start" fill="#2a2a2a" stroke="#2a2a2a" stroke-width="0.13" textLength="21.20" lengthAdjust="spacingAndGlyphs" ><tspan font-style="italic">P</tspan> = 0.61</text>
<rect x="447.30" y="402.02" width="13.50" height="2.30" fill="#ab96d3" stroke="none" stroke-width="0" rx="0"/>
<rect x="443.40" y="405.82" width="17.40" height="2.60" fill="#43165e" stroke="none" stroke-width="0" rx="0"/>
<rect x="452.90" y="402.02" width="1.80" height="2.30" fill="#3a2a50" stroke="none" stroke-width="0" rx="0"/>
<rect x="452.90" y="405.82" width="1.80" height="2.60" fill="#1a0a24" stroke="none" stroke-width="0" rx="0"/>
<text x="489.90" y="405.92" font-size="6.31" text-anchor="start" fill="#2a2a2a" stroke="#2a2a2a" stroke-width="0.13" textLength="21.20" lengthAdjust="spacingAndGlyphs" ><tspan font-style="italic">P</tspan> = 0.19</text>
<rect x="416.20" y="412.70" width="6.50" height="2.30" fill="#ab96d3" stroke="none" stroke-width="0" rx="0"/>
<rect x="418.00" y="416.50" width="2.60" height="2.60" fill="#43165e" stroke="none" stroke-width="0" rx="0"/>
<rect x="418.40" y="412.70" width="1.80" height="2.30" fill="#3a2a50" stroke="none" stroke-width="0" rx="0"/>
<rect x="418.40" y="416.50" width="1.80" height="2.60" fill="#1a0a24" stroke="none" stroke-width="0" rx="0"/>
<text x="489.90" y="416.60" font-size="6.31" text-anchor="start" fill="#2a2a2a" stroke="#2a2a2a" stroke-width="0.13" textLength="21.20" lengthAdjust="spacingAndGlyphs" ><tspan font-style="italic">P</tspan> = 0.48</text>
<rect x="398.00" y="423.38" width="21.50" height="2.30" fill="#ab96d3" stroke="none" stroke-width="0" rx="0"/>
<rect x="397.50" y="427.18" width="14.80" height="2.60" fill="#43165e" stroke="none" stroke-width="0" rx="0"/>
<rect x="410.90" y="423.38" width="1.80" height="2.30" fill="#3a2a50" stroke="none" stroke-width="0" rx="0"/>
<rect x="410.90" y="427.18" width="1.80" height="2.60" fill="#1a0a24" stroke="none" stroke-width="0" rx="0"/>
<text x="489.90" y="427.28" font-size="6.31" text-anchor="start" fill="#2a2a2a" stroke="#2a2a2a" stroke-width="0.13" textLength="21.20" lengthAdjust="spacingAndGlyphs" ><tspan font-style="italic">P</tspan> = 0.12</text>
<rect x="414.90" y="434.06" width="38.90" height="2.30" fill="#ab96d3" stroke="none" stroke-width="0" rx="0"/>
<rect x="412.30" y="437.86" width="55.80" height="2.60" fill="#43165e" stroke="none" stroke-width="0" rx="0"/>
<rect x="425.10" y="434.06" width="1.80" height="2.30" fill="#3a2a50" stroke="none" stroke-width="0" rx="0"/>
<rect x="425.10" y="437.86" width="1.80" height="2.60" fill="#1a0a24" stroke="none" stroke-width="0" rx="0"/>
<text x="489.90" y="437.96" font-size="6.31" text-anchor="start" fill="#2a2a2a" stroke="#2a2a2a" stroke-width="0.13" textLength="21.20" lengthAdjust="spacingAndGlyphs" ><tspan font-style="italic">P</tspan> = 0.31</text>
<rect x="438.20" y="444.74" width="19.00" height="2.30" fill="#ab96d3" stroke="none" stroke-width="0" rx="0"/>
<rect x="431.80" y="448.54" width="26.40" height="2.60" fill="#43165e" stroke="none" stroke-width="0" rx="0"/>
<rect x="445.10" y="444.74" width="1.80" height="2.30" fill="#3a2a50" stroke="none" stroke-width="0" rx="0"/>
<rect x="445.10" y="448.54" width="1.80" height="2.60" fill="#1a0a24" stroke="none" stroke-width="0" rx="0"/>
<text x="489.90" y="448.64" font-size="6.31" text-anchor="start" fill="#2a2a2a" stroke="#2a2a2a" stroke-width="0.13" textLength="21.20" lengthAdjust="spacingAndGlyphs" ><tspan font-style="italic">P</tspan> = 0.92</text>
<rect x="405.80" y="455.42" width="4.70" height="2.30" fill="#ab96d3" stroke="none" stroke-width="0" rx="0"/>
<rect x="405.80" y="459.22" width="5.20" height="2.60" fill="#43165e" stroke="none" stroke-width="0" rx="0"/>
<rect x="407.10" y="455.42" width="1.80" height="2.30" fill="#3a2a50" stroke="none" stroke-width="0" rx="0"/>
<rect x="407.10" y="459.22" width="1.80" height="2.60" fill="#1a0a24" stroke="none" stroke-width="0" rx="0"/>
<text x="489.90" y="459.32" font-size="6.31" text-anchor="start" fill="#2a2a2a" stroke="#2a2a2a" stroke-width="0.13" textLength="21.20" lengthAdjust="spacingAndGlyphs" ><tspan font-style="italic">P</tspan> = 0.54</text>
<rect x="430.50" y="466.10" width="23.30" height="2.30" fill="#ab96d3" stroke="none" stroke-width="0" rx="0"/>
<rect x="427.90" y="469.90" width="25.90" height="2.60" fill="#43165e" stroke="none" stroke-width="0" rx="0"/>
<rect x="432.10" y="466.10" width="1.80" height="2.30" fill="#3a2a50" stroke="none" stroke-width="0" rx="0"/>
<rect x="432.10" y="469.90" width="1.80" height="2.60" fill="#1a0a24" stroke="none" stroke-width="0" rx="0"/>
<text x="489.90" y="470.00" font-size="6.31" text-anchor="start" fill="#2a2a2a" stroke="#2a2a2a" stroke-width="0.13" textLength="21.20" lengthAdjust="spacingAndGlyphs" ><tspan font-style="italic">P</tspan> = 0.92</text>
<rect x="411.80" y="476.78" width="1.80" height="2.30" fill="#ab96d3" stroke="none" stroke-width="0" rx="0"/>
<rect x="409.20" y="480.58" width="7.00" height="2.60" fill="#43165e" stroke="none" stroke-width="0" rx="0"/>
<rect x="411.80" y="476.78" width="1.80" height="2.30" fill="#3a2a50" stroke="none" stroke-width="0" rx="0"/>
<rect x="411.80" y="480.58" width="1.80" height="2.60" fill="#1a0a24" stroke="none" stroke-width="0" rx="0"/>
<text x="489.90" y="480.68" font-size="6.31" text-anchor="start" fill="#2a2a2a" stroke="#2a2a2a" stroke-width="0.13" textLength="21.20" lengthAdjust="spacingAndGlyphs" ><tspan font-style="italic">P</tspan> = 0.84</text>
<rect x="411.80" y="487.46" width="31.60" height="2.30" fill="#ab96d3" stroke="none" stroke-width="0" rx="0"/>
<rect x="414.40" y="491.26" width="34.20" height="2.60" fill="#43165e" stroke="none" stroke-width="0" rx="0"/>
<rect x="417.90" y="487.46" width="1.80" height="2.30" fill="#3a2a50" stroke="none" stroke-width="0" rx="0"/>
<rect x="417.90" y="491.26" width="1.80" height="2.60" fill="#1a0a24" stroke="none" stroke-width="0" rx="0"/>
<text x="489.90" y="491.36" font-size="6.31" text-anchor="start" fill="#2a2a2a" stroke="#2a2a2a" stroke-width="0.13" textLength="21.20" lengthAdjust="spacingAndGlyphs" ><tspan font-style="italic">P</tspan> = 0.31</text>
<rect x="394.00" y="498.14" width="25.50" height="2.30" fill="#ab96d3" stroke="none" stroke-width="0" rx="0"/>
<rect x="403.20" y="501.94" width="14.30" height="2.60" fill="#43165e" stroke="none" stroke-width="0" rx="0"/>
<rect x="405.70" y="498.14" width="1.80" height="2.30" fill="#3a2a50" stroke="none" stroke-width="0" rx="0"/>
<rect x="405.70" y="501.94" width="1.80" height="2.60" fill="#1a0a24" stroke="none" stroke-width="0" rx="0"/>
<text x="489.90" y="502.04" font-size="6.31" text-anchor="start" fill="#2a2a2a" stroke="#2a2a2a" stroke-width="0.13" textLength="21.20" lengthAdjust="spacingAndGlyphs" ><tspan font-style="italic">P</tspan> = 0.48</text>
<rect x="392.80" y="508.82" width="2.60" height="2.30" fill="#ab96d3" stroke="none" stroke-width="0" rx="0"/>
<rect x="394.00" y="512.62" width="4.00" height="2.60" fill="#43165e" stroke="none" stroke-width="0" rx="0"/>
<rect x="393.20" y="508.82" width="1.80" height="2.30" fill="#3a2a50" stroke="none" stroke-width="0" rx="0"/>
<rect x="395.10" y="512.62" width="1.80" height="2.60" fill="#1a0a24" stroke="none" stroke-width="0" rx="0"/>
<text x="489.90" y="512.72" font-size="6.31" text-anchor="start" fill="#2a2a2a" stroke="#2a2a2a" stroke-width="0.13" textLength="21.20" lengthAdjust="spacingAndGlyphs" ><tspan font-style="italic">P</tspan> = 0.94</text>
<line x1="383.90" y1="389.00" x2="383.90" y2="518.30" stroke="#222" stroke-width="0.9" />
<line x1="383.50" y1="517.90" x2="486.30" y2="517.90" stroke="#222" stroke-width="0.9" />
<line x1="425.30" y1="518.00" x2="425.30" y2="520.20" stroke="#222" stroke-width="0.6" />
<text x="425.30" y="525.90" font-size="5.78" text-anchor="middle" fill="#2a2a2a" stroke="#2a2a2a" stroke-width="0.13" transform="translate(425.30 525.90) scale(0.9346 1) translate(-425.30 -525.90)" >5</text>
<line x1="450.70" y1="518.00" x2="450.70" y2="520.20" stroke="#222" stroke-width="0.6" />
<text x="450.70" y="525.90" font-size="5.78" text-anchor="middle" fill="#2a2a2a" stroke="#2a2a2a" stroke-width="0.13" transform="translate(450.70 525.90) scale(0.9346 1) translate(-450.70 -525.90)" >15</text>
<line x1="466.80" y1="518.00" x2="466.80" y2="520.20" stroke="#222" stroke-width="0.6" />
<text x="466.80" y="525.90" font-size="5.78" text-anchor="middle" fill="#2a2a2a" stroke="#2a2a2a" stroke-width="0.13" transform="translate(466.80 525.90) scale(0.9346 1) translate(-466.80 -525.90)" >25</text>
<line x1="480.60" y1="518.00" x2="480.60" y2="520.20" stroke="#222" stroke-width="0.6" />
<text x="480.60" y="525.90" font-size="5.78" text-anchor="middle" fill="#2a2a2a" stroke="#2a2a2a" stroke-width="0.13" transform="translate(480.60 525.90) scale(0.9346 1) translate(-480.60 -525.90)" >35</text>
<rect x="398.00" y="531.30" width="4.80" height="4.90" fill="#ab96d3" stroke="none" stroke-width="0" rx="0"/>
<text x="405.80" y="536.00" font-size="5.99" text-anchor="start" fill="#2a2a2a" stroke="#2a2a2a" stroke-width="0.13" textLength="13.00" lengthAdjust="spacingAndGlyphs" >CTRL</text>
<rect x="427.90" y="531.30" width="4.80" height="4.90" fill="#43165e" stroke="none" stroke-width="0" rx="0"/>
<text x="435.60" y="536.00" font-size="5.99" text-anchor="start" fill="#2a2a2a" stroke="#2a2a2a" stroke-width="0.13" transform="translate(435.60 536.00) scale(0.9346 1) translate(-435.60 -536.00)" >AZM 10 mg.L<tspan font-size="3.85" dy="-2.35">−1</tspan></text>
<text x="1.10" y="562.80" font-size="13.40" text-anchor="start" fill="#111" stroke="#111" stroke-width="0.45" font-weight="bold" >F</text>
<line x1="118.40" y1="563.00" x2="118.40" y2="691.20" stroke="#1a1a1a" stroke-width="1.1" />
<line x1="117.90" y1="690.70" x2="433.20" y2="690.70" stroke="#1a1a1a" stroke-width="1.1" />
<line x1="128.75" y1="690.70" x2="128.75" y2="693.40" stroke="#222" stroke-width="0.8" />
<text x="130.75" y="696.60" font-size="6.31" text-anchor="end" fill="#2a2a2a" stroke="#2a2a2a" stroke-width="0.13" transform="rotate(-45 130.75 696.60) translate(130.75 696.60) scale(0.9346 1) translate(-130.75 -696.60)" >IFNG</text>
<line x1="137.55" y1="690.70" x2="137.55" y2="693.40" stroke="#222" stroke-width="0.8" />
<text x="139.55" y="696.60" font-size="6.31" text-anchor="end" fill="#2a2a2a" stroke="#2a2a2a" stroke-width="0.13" transform="rotate(-45 139.55 696.60) translate(139.55 696.60) scale(0.9346 1) translate(-139.55 -696.60)" >MIF</text>
<line x1="146.35" y1="690.70" x2="146.35" y2="693.40" stroke="#222" stroke-width="0.8" />
<text x="148.35" y="696.60" font-size="6.31" text-anchor="end" fill="#2a2a2a" stroke="#2a2a2a" stroke-width="0.13" transform="rotate(-45 148.35 696.60) translate(148.35 696.60) scale(0.9346 1) translate(-148.35 -696.60)" >MT−ND5</text>
<line x1="155.15" y1="690.70" x2="155.15" y2="693.40" stroke="#222" stroke-width="0.8" />
<text x="157.15" y="696.60" font-size="6.31" text-anchor="end" fill="#2a2a2a" stroke="#2a2a2a" stroke-width="0.13" transform="rotate(-45 157.15 696.60) translate(157.15 696.60) scale(0.9346 1) translate(-157.15 -696.60)" >MT−ND4</text>
<line x1="163.95" y1="690.70" x2="163.95" y2="693.40" stroke="#222" stroke-width="0.8" />
<text x="165.95" y="696.60" font-size="6.31" text-anchor="end" fill="#2a2a2a" stroke="#2a2a2a" stroke-width="0.13" transform="rotate(-45 165.95 696.60) translate(165.95 696.60) scale(0.9346 1) translate(-165.95 -696.60)" >MT−ND4L</text>
<line x1="172.75" y1="690.70" x2="172.75" y2="693.40" stroke="#222" stroke-width="0.8" />
<text x="174.75" y="696.60" font-size="6.31" text-anchor="end" fill="#2a2a2a" stroke="#2a2a2a" stroke-width="0.13" transform="rotate(-45 174.75 696.60) translate(174.75 696.60) scale(0.9346 1) translate(-174.75 -696.60)" >PLCG2</text>
<line x1="181.55" y1="690.70" x2="181.55" y2="693.40" stroke="#222" stroke-width="0.8" />
<text x="183.55" y="696.60" font-size="6.31" text-anchor="end" fill="#2a2a2a" stroke="#2a2a2a" stroke-width="0.13" transform="rotate(-45 183.55 696.60) translate(183.55 696.60) scale(0.9346 1) translate(-183.55 -696.60)" >NME2</text>
<line x1="190.35" y1="690.70" x2="190.35" y2="693.40" stroke="#222" stroke-width="0.8" />
<text x="192.35" y="696.60" font-size="6.31" text-anchor="end" fill="#2a2a2a" stroke="#2a2a2a" stroke-width="0.13" transform="rotate(-45 192.35 696.60) translate(192.35 696.60) scale(0.9346 1) translate(-192.35 -696.60)" >NAMPT</text>
<line x1="199.15" y1="690.70" x2="199.15" y2="693.40" stroke="#222" stroke-width="0.8" />
<text x="201.15" y="696.60" font-size="6.31" text-anchor="end" fill="#2a2a2a" stroke="#2a2a2a" stroke-width="0.13" transform="rotate(-45 201.15 696.60) translate(201.15 696.60) scale(0.9346 1) translate(-201.15 -696.60)" >SELENOW</text>
<line x1="207.95" y1="690.70" x2="207.95" y2="693.40" stroke="#222" stroke-width="0.8" />
<text x="209.95" y="696.60" font-size="6.31" text-anchor="end" fill="#2a2a2a" stroke="#2a2a2a" stroke-width="0.13" transform="rotate(-45 209.95 696.60) translate(209.95 696.60) scale(0.9346 1) translate(-209.95 -696.60)" >DDIT4</text>
<line x1="216.75" y1="690.70" x2="216.75" y2="693.40" stroke="#222" stroke-width="0.8" />
<text x="218.75" y="696.60" font-size="6.31" text-anchor="end" fill="#2a2a2a" stroke="#2a2a2a" stroke-width="0.13" transform="rotate(-45 218.75 696.60) translate(218.75 696.60) scale(0.9346 1) translate(-218.75 -696.60)" >MT−ATP6</text>
<line x1="225.55" y1="690.70" x2="225.55" y2="693.40" stroke="#222" stroke-width="0.8" />
<text x="227.55" y="696.60" font-size="6.31" text-anchor="end" fill="#2a2a2a" stroke="#2a2a2a" stroke-width="0.13" transform="rotate(-45 227.55 696.60) translate(227.55 696.60) scale(0.9346 1) translate(-227.55 -696.60)" >MT−CO1</text>
<line x1="234.35" y1="690.70" x2="234.35" y2="693.40" stroke="#222" stroke-width="0.8" />
<text x="236.35" y="696.60" font-size="6.31" text-anchor="end" fill="#2a2a2a" stroke="#2a2a2a" stroke-width="0.13" transform="rotate(-45 236.35 696.60) translate(236.35 696.60) scale(0.9346 1) translate(-236.35 -696.60)" >ID2</text>
<line x1="243.15" y1="690.70" x2="243.15" y2="693.40" stroke="#222" stroke-width="0.8" />
<text x="245.15" y="696.60" font-size="6.31" text-anchor="end" fill="#2a2a2a" stroke="#2a2a2a" stroke-width="0.13" transform="rotate(-45 245.15 696.60) translate(245.15 696.60) scale(0.9346 1) translate(-245.15 -696.60)" >GATA3</text>
<line x1="251.95" y1="690.70" x2="251.95" y2="693.40" stroke="#222" stroke-width="0.8" />
<text x="253.95" y="696.60" font-size="6.31" text-anchor="end" fill="#2a2a2a" stroke="#2a2a2a" stroke-width="0.13" transform="rotate(-45 253.95 696.60) translate(253.95 696.60) scale(0.9346 1) translate(-253.95 -696.60)" >ATP6V0E1</text>
<line x1="260.75" y1="690.70" x2="260.75" y2="693.40" stroke="#222" stroke-width="0.8" />
<text x="262.75" y="696.60" font-size="6.31" text-anchor="end" fill="#2a2a2a" stroke="#2a2a2a" stroke-width="0.13" transform="rotate(-45 262.75 696.60) translate(262.75 696.60) scale(0.9346 1) translate(-262.75 -696.60)" >CD63</text>
<line x1="269.55" y1="690.70" x2="269.55" y2="693.40" stroke="#222" stroke-width="0.8" />
<text x="271.55" y="696.60" font-size="6.31" text-anchor="end" fill="#2a2a2a" stroke="#2a2a2a" stroke-width="0.13" transform="rotate(-45 271.55 696.60) translate(271.55 696.60) scale(0.9346 1) translate(-271.55 -696.60)" >CD52</text>
<line x1="278.35" y1="690.70" x2="278.35" y2="693.40" stroke="#222" stroke-width="0.8" />
<text x="280.35" y="696.60" font-size="6.31" text-anchor="end" fill="#2a2a2a" stroke="#2a2a2a" stroke-width="0.13" transform="rotate(-45 280.35 696.60) translate(280.35 696.60) scale(0.9346 1) translate(-280.35 -696.60)" >SQSTM1</text>
<line x1="287.15" y1="690.70" x2="287.15" y2="693.40" stroke="#222" stroke-width="0.8" />
<text x="289.15" y="696.60" font-size="6.31" text-anchor="end" fill="#2a2a2a" stroke="#2a2a2a" stroke-width="0.13" transform="rotate(-45 289.15 696.60) translate(289.15 696.60) scale(0.9346 1) translate(-289.15 -696.60)" >IRF1</text>
<line x1="295.95" y1="690.70" x2="295.95" y2="693.40" stroke="#222" stroke-width="0.8" />
<text x="297.95" y="696.60" font-size="6.31" text-anchor="end" fill="#2a2a2a" stroke="#2a2a2a" stroke-width="0.13" transform="rotate(-45 297.95 696.60) translate(297.95 696.60) scale(0.9346 1) translate(-297.95 -696.60)" >SRGN</text>
<line x1="304.75" y1="690.70" x2="304.75" y2="693.40" stroke="#222" stroke-width="0.8" />
<text x="306.75" y="696.60" font-size="6.31" text-anchor="end" fill="#2a2a2a" stroke="#2a2a2a" stroke-width="0.13" transform="rotate(-45 306.75 696.60) translate(306.75 696.60) scale(0.9346 1) translate(-306.75 -696.60)" >FTL</text>
<line x1="313.55" y1="690.70" x2="313.55" y2="693.40" stroke="#222" stroke-width="0.8" />
<text x="315.55" y="696.60" font-size="6.31" text-anchor="end" fill="#2a2a2a" stroke="#2a2a2a" stroke-width="0.13" transform="rotate(-45 315.55 696.60) translate(315.55 696.60) scale(0.9346 1) translate(-315.55 -696.60)" >CCL3</text>
<line x1="322.35" y1="690.70" x2="322.35" y2="693.40" stroke="#222" stroke-width="0.8" />
<text x="324.35" y="696.60" font-size="6.31" text-anchor="end" fill="#2a2a2a" stroke="#2a2a2a" stroke-width="0.13" transform="rotate(-45 324.35 696.60) translate(324.35 696.60) scale(0.9346 1) translate(-324.35 -696.60)" >CXCR4</text>
<line x1="331.15" y1="690.70" x2="331.15" y2="693.40" stroke="#222" stroke-width="0.8" />
<text x="333.15" y="696.60" font-size="6.31" text-anchor="end" fill="#2a2a2a" stroke="#2a2a2a" stroke-width="0.13" transform="rotate(-45 333.15 696.60) translate(333.15 696.60) scale(0.9346 1) translate(-333.15 -696.60)" >B2M</text>
<line x1="339.95" y1="690.70" x2="339.95" y2="693.40" stroke="#222" stroke-width="0.8" />
<text x="341.95" y="696.60" font-size="6.31" text-anchor="end" fill="#2a2a2a" stroke="#2a2a2a" stroke-width="0.13" transform="rotate(-45 341.95 696.60) translate(341.95 696.60) scale(0.9346 1) translate(-341.95 -696.60)" >HLA−B</text>
<line x1="348.75" y1="690.70" x2="348.75" y2="693.40" stroke="#222" stroke-width="0.8" />
<text x="350.75" y="696.60" font-size="6.31" text-anchor="end" fill="#2a2a2a" stroke="#2a2a2a" stroke-width="0.13" transform="rotate(-45 350.75 696.60) translate(350.75 696.60) scale(0.9346 1) translate(-350.75 -696.60)" >CCL5</text>
<line x1="357.55" y1="690.70" x2="357.55" y2="693.40" stroke="#222" stroke-width="0.8" />
<text x="359.55" y="696.60" font-size="6.31" text-anchor="end" fill="#2a2a2a" stroke="#2a2a2a" stroke-width="0.13" transform="rotate(-45 359.55 696.60) translate(359.55 696.60) scale(0.9346 1) translate(-359.55 -696.60)" >LINC01943</text>
<line x1="366.35" y1="690.70" x2="366.35" y2="693.40" stroke="#222" stroke-width="0.8" />
<text x="368.35" y="696.60" font-size="6.31" text-anchor="end" fill="#2a2a2a" stroke="#2a2a2a" stroke-width="0.13" transform="rotate(-45 368.35 696.60) translate(368.35 696.60) scale(0.9346 1) translate(-368.35 -696.60)" >NKG7</text>
<line x1="375.15" y1="690.70" x2="375.15" y2="693.40" stroke="#222" stroke-width="0.8" />
<text x="377.15" y="696.60" font-size="6.31" text-anchor="end" fill="#2a2a2a" stroke="#2a2a2a" stroke-width="0.13" transform="rotate(-45 377.15 696.60) translate(377.15 696.60) scale(0.9346 1) translate(-377.15 -696.60)" >XCL1</text>
<line x1="383.95" y1="690.70" x2="383.95" y2="693.40" stroke="#222" stroke-width="0.8" />
<text x="385.95" y="696.60" font-size="6.31" text-anchor="end" fill="#2a2a2a" stroke="#2a2a2a" stroke-width="0.13" transform="rotate(-45 385.95 696.60) translate(385.95 696.60) scale(0.9346 1) translate(-385.95 -696.60)" >SOCS1</text>
<line x1="392.75" y1="690.70" x2="392.75" y2="693.40" stroke="#222" stroke-width="0.8" />
<text x="394.75" y="696.60" font-size="6.31" text-anchor="end" fill="#2a2a2a" stroke="#2a2a2a" stroke-width="0.13" transform="rotate(-45 394.75 696.60) translate(394.75 696.60) scale(0.9346 1) translate(-394.75 -696.60)" >IL9</text>
<line x1="401.55" y1="690.70" x2="401.55" y2="693.40" stroke="#222" stroke-width="0.8" />
<text x="403.55" y="696.60" font-size="6.31" text-anchor="end" fill="#2a2a2a" stroke="#2a2a2a" stroke-width="0.13" transform="rotate(-45 403.55 696.60) translate(403.55 696.60) scale(0.9346 1) translate(-403.55 -696.60)" >CSF2</text>
<line x1="410.35" y1="690.70" x2="410.35" y2="693.40" stroke="#222" stroke-width="0.8" />
<text x="412.35" y="696.60" font-size="6.31" text-anchor="end" fill="#2a2a2a" stroke="#2a2a2a" stroke-width="0.13" transform="rotate(-45 412.35 696.60) translate(412.35 696.60) scale(0.9346 1) translate(-412.35 -696.60)" >XCL2</text>
<line x1="419.15" y1="690.70" x2="419.15" y2="693.40" stroke="#222" stroke-width="0.8" />
<text x="421.15" y="696.60" font-size="6.31" text-anchor="end" fill="#2a2a2a" stroke="#2a2a2a" stroke-width="0.13" transform="rotate(-45 421.15 696.60) translate(421.15 696.60) scale(0.9346 1) translate(-421.15 -696.60)" >CCL4</text>
<line x1="427.95" y1="690.70" x2="427.95" y2="693.40" stroke="#222" stroke-width="0.8" />
<text x="429.95" y="696.60" font-size="6.31" text-anchor="end" fill="#2a2a2a" stroke="#2a2a2a" stroke-width="0.13" transform="rotate(-45 429.95 696.60) translate(429.95 696.60) scale(0.9346 1) translate(-429.95 -696.60)" >CCL4L2</text>
<line x1="115.30" y1="568.30" x2="118.40" y2="568.30" stroke="#1a1a1a" stroke-width="0.9" />
<text x="111.10" y="570.30" font-size="6.21" text-anchor="end" fill="#2a2a2a" stroke="#2a2a2a" stroke-width="0.13" transform="translate(111.10 570.30) scale(0.9346 1) translate(-111.10 -570.30)" >0-CD4 Naive Th1</text>
<line x1="115.30" y1="578.50" x2="118.40" y2="578.50" stroke="#1a1a1a" stroke-width="0.9" />
<text x="111.10" y="580.50" font-size="6.21" text-anchor="end" fill="#2a2a2a" stroke="#2a2a2a" stroke-width="0.13" transform="translate(111.10 580.50) scale(0.9346 1) translate(-111.10 -580.50)" >1 - CD4 Effector memory Th2</text>
<line x1="115.30" y1="589.30" x2="118.40" y2="589.30" stroke="#1a1a1a" stroke-width="0.9" />
<text x="111.10" y="591.30" font-size="6.21" text-anchor="end" fill="#2a2a2a" stroke="#2a2a2a" stroke-width="0.13" transform="translate(111.10 591.30) scale(0.9346 1) translate(-111.10 -591.30)" >9 - CD4 Effector memory Tfh</text>
<line x1="115.30" y1="600.40" x2="118.40" y2="600.40" stroke="#1a1a1a" stroke-width="0.9" />
<text x="111.10" y="602.40" font-size="6.21" text-anchor="end" fill="#2a2a2a" stroke="#2a2a2a" stroke-width="0.13" transform="translate(111.10 602.40) scale(0.9346 1) translate(-111.10 -602.40)" >15-Treg</text>
<line x1="115.30" y1="611.40" x2="118.40" y2="611.40" stroke="#1a1a1a" stroke-width="0.9" />
<text x="111.10" y="609.80" font-size="6.21" text-anchor="end" fill="#2a2a2a" stroke="#2a2a2a" stroke-width="0.13" transform="translate(111.10 609.80) scale(0.9346 1) translate(-111.10 -609.80)" >5 - CD4 Effector memory</text>
<text x="111.10" y="616.60" font-size="6.21" text-anchor="end" fill="#2a2a2a" stroke="#2a2a2a" stroke-width="0.13" transform="translate(111.10 616.60) scale(0.9346 1) translate(-111.10 -616.60)" >CD73+CD28+KLRG1+</text>
<line x1="115.30" y1="622.30" x2="118.40" y2="622.30" stroke="#1a1a1a" stroke-width="0.9" />
<text x="111.10" y="624.30" font-size="6.21" text-anchor="end" fill="#2a2a2a" stroke="#2a2a2a" stroke-width="0.13" transform="translate(111.10 624.30) scale(0.9346 1) translate(-111.10 -624.30)" >3 - CD8 Naive CD73+</text>
<line x1="115.30" y1="632.60" x2="118.40" y2="632.60" stroke="#1a1a1a" stroke-width="0.9" />
<text x="111.10" y="634.60" font-size="6.21" text-anchor="end" fill="#2a2a2a" stroke="#2a2a2a" stroke-width="0.13" transform="translate(111.10 634.60) scale(0.9346 1) translate(-111.10 -634.60)" >19 - CD8 Naive CD73-</text>
<line x1="115.30" y1="642.50" x2="118.40" y2="642.50" stroke="#1a1a1a" stroke-width="0.9" />
<text x="111.10" y="644.50" font-size="6.21" text-anchor="end" fill="#2a2a2a" stroke="#2a2a2a" stroke-width="0.13" transform="translate(111.10 644.50) scale(0.9346 1) translate(-111.10 -644.50)" >7 - CD8 EMRA</text>
<line x1="115.30" y1="652.50" x2="118.40" y2="652.50" stroke="#1a1a1a" stroke-width="0.9" />
<text x="111.10" y="654.50" font-size="6.21" text-anchor="end" fill="#2a2a2a" stroke="#2a2a2a" stroke-width="0.13" transform="translate(111.10 654.50) scale(0.9346 1) translate(-111.10 -654.50)" >17 - CD8 MAIT</text>
<line x1="115.30" y1="662.40" x2="118.40" y2="662.40" stroke="#1a1a1a" stroke-width="0.9" />
<text x="111.10" y="660.80" font-size="6.21" text-anchor="end" fill="#2a2a2a" stroke="#2a2a2a" stroke-width="0.13" transform="translate(111.10 660.80) scale(0.9346 1) translate(-111.10 -660.80)" >8 - DN effector memory</text>
<text x="111.10" y="667.60" font-size="6.21" text-anchor="end" fill="#2a2a2a" stroke="#2a2a2a" stroke-width="0.13" transform="translate(111.10 667.60) scale(0.9346 1) translate(-111.10 -667.60)" >CD73+CD38+KLRG1+PD1+</text>
<line x1="115.30" y1="672.40" x2="118.40" y2="672.40" stroke="#1a1a1a" stroke-width="0.9" />
<text x="111.10" y="674.40" font-size="6.21" text-anchor="end" fill="#2a2a2a" stroke="#2a2a2a" stroke-width="0.13" transform="translate(111.10 674.40) scale(0.9346 1) translate(-111.10 -674.40)" >12 - DP Naive CXCR3+KLRG1-</text>
<line x1="115.30" y1="682.80" x2="118.40" y2="682.80" stroke="#1a1a1a" stroke-width="0.9" />
<text x="111.10" y="681.20" font-size="6.21" text-anchor="end" fill="#2a2a2a" stroke="#2a2a2a" stroke-width="0.13" transform="translate(111.10 681.20) scale(0.9346 1) translate(-111.10 -681.20)" >25 - dp central memory</text>
<text x="111.10" y="688.00" font-size="6.21" text-anchor="end" fill="#2a2a2a" stroke="#2a2a2a" stroke-width="0.13" transform="translate(111.10 688.00) scale(0.9346 1) translate(-111.10 -688.00)" >CXCRG3-KLRG1+</text>
<path d="M20.6,568.4 L17.8,568.4 L17.8,610.6 L20.6,610.6" fill="none" stroke="#222" stroke-width="0.8" />
<path d="M20.6,624.2 L17.8,624.2 L17.8,652.6 L20.6,652.6" fill="none" stroke="#222" stroke-width="0.8" />
<text x="12.20" y="590.70" font-size="5.99" text-anchor="middle" fill="#2a2a2a" stroke="#2a2a2a" stroke-width="0.13" transform="rotate(-90 12.20 590.70) translate(12.20 590.70) scale(0.9346 1) translate(-12.20 -590.70)" >CD4<tspan font-size="3.85" dy="-2.14">+</tspan></text>
<text x="12.20" y="635.30" font-size="5.99" text-anchor="middle" fill="#2a2a2a" stroke="#2a2a2a" stroke-width="0.13" transform="rotate(-90 12.20 635.30) translate(12.20 635.30) scale(0.9346 1) translate(-12.20 -635.30)" >CD8<tspan font-size="3.85" dy="-2.14">+</tspan></text>
<circle cx="128.75" cy="568.30" r="1.75" fill="#17427c" stroke="#0c2b55" stroke-width="0.35"/>
<circle cx="137.55" cy="568.30" r="2.25" fill="#17427c" stroke="#0c2b55" stroke-width="0.35"/>
<circle cx="146.35" cy="568.30" r="1.75" fill="#17427c" stroke="#0c2b55" stroke-width="0.35"/>
<circle cx="155.15" cy="568.30" r="2.00" fill="#17427c" stroke="#0c2b55" stroke-width="0.35"/>
<circle cx="163.95" cy="568.30" r="2.00" fill="#17427c" stroke="#0c2b55" stroke-width="0.35"/>
<circle cx="172.75" cy="568.30" r="1.25" fill="#17427c" stroke="#0c2b55" stroke-width="0.35"/>
<circle cx="181.55" cy="568.30" r="1.75" fill="#17427c" stroke="#0c2b55" stroke-width="0.35"/>
<circle cx="190.35" cy="568.30" r="1.50" fill="#17427c" stroke="#0c2b55" stroke-width="0.35"/>
<circle cx="199.15" cy="568.30" r="1.75" fill="#17427c" stroke="#0c2b55" stroke-width="0.35"/>
<circle cx="207.95" cy="568.30" r="2.00" fill="#17427c" stroke="#0c2b55" stroke-width="0.35"/>
<circle cx="216.75" cy="568.30" r="1.50" fill="#17427c" stroke="#0c2b55" stroke-width="0.35"/>
<circle cx="225.55" cy="568.30" r="1.75" fill="#17427c" stroke="#0c2b55" stroke-width="0.35"/>
<circle cx="234.35" cy="568.30" r="1.25" fill="#c4122e" stroke="#8e0a1f" stroke-width="0.35"/>
<circle cx="243.15" cy="568.30" r="2.00" fill="#c4122e" stroke="#8e0a1f" stroke-width="0.35"/>
<circle cx="251.95" cy="568.30" r="1.75" fill="#c4122e" stroke="#8e0a1f" stroke-width="0.35"/>
<circle cx="260.75" cy="568.30" r="1.50" fill="#c4122e" stroke="#8e0a1f" stroke-width="0.35"/>
<circle cx="269.55" cy="568.30" r="1.50" fill="#c4122e" stroke="#8e0a1f" stroke-width="0.35"/>
<circle cx="278.35" cy="568.30" r="1.75" fill="#c4122e" stroke="#8e0a1f" stroke-width="0.35"/>
<circle cx="287.15" cy="568.30" r="2.25" fill="#c4122e" stroke="#8e0a1f" stroke-width="0.35"/>
<circle cx="295.95" cy="568.30" r="1.50" fill="#c4122e" stroke="#8e0a1f" stroke-width="0.35"/>
<circle cx="304.75" cy="568.30" r="1.75" fill="#c4122e" stroke="#8e0a1f" stroke-width="0.35"/>
<circle cx="313.55" cy="568.30" r="1.25" fill="#c4122e" stroke="#8e0a1f" stroke-width="0.35"/>
<circle cx="322.35" cy="568.30" r="1.50" fill="#c4122e" stroke="#8e0a1f" stroke-width="0.35"/>
<circle cx="331.15" cy="568.30" r="2.00" fill="#c4122e" stroke="#8e0a1f" stroke-width="0.35"/>
<circle cx="339.95" cy="568.30" r="2.00" fill="#c4122e" stroke="#8e0a1f" stroke-width="0.35"/>
<circle cx="357.55" cy="568.30" r="1.40" fill="#c4122e" stroke="#8e0a1f" stroke-width="0.35"/>
<circle cx="366.35" cy="568.30" r="1.00" fill="#c4122e" stroke="#8e0a1f" stroke-width="0.35"/>
<circle cx="383.95" cy="568.30" r="2.25" fill="#c4122e" stroke="#8e0a1f" stroke-width="0.35"/>
<circle cx="401.55" cy="568.30" r="2.25" fill="#c4122e" stroke="#8e0a1f" stroke-width="0.35"/>
<circle cx="419.15" cy="568.30" r="2.00" fill="#c4122e" stroke="#8e0a1f" stroke-width="0.35"/>
<circle cx="137.55" cy="578.50" r="2.00" fill="#17427c" stroke="#0c2b55" stroke-width="0.35"/>
<circle cx="146.35" cy="578.50" r="1.75" fill="#17427c" stroke="#0c2b55" stroke-width="0.35"/>
<circle cx="155.15" cy="578.50" r="2.00" fill="#17427c" stroke="#0c2b55" stroke-width="0.35"/>
<circle cx="163.95" cy="578.50" r="1.75" fill="#17427c" stroke="#0c2b55" stroke-width="0.35"/>
<circle cx="172.75" cy="578.50" r="1.50" fill="#17427c" stroke="#0c2b55" stroke-width="0.35"/>
<circle cx="181.55" cy="578.50" r="0.75" fill="#17427c" stroke="#0c2b55" stroke-width="0.35"/>
<circle cx="190.35" cy="578.50" r="1.50" fill="#17427c" stroke="#0c2b55" stroke-width="0.35"/>
<circle cx="199.15" cy="578.50" r="1.50" fill="#17427c" stroke="#0c2b55" stroke-width="0.35"/>
<circle cx="207.95" cy="578.50" r="1.50" fill="#17427c" stroke="#0c2b55" stroke-width="0.35"/>
<circle cx="216.75" cy="578.50" r="1.25" fill="#17427c" stroke="#0c2b55" stroke-width="0.35"/>
<circle cx="225.55" cy="578.50" r="1.75" fill="#17427c" stroke="#0c2b55" stroke-width="0.35"/>
<circle cx="234.35" cy="578.50" r="1.25" fill="#c4122e" stroke="#8e0a1f" stroke-width="0.35"/>
<circle cx="243.15" cy="578.50" r="1.00" fill="#c4122e" stroke="#8e0a1f" stroke-width="0.35"/>
<circle cx="251.95" cy="578.50" r="1.75" fill="#c4122e" stroke="#8e0a1f" stroke-width="0.35"/>
<circle cx="260.75" cy="578.50" r="2.00" fill="#c4122e" stroke="#8e0a1f" stroke-width="0.35"/>
<circle cx="269.55" cy="578.50" r="1.50" fill="#c4122e" stroke="#8e0a1f" stroke-width="0.35"/>
<circle cx="278.35" cy="578.50" r="2.00" fill="#c4122e" stroke="#8e0a1f" stroke-width="0.35"/>
<circle cx="287.15" cy="578.50" r="1.75" fill="#c4122e" stroke="#8e0a1f" stroke-width="0.35"/>
<circle cx="295.95" cy="578.50" r="1.50" fill="#c4122e" stroke="#8e0a1f" stroke-width="0.35"/>
<circle cx="304.75" cy="578.50" r="2.00" fill="#c4122e" stroke="#8e0a1f" stroke-width="0.35"/>
<circle cx="313.55" cy="578.50" r="1.75" fill="#c4122e" stroke="#8e0a1f" stroke-width="0.35"/>
<circle cx="322.35" cy="578.50" r="2.00" fill="#c4122e" stroke="#8e0a1f" stroke-width="0.35"/>
<circle cx="331.15" cy="578.50" r="2.00" fill="#c4122e" stroke="#8e0a1f" stroke-width="0.35"/>
<circle cx="339.95" cy="578.50" r="2.00" fill="#c4122e" stroke="#8e0a1f" stroke-width="0.35"/>
<circle cx="357.55" cy="578.50" r="1.75" fill="#c4122e" stroke="#8e0a1f" stroke-width="0.35"/>
<circle cx="383.95" cy="578.50" r="2.00" fill="#c4122e" stroke="#8e0a1f" stroke-width="0.35"/>
<circle cx="401.55" cy="578.50" r="1.75" fill="#c4122e" stroke="#8e0a1f" stroke-width="0.35"/>
<circle cx="419.15" cy="578.50" r="2.25" fill="#c4122e" stroke="#8e0a1f" stroke-width="0.35"/>
<circle cx="137.55" cy="589.30" r="1.50" fill="#17427c" stroke="#0c2b55" stroke-width="0.35"/>
<circle cx="146.35" cy="589.30" r="1.75" fill="#17427c" stroke="#0c2b55" stroke-width="0.35"/>
<circle cx="155.15" cy="589.30" r="2.00" fill="#17427c" stroke="#0c2b55" stroke-width="0.35"/>
<circle cx="163.95" cy="589.30" r="2.00" fill="#17427c" stroke="#0c2b55" stroke-width="0.35"/>
<circle cx="190.35" cy="589.30" r="1.50" fill="#17427c" stroke="#0c2b55" stroke-width="0.35"/>
<circle cx="199.15" cy="589.30" r="1.75" fill="#17427c" stroke="#0c2b55" stroke-width="0.35"/>
<circle cx="207.95" cy="589.30" r="1.50" fill="#17427c" stroke="#0c2b55" stroke-width="0.35"/>
<circle cx="216.75" cy="589.30" r="1.25" fill="#17427c" stroke="#0c2b55" stroke-width="0.35"/>
<circle cx="225.55" cy="589.30" r="1.50" fill="#17427c" stroke="#0c2b55" stroke-width="0.35"/>
<circle cx="251.95" cy="589.30" r="1.75" fill="#c4122e" stroke="#8e0a1f" stroke-width="0.35"/>
<circle cx="260.75" cy="589.30" r="1.50" fill="#c4122e" stroke="#8e0a1f" stroke-width="0.35"/>
<circle cx="304.75" cy="589.30" r="2.25" fill="#c4122e" stroke="#8e0a1f" stroke-width="0.35"/>
<circle cx="322.35" cy="589.30" r="2.00" fill="#c4122e" stroke="#8e0a1f" stroke-width="0.35"/>
<circle cx="331.15" cy="589.30" r="1.75" fill="#c4122e" stroke="#8e0a1f" stroke-width="0.35"/>
<circle cx="339.95" cy="589.30" r="2.00" fill="#c4122e" stroke="#8e0a1f" stroke-width="0.35"/>
<circle cx="357.55" cy="589.30" r="1.75" fill="#c4122e" stroke="#8e0a1f" stroke-width="0.35"/>
<circle cx="383.95" cy="589.30" r="1.50" fill="#c4122e" stroke="#8e0a1f" stroke-width="0.35"/>
<circle cx="419.15" cy="589.30" r="2.25" fill="#c4122e" stroke="#8e0a1f" stroke-width="0.35"/>
<circle cx="146.35" cy="600.40" r="2.00" fill="#17427c" stroke="#0c2b55" stroke-width="0.35"/>
<circle cx="155.15" cy="600.40" r="2.00" fill="#17427c" stroke="#0c2b55" stroke-width="0.35"/>
<circle cx="181.55" cy="600.40" r="1.50" fill="#17427c" stroke="#0c2b55" stroke-width="0.35"/>
<circle cx="199.15" cy="600.40" r="2.00" fill="#17427c" stroke="#0c2b55" stroke-width="0.35"/>
<circle cx="216.75" cy="600.40" r="1.75" fill="#17427c" stroke="#0c2b55" stroke-width="0.35"/>
<circle cx="225.55" cy="600.40" r="1.50" fill="#17427c" stroke="#0c2b55" stroke-width="0.35"/>
<circle cx="331.15" cy="600.40" r="2.00" fill="#c4122e" stroke="#8e0a1f" stroke-width="0.35"/>
<circle cx="339.95" cy="600.40" r="2.00" fill="#c4122e" stroke="#8e0a1f" stroke-width="0.35"/>
<circle cx="383.95" cy="600.40" r="2.25" fill="#c4122e" stroke="#8e0a1f" stroke-width="0.35"/>
<circle cx="137.55" cy="611.40" r="2.50" fill="#17427c" stroke="#0c2b55" stroke-width="0.35"/>
<circle cx="172.75" cy="611.40" r="2.50" fill="#17427c" stroke="#0c2b55" stroke-width="0.35"/>
<circle cx="181.55" cy="611.40" r="1.75" fill="#17427c" stroke="#0c2b55" stroke-width="0.35"/>
<circle cx="199.15" cy="611.40" r="1.75" fill="#17427c" stroke="#0c2b55" stroke-width="0.35"/>
<circle cx="207.95" cy="611.40" r="1.00" fill="#17427c" stroke="#0c2b55" stroke-width="0.35"/>
<circle cx="216.75" cy="611.40" r="1.50" fill="#c4122e" stroke="#8e0a1f" stroke-width="0.35"/>
<circle cx="225.55" cy="611.40" r="1.25" fill="#c4122e" stroke="#8e0a1f" stroke-width="0.35"/>
<circle cx="251.95" cy="611.40" r="1.50" fill="#c4122e" stroke="#8e0a1f" stroke-width="0.35"/>
<circle cx="260.75" cy="611.40" r="2.00" fill="#c4122e" stroke="#8e0a1f" stroke-width="0.35"/>
<circle cx="269.55" cy="611.40" r="1.50" fill="#c4122e" stroke="#8e0a1f" stroke-width="0.35"/>
<circle cx="278.35" cy="611.40" r="2.00" fill="#c4122e" stroke="#8e0a1f" stroke-width="0.35"/>
<circle cx="287.15" cy="611.40" r="1.75" fill="#c4122e" stroke="#8e0a1f" stroke-width="0.35"/>
<circle cx="295.95" cy="611.40" r="2.00" fill="#c4122e" stroke="#8e0a1f" stroke-width="0.35"/>
<circle cx="304.75" cy="611.40" r="2.00" fill="#c4122e" stroke="#8e0a1f" stroke-width="0.35"/>
<circle cx="322.35" cy="611.40" r="2.25" fill="#c4122e" stroke="#8e0a1f" stroke-width="0.35"/>
<circle cx="331.15" cy="611.40" r="2.25" fill="#c4122e" stroke="#8e0a1f" stroke-width="0.35"/>
<circle cx="339.95" cy="611.40" r="2.25" fill="#c4122e" stroke="#8e0a1f" stroke-width="0.35"/>
<circle cx="348.75" cy="611.40" r="2.00" fill="#c4122e" stroke="#8e0a1f" stroke-width="0.35"/>
<circle cx="357.55" cy="611.40" r="1.75" fill="#c4122e" stroke="#8e0a1f" stroke-width="0.35"/>
<circle cx="366.35" cy="611.40" r="2.00" fill="#c4122e" stroke="#8e0a1f" stroke-width="0.35"/>
<circle cx="383.95" cy="611.40" r="2.00" fill="#c4122e" stroke="#8e0a1f" stroke-width="0.35"/>
<circle cx="392.75" cy="611.40" r="2.75" fill="#c4122e" stroke="#8e0a1f" stroke-width="0.35"/>
<circle cx="401.55" cy="611.40" r="1.50" fill="#c4122e" stroke="#8e0a1f" stroke-width="0.35"/>
<circle cx="419.15" cy="611.40" r="3.00" fill="#c4122e" stroke="#8e0a1f" stroke-width="0.35"/>
<circle cx="427.95" cy="611.40" r="2.75" fill="#c4122e" stroke="#8e0a1f" stroke-width="0.35"/>
<circle cx="137.55" cy="622.30" r="2.25" fill="#17427c" stroke="#0c2b55" stroke-width="0.35"/>
<circle cx="146.35" cy="622.30" r="2.00" fill="#17427c" stroke="#0c2b55" stroke-width="0.35"/>
<circle cx="155.15" cy="622.30" r="1.75" fill="#17427c" stroke="#0c2b55" stroke-width="0.35"/>
<circle cx="163.95" cy="622.30" r="1.25" fill="#17427c" stroke="#0c2b55" stroke-width="0.35"/>
<circle cx="172.75" cy="622.30" r="1.50" fill="#17427c" stroke="#0c2b55" stroke-width="0.35"/>
<circle cx="181.55" cy="622.30" r="2.00" fill="#17427c" stroke="#0c2b55" stroke-width="0.35"/>
<circle cx="190.35" cy="622.30" r="2.25" fill="#17427c" stroke="#0c2b55" stroke-width="0.35"/>
<circle cx="199.15" cy="622.30" r="1.25" fill="#17427c" stroke="#0c2b55" stroke-width="0.35"/>
<circle cx="207.95" cy="622.30" r="2.25" fill="#17427c" stroke="#0c2b55" stroke-width="0.35"/>
<circle cx="216.75" cy="622.30" r="1.75" fill="#17427c" stroke="#0c2b55" stroke-width="0.35"/>
<circle cx="225.55" cy="622.30" r="1.75" fill="#17427c" stroke="#0c2b55" stroke-width="0.35"/>
<circle cx="234.35" cy="622.30" r="2.00" fill="#c4122e" stroke="#8e0a1f" stroke-width="0.35"/>
<circle cx="243.15" cy="622.30" r="2.25" fill="#c4122e" stroke="#8e0a1f" stroke-width="0.35"/>
<circle cx="251.95" cy="622.30" r="1.75" fill="#c4122e" stroke="#8e0a1f" stroke-width="0.35"/>
<circle cx="260.75" cy="622.30" r="1.50" fill="#c4122e" stroke="#8e0a1f" stroke-width="0.35"/>
<circle cx="269.55" cy="622.30" r="2.00" fill="#c4122e" stroke="#8e0a1f" stroke-width="0.35"/>
<circle cx="278.35" cy="622.30" r="0.75" fill="#c4122e" stroke="#8e0a1f" stroke-width="0.35"/>
<circle cx="287.15" cy="622.30" r="1.50" fill="#c4122e" stroke="#8e0a1f" stroke-width="0.35"/>
<circle cx="295.95" cy="622.30" r="1.50" fill="#c4122e" stroke="#8e0a1f" stroke-width="0.35"/>
<circle cx="331.15" cy="622.30" r="1.75" fill="#c4122e" stroke="#8e0a1f" stroke-width="0.35"/>
<circle cx="339.95" cy="622.30" r="1.75" fill="#c4122e" stroke="#8e0a1f" stroke-width="0.35"/>
<circle cx="366.35" cy="622.30" r="2.00" fill="#c4122e" stroke="#8e0a1f" stroke-width="0.35"/>
<circle cx="375.15" cy="622.30" r="2.25" fill="#c4122e" stroke="#8e0a1f" stroke-width="0.35"/>
<circle cx="383.95" cy="622.30" r="2.25" fill="#c4122e" stroke="#8e0a1f" stroke-width="0.35"/>
<circle cx="392.75" cy="622.30" r="1.00" fill="#c4122e" stroke="#8e0a1f" stroke-width="0.35"/>
<circle cx="401.55" cy="622.30" r="3.00" fill="#c4122e" stroke="#8e0a1f" stroke-width="0.35"/>
<circle cx="410.35" cy="622.30" r="2.00" fill="#c4122e" stroke="#8e0a1f" stroke-width="0.35"/>
<circle cx="419.15" cy="622.30" r="1.75" fill="#c4122e" stroke="#8e0a1f" stroke-width="0.35"/>
<circle cx="137.55" cy="632.60" r="2.25" fill="#17427c" stroke="#0c2b55" stroke-width="0.35"/>
<circle cx="155.15" cy="632.60" r="1.50" fill="#17427c" stroke="#0c2b55" stroke-width="0.35"/>
<circle cx="181.55" cy="632.60" r="2.25" fill="#17427c" stroke="#0c2b55" stroke-width="0.35"/>
<circle cx="216.75" cy="632.60" r="1.25" fill="#17427c" stroke="#0c2b55" stroke-width="0.35"/>
<circle cx="225.55" cy="632.60" r="1.50" fill="#17427c" stroke="#0c2b55" stroke-width="0.35"/>
<circle cx="383.95" cy="632.60" r="1.75" fill="#c4122e" stroke="#8e0a1f" stroke-width="0.35"/>
<circle cx="401.55" cy="632.60" r="2.00" fill="#c4122e" stroke="#8e0a1f" stroke-width="0.35"/>
<circle cx="137.55" cy="642.50" r="2.25" fill="#17427c" stroke="#0c2b55" stroke-width="0.35"/>
<circle cx="146.35" cy="642.50" r="1.50" fill="#17427c" stroke="#0c2b55" stroke-width="0.35"/>
<circle cx="155.15" cy="642.50" r="1.50" fill="#17427c" stroke="#0c2b55" stroke-width="0.35"/>
<circle cx="199.15" cy="642.50" r="1.75" fill="#17427c" stroke="#0c2b55" stroke-width="0.35"/>
<circle cx="207.95" cy="642.50" r="1.75" fill="#17427c" stroke="#0c2b55" stroke-width="0.35"/>
<circle cx="216.75" cy="642.50" r="1.25" fill="#17427c" stroke="#0c2b55" stroke-width="0.35"/>
<circle cx="225.55" cy="642.50" r="1.25" fill="#17427c" stroke="#0c2b55" stroke-width="0.35"/>
<circle cx="234.35" cy="642.50" r="2.25" fill="#c4122e" stroke="#8e0a1f" stroke-width="0.35"/>
<circle cx="251.95" cy="642.50" r="1.75" fill="#c4122e" stroke="#8e0a1f" stroke-width="0.35"/>
<circle cx="260.75" cy="642.50" r="2.00" fill="#c4122e" stroke="#8e0a1f" stroke-width="0.35"/>
<circle cx="269.55" cy="642.50" r="2.50" fill="#c4122e" stroke="#8e0a1f" stroke-width="0.35"/>
<circle cx="278.35" cy="642.50" r="1.75" fill="#c4122e" stroke="#8e0a1f" stroke-width="0.35"/>
<circle cx="304.75" cy="642.50" r="1.75" fill="#c4122e" stroke="#8e0a1f" stroke-width="0.35"/>
<circle cx="322.35" cy="642.50" r="2.25" fill="#c4122e" stroke="#8e0a1f" stroke-width="0.35"/>
<circle cx="331.15" cy="642.50" r="2.25" fill="#c4122e" stroke="#8e0a1f" stroke-width="0.35"/>
<circle cx="339.95" cy="642.50" r="2.25" fill="#c4122e" stroke="#8e0a1f" stroke-width="0.35"/>
<circle cx="357.55" cy="642.50" r="2.25" fill="#c4122e" stroke="#8e0a1f" stroke-width="0.35"/>
<circle cx="366.35" cy="642.50" r="2.00" fill="#c4122e" stroke="#8e0a1f" stroke-width="0.35"/>
<circle cx="375.15" cy="642.50" r="1.75" fill="#c4122e" stroke="#8e0a1f" stroke-width="0.35"/>
<circle cx="383.95" cy="642.50" r="1.75" fill="#c4122e" stroke="#8e0a1f" stroke-width="0.35"/>
<circle cx="410.35" cy="642.50" r="2.00" fill="#c4122e" stroke="#8e0a1f" stroke-width="0.35"/>
<circle cx="419.15" cy="642.50" r="2.00" fill="#c4122e" stroke="#8e0a1f" stroke-width="0.35"/>
<circle cx="137.55" cy="652.50" r="2.25" fill="#17427c" stroke="#0c2b55" stroke-width="0.35"/>
<circle cx="146.35" cy="652.50" r="2.25" fill="#17427c" stroke="#0c2b55" stroke-width="0.35"/>
<circle cx="155.15" cy="652.50" r="2.00" fill="#17427c" stroke="#0c2b55" stroke-width="0.35"/>
<circle cx="163.95" cy="652.50" r="2.25" fill="#17427c" stroke="#0c2b55" stroke-width="0.35"/>
<circle cx="216.75" cy="652.50" r="1.50" fill="#17427c" stroke="#0c2b55" stroke-width="0.35"/>
<circle cx="225.55" cy="652.50" r="2.00" fill="#17427c" stroke="#0c2b55" stroke-width="0.35"/>
<circle cx="295.95" cy="652.50" r="2.25" fill="#c4122e" stroke="#8e0a1f" stroke-width="0.35"/>
<circle cx="313.55" cy="652.50" r="2.50" fill="#c4122e" stroke="#8e0a1f" stroke-width="0.35"/>
<circle cx="331.15" cy="652.50" r="1.75" fill="#c4122e" stroke="#8e0a1f" stroke-width="0.35"/>
<circle cx="339.95" cy="652.50" r="1.75" fill="#c4122e" stroke="#8e0a1f" stroke-width="0.35"/>
<circle cx="366.35" cy="652.50" r="2.00" fill="#c4122e" stroke="#8e0a1f" stroke-width="0.35"/>
<circle cx="383.95" cy="652.50" r="2.00" fill="#c4122e" stroke="#8e0a1f" stroke-width="0.35"/>
<circle cx="419.15" cy="652.50" r="2.50" fill="#c4122e" stroke="#8e0a1f" stroke-width="0.35"/>
<circle cx="427.95" cy="652.50" r="2.50" fill="#c4122e" stroke="#8e0a1f" stroke-width="0.35"/>
<circle cx="146.35" cy="662.40" r="2.25" fill="#17427c" stroke="#0c2b55" stroke-width="0.35"/>
<circle cx="155.15" cy="662.40" r="2.25" fill="#17427c" stroke="#0c2b55" stroke-width="0.35"/>
<circle cx="163.95" cy="662.40" r="2.25" fill="#17427c" stroke="#0c2b55" stroke-width="0.35"/>
<circle cx="172.75" cy="662.40" r="2.25" fill="#17427c" stroke="#0c2b55" stroke-width="0.35"/>
<circle cx="199.15" cy="662.40" r="1.00" fill="#17427c" stroke="#0c2b55" stroke-width="0.35"/>
<circle cx="207.95" cy="662.40" r="1.50" fill="#17427c" stroke="#0c2b55" stroke-width="0.35"/>
<circle cx="216.75" cy="662.40" r="2.00" fill="#17427c" stroke="#0c2b55" stroke-width="0.35"/>
<circle cx="225.55" cy="662.40" r="1.75" fill="#17427c" stroke="#0c2b55" stroke-width="0.35"/>
<circle cx="243.15" cy="662.40" r="1.00" fill="#c4122e" stroke="#8e0a1f" stroke-width="0.35"/>
<circle cx="251.95" cy="662.40" r="1.50" fill="#c4122e" stroke="#8e0a1f" stroke-width="0.35"/>
<circle cx="269.55" cy="662.40" r="1.75" fill="#c4122e" stroke="#8e0a1f" stroke-width="0.35"/>
<circle cx="331.15" cy="662.40" r="2.00" fill="#c4122e" stroke="#8e0a1f" stroke-width="0.35"/>
<circle cx="339.95" cy="662.40" r="2.00" fill="#c4122e" stroke="#8e0a1f" stroke-width="0.35"/>
<circle cx="357.55" cy="662.40" r="1.75" fill="#c4122e" stroke="#8e0a1f" stroke-width="0.35"/>
<circle cx="366.35" cy="662.40" r="1.50" fill="#c4122e" stroke="#8e0a1f" stroke-width="0.35"/>
<circle cx="375.15" cy="662.40" r="1.75" fill="#c4122e" stroke="#8e0a1f" stroke-width="0.35"/>
<circle cx="383.95" cy="662.40" r="2.00" fill="#c4122e" stroke="#8e0a1f" stroke-width="0.35"/>
<circle cx="410.35" cy="662.40" r="2.25" fill="#c4122e" stroke="#8e0a1f" stroke-width="0.35"/>
<circle cx="137.55" cy="672.40" r="2.00" fill="#17427c" stroke="#0c2b55" stroke-width="0.35"/>
<circle cx="146.35" cy="672.40" r="2.00" fill="#17427c" stroke="#0c2b55" stroke-width="0.35"/>
<circle cx="155.15" cy="672.40" r="2.25" fill="#17427c" stroke="#0c2b55" stroke-width="0.35"/>
<circle cx="163.95" cy="672.40" r="2.00" fill="#17427c" stroke="#0c2b55" stroke-width="0.35"/>
<circle cx="172.75" cy="672.40" r="2.00" fill="#17427c" stroke="#0c2b55" stroke-width="0.35"/>
<circle cx="190.35" cy="672.40" r="1.50" fill="#17427c" stroke="#0c2b55" stroke-width="0.35"/>
<circle cx="199.15" cy="672.40" r="1.75" fill="#17427c" stroke="#0c2b55" stroke-width="0.35"/>
<circle cx="207.95" cy="672.40" r="1.75" fill="#17427c" stroke="#0c2b55" stroke-width="0.35"/>
<circle cx="216.75" cy="672.40" r="1.75" fill="#17427c" stroke="#0c2b55" stroke-width="0.35"/>
<circle cx="225.55" cy="672.40" r="1.50" fill="#17427c" stroke="#0c2b55" stroke-width="0.35"/>
<circle cx="243.15" cy="672.40" r="2.00" fill="#c4122e" stroke="#8e0a1f" stroke-width="0.35"/>
<circle cx="251.95" cy="672.40" r="1.75" fill="#c4122e" stroke="#8e0a1f" stroke-width="0.35"/>
<circle cx="260.75" cy="672.40" r="1.50" fill="#c4122e" stroke="#8e0a1f" stroke-width="0.35"/>
<circle cx="269.55" cy="672.40" r="1.75" fill="#c4122e" stroke="#8e0a1f" stroke-width="0.35"/>
<circle cx="278.35" cy="672.40" r="1.50" fill="#c4122e" stroke="#8e0a1f" stroke-width="0.35"/>
<circle cx="287.15" cy="672.40" r="2.00" fill="#c4122e" stroke="#8e0a1f" stroke-width="0.35"/>
<circle cx="322.35" cy="672.40" r="1.25" fill="#c4122e" stroke="#8e0a1f" stroke-width="0.35"/>
<circle cx="331.15" cy="672.40" r="1.75" fill="#c4122e" stroke="#8e0a1f" stroke-width="0.35"/>
<circle cx="339.95" cy="672.40" r="2.00" fill="#c4122e" stroke="#8e0a1f" stroke-width="0.35"/>
<circle cx="357.55" cy="672.40" r="1.50" fill="#c4122e" stroke="#8e0a1f" stroke-width="0.35"/>
<circle cx="366.35" cy="672.40" r="2.00" fill="#c4122e" stroke="#8e0a1f" stroke-width="0.35"/>
<circle cx="375.15" cy="672.40" r="2.00" fill="#c4122e" stroke="#8e0a1f" stroke-width="0.35"/>
<circle cx="383.95" cy="672.40" r="2.25" fill="#c4122e" stroke="#8e0a1f" stroke-width="0.35"/>
<circle cx="401.55" cy="672.40" r="2.00" fill="#c4122e" stroke="#8e0a1f" stroke-width="0.35"/>
<circle cx="410.35" cy="672.40" r="2.00" fill="#c4122e" stroke="#8e0a1f" stroke-width="0.35"/>
<circle cx="128.75" cy="682.80" r="3.75" fill="#17427c" stroke="#0c2b55" stroke-width="0.35"/>
<text x="450.40" y="583.70" font-size="6.42" text-anchor="start" fill="#2a2a2a" stroke="#2a2a2a" stroke-width="0.13" textLength="12.70" lengthAdjust="spacingAndGlyphs" >Log2</text>
<text x="450.40" y="591.20" font-size="6.42" text-anchor="start" fill="#2a2a2a" stroke="#2a2a2a" stroke-width="0.13" textLength="30.60" lengthAdjust="spacingAndGlyphs" >fold change</text>
<circle cx="453.80" cy="601.40" r="1.25" fill="#8c8c8c" stroke="none" stroke-width="0"/>
<text x="459.60" y="603.90" font-size="6.42" text-anchor="start" fill="#2a2a2a" stroke="#2a2a2a" stroke-width="0.13" textLength="11.00" lengthAdjust="spacingAndGlyphs" >0.25</text>
<circle cx="453.80" cy="615.60" r="2.30" fill="#8c8c8c" stroke="none" stroke-width="0"/>
<text x="459.60" y="618.10" font-size="6.42" text-anchor="start" fill="#2a2a2a" stroke="#2a2a2a" stroke-width="0.13" textLength="11.00" lengthAdjust="spacingAndGlyphs" >0.50</text>
<circle cx="453.80" cy="629.70" r="2.75" fill="#8c8c8c" stroke="none" stroke-width="0"/>
<text x="459.60" y="632.20" font-size="6.42" text-anchor="start" fill="#2a2a2a" stroke="#2a2a2a" stroke-width="0.13" textLength="11.00" lengthAdjust="spacingAndGlyphs" >0.75</text>
<circle cx="453.00" cy="650.80" r="3.80" fill="#c4122e" stroke="#8e0a1f" stroke-width="0.5"/>
<text x="461.50" y="648.60" font-size="5.99" text-anchor="start" fill="#2a2a2a" stroke="#2a2a2a" stroke-width="0.13" textLength="32.50" lengthAdjust="spacingAndGlyphs" >Upregulated</text>
<text x="461.50" y="655.50" font-size="5.99" text-anchor="start" fill="#2a2a2a" stroke="#2a2a2a" stroke-width="0.13" textLength="18.70" lengthAdjust="spacingAndGlyphs" >in AZM</text>
<circle cx="453.00" cy="670.70" r="3.80" fill="#17427c" stroke="#0c2b55" stroke-width="0.5"/>
<text x="461.50" y="668.50" font-size="5.99" text-anchor="start" fill="#2a2a2a" stroke="#2a2a2a" stroke-width="0.13" textLength="40.30" lengthAdjust="spacingAndGlyphs" >Downregulated</text>
<text x="461.50" y="675.40" font-size="5.99" text-anchor="start" fill="#2a2a2a" stroke="#2a2a2a" stroke-width="0.13" textLength="18.70" lengthAdjust="spacingAndGlyphs" >in AZM</text>
</svg>
</body></html>
